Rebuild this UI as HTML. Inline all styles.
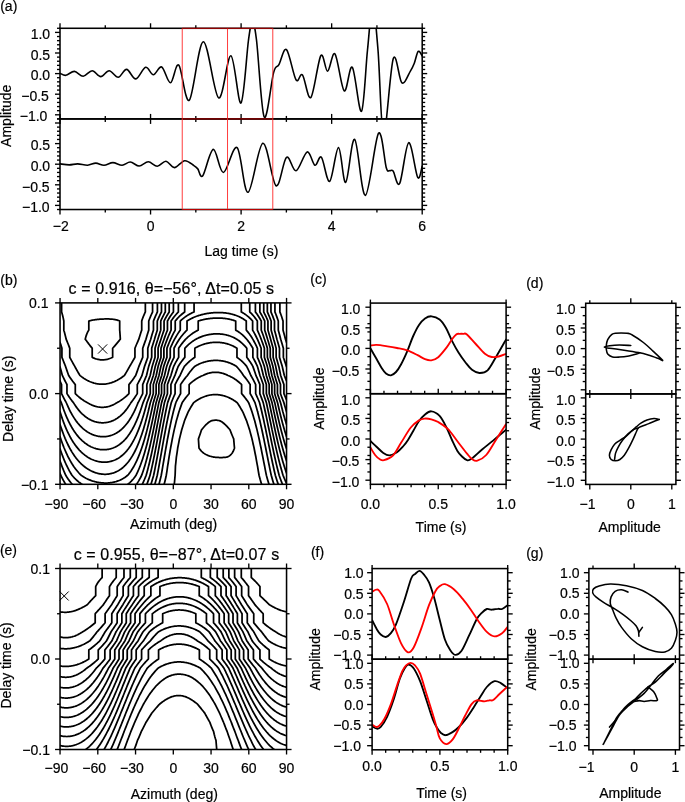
<!DOCTYPE html>
<html><head><meta charset="utf-8"><title>figure</title>
<style>html,body{margin:0;padding:0;background:#fff;}svg{display:block;will-change:transform;}text{font-family:"Liberation Sans",sans-serif;fill:#000;stroke:#000;stroke-width:0.2px;}</style>
</head><body>
<svg width="685" height="802" viewBox="0 0 685 802" font-family="Liberation Sans, sans-serif">
<rect width="685" height="802" fill="#fff"/>
<defs>
<clipPath id="ca1"><rect x="60" y="28.28" width="362.2" height="90.64"/></clipPath>
<clipPath id="ca2"><rect x="60" y="118.92" width="362.2" height="90.6"/></clipPath>
</defs>
<path d="M60.2,73.4C61.15,73.72 63.53,75.63 65.9,75.3C68.27,74.97 71.52,71.25 74.4,71.4C77.28,71.55 80.23,76.32 83.2,76.2C86.17,76.08 89.28,70.63 92.2,70.7C95.12,70.77 97.87,76.6 100.7,76.6C103.53,76.6 106.28,70.58 109.2,70.7C112.12,70.82 115.3,77.52 118.2,77.3C121.1,77.08 123.67,69.13 126.6,69.4C129.53,69.67 132.63,79.25 135.8,78.9C138.97,78.55 142.67,68 145.6,67.3C148.53,66.6 150.72,74.75 153.4,74.7C156.08,74.65 158.85,65.65 161.7,67C164.55,68.35 167.65,83.12 170.5,82.8C173.35,82.48 175.67,62.2 178.8,65.1C181.93,68 185.22,104.08 189.3,100.2C193.38,96.32 198.42,42.18 203.3,41.8C208.18,41.42 214,95.58 218.6,97.9C223.2,100.22 227.17,54.85 230.9,55.7C234.63,56.55 238.07,105.62 241,103C243.93,100.38 246.62,53.5 248.5,40C250.38,26.5 250.97,22 252.3,22C253.63,22 254.52,24.17 256.5,40C258.48,55.83 261.35,111.57 264.2,117C267.05,122.43 271.15,81.32 273.6,72.6C276.05,63.88 276.75,68.53 278.9,64.7C281.05,60.87 283.65,47.08 286.5,49.6C289.35,52.12 293.33,75.58 296,79.8C298.67,84.02 300.02,71.95 302.5,74.9C304.98,77.85 307.85,100.7 310.9,97.5C313.95,94.3 318.02,60.08 320.8,55.7C323.58,51.32 325.23,71.5 327.6,71.2C329.97,70.9 332.23,50.62 335,53.9C337.77,57.18 341.32,88.67 344.2,90.9C347.08,93.13 349.42,63.9 352.3,67.3C355.18,70.7 358.97,114.18 361.5,111.3C364.03,108.42 365.63,67.72 367.5,50C369.37,32.28 370.95,5 372.7,5C374.45,5 376.18,28.33 378,50C379.82,71.67 381.05,133.57 383.6,135C386.15,136.43 390.25,67.28 393.3,58.6C396.35,49.92 399.05,80.82 401.9,82.9C404.75,84.98 408.33,74.38 410.4,71.1C412.47,67.82 413,66.48 414.3,63.2C415.6,59.92 416.88,52.6 418.2,51.4C419.52,50.2 421.53,55.23 422.2,56" fill="none" stroke="#000" stroke-width="1.6" stroke-linejoin="round" stroke-linecap="round" clip-path="url(#ca1)"/>
<path d="M60.2,163.9C61.7,164.07 66.28,164.9 69.2,164.9C72.12,164.9 74.63,163.85 77.7,163.9C80.77,163.95 84.58,165.33 87.6,165.2C90.62,165.07 93.07,163.1 95.8,163.1C98.53,163.1 101.15,165.28 104,165.2C106.85,165.12 109.88,162.6 112.9,162.6C115.92,162.6 119.2,165.3 122.1,165.2C125,165.1 127.45,161.87 130.3,162C133.15,162.13 136.2,166.03 139.2,166C142.2,165.97 145.28,161.77 148.3,161.8C151.32,161.83 154.35,166.3 157.3,166.2C160.25,166.1 163.15,160.97 166,161.2C168.85,161.43 171.28,167.68 174.4,167.6C177.52,167.52 181.45,161.03 184.7,160.7C187.95,160.37 191.72,164.23 193.9,165.6C196.08,166.97 196.32,167.22 197.8,168.9C199.28,170.58 200.22,178.95 202.8,175.7C205.38,172.45 209.87,149.93 213.3,149.4C216.73,148.87 219.43,172.8 223.4,172.5C227.37,172.2 233,144.3 237.1,147.6C241.2,150.9 243.72,193.03 248,192.3C252.28,191.57 258.13,144.3 262.8,143.2C267.47,142.1 272.05,183.35 276,185.7C279.95,188.05 283.17,159.78 286.5,157.3C289.83,154.82 292.55,171.7 296,170.8C299.45,169.9 304.05,152.83 307.2,151.9C310.35,150.97 312.53,164.3 314.9,165.2C317.27,166.1 318.93,154.6 321.4,157.3C323.87,160 326.85,183.02 329.7,181.4C332.55,179.78 335.83,147.45 338.5,147.6C341.17,147.75 343,183.68 345.7,182.3C348.4,180.92 351.42,137.12 354.7,139.3C357.98,141.48 361.43,196.4 365.4,195.4C369.37,194.4 375.03,137.97 378.5,133.3C381.97,128.63 384.37,161.17 386.2,167.4C388.03,173.63 388.35,170.08 389.5,170.7C390.65,171.32 391.4,168.98 393.1,171.1C394.8,173.22 397.1,188.13 399.7,183.4C402.3,178.67 405.7,143.7 408.7,142.7C411.7,141.7 415.45,173.52 417.7,177.4C419.95,181.28 421.45,167.9 422.2,166" fill="none" stroke="#000" stroke-width="1.6" stroke-linejoin="round" stroke-linecap="round" clip-path="url(#ca2)"/>
<rect x="60" y="28.28" width="362.2" height="90.64" fill="none" stroke="#000" stroke-width="1.55"/>
<rect x="60" y="118.92" width="362.2" height="90.6" fill="none" stroke="#000" stroke-width="1.55"/>
<line x1="57" y1="118.92" x2="60" y2="118.92" stroke="#000" stroke-width="1.35"/>
<line x1="422.2" y1="118.92" x2="425.2" y2="118.92" stroke="#000" stroke-width="1.35"/>
<line x1="55" y1="114.8" x2="60" y2="114.8" stroke="#000" stroke-width="1.35"/>
<line x1="422.2" y1="114.8" x2="427.2" y2="114.8" stroke="#000" stroke-width="1.35"/>
<line x1="57" y1="110.68" x2="60" y2="110.68" stroke="#000" stroke-width="1.35"/>
<line x1="422.2" y1="110.68" x2="425.2" y2="110.68" stroke="#000" stroke-width="1.35"/>
<line x1="57" y1="106.56" x2="60" y2="106.56" stroke="#000" stroke-width="1.35"/>
<line x1="422.2" y1="106.56" x2="425.2" y2="106.56" stroke="#000" stroke-width="1.35"/>
<line x1="57" y1="102.44" x2="60" y2="102.44" stroke="#000" stroke-width="1.35"/>
<line x1="422.2" y1="102.44" x2="425.2" y2="102.44" stroke="#000" stroke-width="1.35"/>
<line x1="57" y1="98.32" x2="60" y2="98.32" stroke="#000" stroke-width="1.35"/>
<line x1="422.2" y1="98.32" x2="425.2" y2="98.32" stroke="#000" stroke-width="1.35"/>
<line x1="55" y1="94.2" x2="60" y2="94.2" stroke="#000" stroke-width="1.35"/>
<line x1="422.2" y1="94.2" x2="427.2" y2="94.2" stroke="#000" stroke-width="1.35"/>
<line x1="57" y1="90.08" x2="60" y2="90.08" stroke="#000" stroke-width="1.35"/>
<line x1="422.2" y1="90.08" x2="425.2" y2="90.08" stroke="#000" stroke-width="1.35"/>
<line x1="57" y1="85.96" x2="60" y2="85.96" stroke="#000" stroke-width="1.35"/>
<line x1="422.2" y1="85.96" x2="425.2" y2="85.96" stroke="#000" stroke-width="1.35"/>
<line x1="57" y1="81.84" x2="60" y2="81.84" stroke="#000" stroke-width="1.35"/>
<line x1="422.2" y1="81.84" x2="425.2" y2="81.84" stroke="#000" stroke-width="1.35"/>
<line x1="57" y1="77.72" x2="60" y2="77.72" stroke="#000" stroke-width="1.35"/>
<line x1="422.2" y1="77.72" x2="425.2" y2="77.72" stroke="#000" stroke-width="1.35"/>
<line x1="55" y1="73.6" x2="60" y2="73.6" stroke="#000" stroke-width="1.35"/>
<line x1="422.2" y1="73.6" x2="427.2" y2="73.6" stroke="#000" stroke-width="1.35"/>
<line x1="57" y1="69.48" x2="60" y2="69.48" stroke="#000" stroke-width="1.35"/>
<line x1="422.2" y1="69.48" x2="425.2" y2="69.48" stroke="#000" stroke-width="1.35"/>
<line x1="57" y1="65.36" x2="60" y2="65.36" stroke="#000" stroke-width="1.35"/>
<line x1="422.2" y1="65.36" x2="425.2" y2="65.36" stroke="#000" stroke-width="1.35"/>
<line x1="57" y1="61.24" x2="60" y2="61.24" stroke="#000" stroke-width="1.35"/>
<line x1="422.2" y1="61.24" x2="425.2" y2="61.24" stroke="#000" stroke-width="1.35"/>
<line x1="57" y1="57.12" x2="60" y2="57.12" stroke="#000" stroke-width="1.35"/>
<line x1="422.2" y1="57.12" x2="425.2" y2="57.12" stroke="#000" stroke-width="1.35"/>
<line x1="55" y1="53" x2="60" y2="53" stroke="#000" stroke-width="1.35"/>
<line x1="422.2" y1="53" x2="427.2" y2="53" stroke="#000" stroke-width="1.35"/>
<line x1="57" y1="48.88" x2="60" y2="48.88" stroke="#000" stroke-width="1.35"/>
<line x1="422.2" y1="48.88" x2="425.2" y2="48.88" stroke="#000" stroke-width="1.35"/>
<line x1="57" y1="44.76" x2="60" y2="44.76" stroke="#000" stroke-width="1.35"/>
<line x1="422.2" y1="44.76" x2="425.2" y2="44.76" stroke="#000" stroke-width="1.35"/>
<line x1="57" y1="40.64" x2="60" y2="40.64" stroke="#000" stroke-width="1.35"/>
<line x1="422.2" y1="40.64" x2="425.2" y2="40.64" stroke="#000" stroke-width="1.35"/>
<line x1="57" y1="36.52" x2="60" y2="36.52" stroke="#000" stroke-width="1.35"/>
<line x1="422.2" y1="36.52" x2="425.2" y2="36.52" stroke="#000" stroke-width="1.35"/>
<line x1="55" y1="32.4" x2="60" y2="32.4" stroke="#000" stroke-width="1.35"/>
<line x1="422.2" y1="32.4" x2="427.2" y2="32.4" stroke="#000" stroke-width="1.35"/>
<line x1="57" y1="28.28" x2="60" y2="28.28" stroke="#000" stroke-width="1.35"/>
<line x1="422.2" y1="28.28" x2="425.2" y2="28.28" stroke="#000" stroke-width="1.35"/>
<text x="50.1" y="39.2" font-size="14" text-anchor="end">1.0</text>
<text x="50.1" y="59.8" font-size="14" text-anchor="end">0.5</text>
<text x="50.1" y="80.4" font-size="14" text-anchor="end">0.0</text>
<text x="48.9" y="101" font-size="14" text-anchor="end">−0.5</text>
<text x="47.4" y="121.4" font-size="14" text-anchor="end">−1.0</text>
<line x1="57" y1="209.52" x2="60" y2="209.52" stroke="#000" stroke-width="1.35"/>
<line x1="422.2" y1="209.52" x2="425.2" y2="209.52" stroke="#000" stroke-width="1.35"/>
<line x1="55" y1="205.4" x2="60" y2="205.4" stroke="#000" stroke-width="1.35"/>
<line x1="422.2" y1="205.4" x2="427.2" y2="205.4" stroke="#000" stroke-width="1.35"/>
<line x1="57" y1="201.28" x2="60" y2="201.28" stroke="#000" stroke-width="1.35"/>
<line x1="422.2" y1="201.28" x2="425.2" y2="201.28" stroke="#000" stroke-width="1.35"/>
<line x1="57" y1="197.16" x2="60" y2="197.16" stroke="#000" stroke-width="1.35"/>
<line x1="422.2" y1="197.16" x2="425.2" y2="197.16" stroke="#000" stroke-width="1.35"/>
<line x1="57" y1="193.04" x2="60" y2="193.04" stroke="#000" stroke-width="1.35"/>
<line x1="422.2" y1="193.04" x2="425.2" y2="193.04" stroke="#000" stroke-width="1.35"/>
<line x1="57" y1="188.92" x2="60" y2="188.92" stroke="#000" stroke-width="1.35"/>
<line x1="422.2" y1="188.92" x2="425.2" y2="188.92" stroke="#000" stroke-width="1.35"/>
<line x1="55" y1="184.8" x2="60" y2="184.8" stroke="#000" stroke-width="1.35"/>
<line x1="422.2" y1="184.8" x2="427.2" y2="184.8" stroke="#000" stroke-width="1.35"/>
<line x1="57" y1="180.68" x2="60" y2="180.68" stroke="#000" stroke-width="1.35"/>
<line x1="422.2" y1="180.68" x2="425.2" y2="180.68" stroke="#000" stroke-width="1.35"/>
<line x1="57" y1="176.56" x2="60" y2="176.56" stroke="#000" stroke-width="1.35"/>
<line x1="422.2" y1="176.56" x2="425.2" y2="176.56" stroke="#000" stroke-width="1.35"/>
<line x1="57" y1="172.44" x2="60" y2="172.44" stroke="#000" stroke-width="1.35"/>
<line x1="422.2" y1="172.44" x2="425.2" y2="172.44" stroke="#000" stroke-width="1.35"/>
<line x1="57" y1="168.32" x2="60" y2="168.32" stroke="#000" stroke-width="1.35"/>
<line x1="422.2" y1="168.32" x2="425.2" y2="168.32" stroke="#000" stroke-width="1.35"/>
<line x1="55" y1="164.2" x2="60" y2="164.2" stroke="#000" stroke-width="1.35"/>
<line x1="422.2" y1="164.2" x2="427.2" y2="164.2" stroke="#000" stroke-width="1.35"/>
<line x1="57" y1="160.08" x2="60" y2="160.08" stroke="#000" stroke-width="1.35"/>
<line x1="422.2" y1="160.08" x2="425.2" y2="160.08" stroke="#000" stroke-width="1.35"/>
<line x1="57" y1="155.96" x2="60" y2="155.96" stroke="#000" stroke-width="1.35"/>
<line x1="422.2" y1="155.96" x2="425.2" y2="155.96" stroke="#000" stroke-width="1.35"/>
<line x1="57" y1="151.84" x2="60" y2="151.84" stroke="#000" stroke-width="1.35"/>
<line x1="422.2" y1="151.84" x2="425.2" y2="151.84" stroke="#000" stroke-width="1.35"/>
<line x1="57" y1="147.72" x2="60" y2="147.72" stroke="#000" stroke-width="1.35"/>
<line x1="422.2" y1="147.72" x2="425.2" y2="147.72" stroke="#000" stroke-width="1.35"/>
<line x1="55" y1="143.6" x2="60" y2="143.6" stroke="#000" stroke-width="1.35"/>
<line x1="422.2" y1="143.6" x2="427.2" y2="143.6" stroke="#000" stroke-width="1.35"/>
<line x1="57" y1="139.48" x2="60" y2="139.48" stroke="#000" stroke-width="1.35"/>
<line x1="422.2" y1="139.48" x2="425.2" y2="139.48" stroke="#000" stroke-width="1.35"/>
<line x1="57" y1="135.36" x2="60" y2="135.36" stroke="#000" stroke-width="1.35"/>
<line x1="422.2" y1="135.36" x2="425.2" y2="135.36" stroke="#000" stroke-width="1.35"/>
<line x1="57" y1="131.24" x2="60" y2="131.24" stroke="#000" stroke-width="1.35"/>
<line x1="422.2" y1="131.24" x2="425.2" y2="131.24" stroke="#000" stroke-width="1.35"/>
<line x1="57" y1="127.12" x2="60" y2="127.12" stroke="#000" stroke-width="1.35"/>
<line x1="422.2" y1="127.12" x2="425.2" y2="127.12" stroke="#000" stroke-width="1.35"/>
<line x1="55" y1="123" x2="60" y2="123" stroke="#000" stroke-width="1.35"/>
<line x1="422.2" y1="123" x2="427.2" y2="123" stroke="#000" stroke-width="1.35"/>
<line x1="57" y1="118.88" x2="60" y2="118.88" stroke="#000" stroke-width="1.35"/>
<line x1="422.2" y1="118.88" x2="425.2" y2="118.88" stroke="#000" stroke-width="1.35"/>
<text x="50.1" y="150.3" font-size="14" text-anchor="end">0.5</text>
<text x="50.1" y="170.9" font-size="14" text-anchor="end">0.0</text>
<text x="49.6" y="191.5" font-size="14" text-anchor="end">−0.5</text>
<text x="49.6" y="212.1" font-size="14" text-anchor="end">−1.0</text>
<line x1="60" y1="23.28" x2="60" y2="28.28" stroke="#000" stroke-width="1.35"/>
<line x1="60" y1="118.92" x2="60" y2="123.92" stroke="#000" stroke-width="1.35"/>
<line x1="105.28" y1="25.28" x2="105.28" y2="28.28" stroke="#000" stroke-width="1.35"/>
<line x1="105.28" y1="118.92" x2="105.28" y2="121.92" stroke="#000" stroke-width="1.35"/>
<line x1="150.55" y1="23.28" x2="150.55" y2="28.28" stroke="#000" stroke-width="1.35"/>
<line x1="150.55" y1="118.92" x2="150.55" y2="123.92" stroke="#000" stroke-width="1.35"/>
<line x1="195.82" y1="25.28" x2="195.82" y2="28.28" stroke="#000" stroke-width="1.35"/>
<line x1="195.82" y1="118.92" x2="195.82" y2="121.92" stroke="#000" stroke-width="1.35"/>
<line x1="241.1" y1="23.28" x2="241.1" y2="28.28" stroke="#000" stroke-width="1.35"/>
<line x1="241.1" y1="118.92" x2="241.1" y2="123.92" stroke="#000" stroke-width="1.35"/>
<line x1="286.38" y1="25.28" x2="286.38" y2="28.28" stroke="#000" stroke-width="1.35"/>
<line x1="286.38" y1="118.92" x2="286.38" y2="121.92" stroke="#000" stroke-width="1.35"/>
<line x1="331.65" y1="23.28" x2="331.65" y2="28.28" stroke="#000" stroke-width="1.35"/>
<line x1="331.65" y1="118.92" x2="331.65" y2="123.92" stroke="#000" stroke-width="1.35"/>
<line x1="376.93" y1="25.28" x2="376.93" y2="28.28" stroke="#000" stroke-width="1.35"/>
<line x1="376.93" y1="118.92" x2="376.93" y2="121.92" stroke="#000" stroke-width="1.35"/>
<line x1="422.2" y1="23.28" x2="422.2" y2="28.28" stroke="#000" stroke-width="1.35"/>
<line x1="422.2" y1="118.92" x2="422.2" y2="123.92" stroke="#000" stroke-width="1.35"/>
<line x1="60" y1="113.92" x2="60" y2="118.92" stroke="#000" stroke-width="1.35"/>
<line x1="60" y1="209.52" x2="60" y2="214.52" stroke="#000" stroke-width="1.35"/>
<line x1="105.28" y1="115.92" x2="105.28" y2="118.92" stroke="#000" stroke-width="1.35"/>
<line x1="105.28" y1="209.52" x2="105.28" y2="212.52" stroke="#000" stroke-width="1.35"/>
<line x1="150.55" y1="113.92" x2="150.55" y2="118.92" stroke="#000" stroke-width="1.35"/>
<line x1="150.55" y1="209.52" x2="150.55" y2="214.52" stroke="#000" stroke-width="1.35"/>
<line x1="195.82" y1="115.92" x2="195.82" y2="118.92" stroke="#000" stroke-width="1.35"/>
<line x1="195.82" y1="209.52" x2="195.82" y2="212.52" stroke="#000" stroke-width="1.35"/>
<line x1="241.1" y1="113.92" x2="241.1" y2="118.92" stroke="#000" stroke-width="1.35"/>
<line x1="241.1" y1="209.52" x2="241.1" y2="214.52" stroke="#000" stroke-width="1.35"/>
<line x1="286.38" y1="115.92" x2="286.38" y2="118.92" stroke="#000" stroke-width="1.35"/>
<line x1="286.38" y1="209.52" x2="286.38" y2="212.52" stroke="#000" stroke-width="1.35"/>
<line x1="331.65" y1="113.92" x2="331.65" y2="118.92" stroke="#000" stroke-width="1.35"/>
<line x1="331.65" y1="209.52" x2="331.65" y2="214.52" stroke="#000" stroke-width="1.35"/>
<line x1="376.93" y1="115.92" x2="376.93" y2="118.92" stroke="#000" stroke-width="1.35"/>
<line x1="376.93" y1="209.52" x2="376.93" y2="212.52" stroke="#000" stroke-width="1.35"/>
<line x1="422.2" y1="113.92" x2="422.2" y2="118.92" stroke="#000" stroke-width="1.35"/>
<line x1="422.2" y1="209.52" x2="422.2" y2="214.52" stroke="#000" stroke-width="1.35"/>
<text x="60.8" y="230.72" font-size="14" text-anchor="middle">−2</text>
<text x="150.55" y="230.72" font-size="14" text-anchor="middle">0</text>
<text x="241.1" y="230.72" font-size="14" text-anchor="middle">2</text>
<text x="331.65" y="230.72" font-size="14" text-anchor="middle">4</text>
<text x="422.2" y="230.72" font-size="14" text-anchor="middle">6</text>
<text x="241.5" y="256" font-size="14" text-anchor="middle">Lag time (s)</text>
<text x="10.6" y="115.75" font-size="14" text-anchor="middle" transform="rotate(-90 10.6 115.75)">Amplitude</text>
<text x="0.2" y="10.7" font-size="14" text-anchor="start">(a)</text>
<line x1="182.24" y1="28.28" x2="182.24" y2="209.52" stroke="#f33" stroke-width="0.95"/>
<line x1="227.52" y1="28.28" x2="227.52" y2="209.52" stroke="#f33" stroke-width="0.95"/>
<line x1="272.79" y1="28.28" x2="272.79" y2="209.52" stroke="#f33" stroke-width="0.95"/>
<line x1="182.24" y1="28.28" x2="272.79" y2="28.28" stroke="#b00" stroke-width="1"/>
<line x1="182.24" y1="118.92" x2="272.79" y2="118.92" stroke="#b00" stroke-width="1"/>
<line x1="182.24" y1="209.52" x2="272.79" y2="209.52" stroke="#b00" stroke-width="1"/>
<defs><clipPath id="cb"><rect x="60.05" y="302.9" width="226.5" height="181.4"/></clipPath></defs>
<path d="M219.91,420.81 220.49,421.1 221.12,421.45 221.75,421.84 222.38,422.27 223,422.73 223.63,423.23 224.26,423.76 224.89,424.33 225.52,424.92 226.15,425.54 226.78,426.19 227.41,426.86 228.04,427.56 228.67,428.28 229.3,429.02 229.92,429.78 230,429.88 230.55,431.31 231.18,432.92 231.81,434.49 232.44,436.02 233.07,437.52 233.69,438.95 233.7,439.13 234.33,446.49 234.5,448.02 234.33,448.54 233.7,450.2 233.07,451.54 232.44,452.64 231.81,453.55 231.18,454.3 230.55,454.93 229.92,455.46 229.3,455.9 228.67,456.28 228.04,456.59 227.41,456.85 226.78,457.07 226.73,457.09 226.15,457.19 225.52,457.28 224.89,457.35 224.26,457.41 223.63,457.46 223,457.49 222.38,457.52 221.75,457.54 221.12,457.54 220.49,457.54 219.86,457.53 219.23,457.51 218.6,457.49 217.97,457.46 217.34,457.42 216.71,457.38 216.08,457.33 215.45,457.27 214.82,457.21 214.2,457.14 213.81,457.09 213.57,457.04 212.94,456.91 212.31,456.77 211.68,456.61 211.05,456.45 210.42,456.26 209.79,456.07 209.16,455.86 208.53,455.63 207.9,455.38 207.27,455.11 206.65,454.82 206.02,454.51 205.39,454.17 204.76,453.79 204.13,453.38 203.5,452.94 202.87,452.45 202.24,451.9 201.61,451.31 200.98,450.64 200.35,449.9 199.73,449.08 199.1,448.16 199.01,448.02 198.47,439.78 198.43,438.95 198.47,438.84 199.1,437.08 199.73,435.28 200.35,433.42 200.98,431.52 201.52,429.88 201.61,429.75 202.24,428.96 202.87,428.19 203.5,427.44 204.13,426.72 204.76,426.02 205.39,425.36 206.02,424.72 206.65,424.12 207.27,423.55 207.9,423.02 208.53,422.52 209.16,422.06 209.79,421.64 210.42,421.26 211.05,420.92 211.29,420.81 211.68,420.7 212.31,420.56 212.94,420.43 213.57,420.34 214.2,420.27 214.82,420.22 215.45,420.2 216.08,420.21 216.71,420.24 217.34,420.3 217.97,420.39 218.6,420.5 219.23,420.63 219.86,420.79 219.91,420.81" fill="none" stroke="#000" stroke-width="1.75" stroke-linejoin="round" stroke-linecap="round" clip-path="url(#cb)"/>
<path d="M174.23,484.3 174.56,481.61 175.11,475.23 175.19,473.37 175.44,466.16 175.82,462.77 176.36,457.09 176.45,456.56 177.08,452.52 177.7,448.02 177.7,448.02 178.33,444.91 178.96,441.64 179.46,438.95 179.59,438.4 180.22,435.89 180.85,433.32 181.48,430.68 181.67,429.88 182.11,428.47 182.74,426.46 183.37,424.45 184,422.43 184.5,420.81 184.62,420.49 185.25,418.93 185.88,417.39 186.51,415.87 187.14,414.36 187.77,412.87 188.26,411.74 188.4,411.47 189.03,410.33 189.66,409.21 190.29,408.11 190.92,407.04 191.55,406 192.18,404.98 192.8,403.98 193.43,403.01 193.66,402.67 194.06,402.36 194.69,401.9 195.32,401.45 195.95,401.01 196.58,400.59 197.21,400.19 197.84,399.8 198.47,399.42 199.1,399.06 199.73,398.72 200.35,398.39 200.98,398.07 201.61,397.77 202.24,397.48 202.87,397.21 203.5,396.95 204.13,396.71 204.76,396.48 205.39,396.26 206.02,396.05 206.65,395.86 207.27,395.69 207.9,395.52 208.53,395.37 209.16,395.24 209.79,395.11 210.42,395 211.05,394.91 211.68,394.82 212.31,394.75 212.94,394.7 213.57,394.65 214.2,394.62 214.82,394.6 215.45,394.6 216.08,394.61 216.71,394.63 217.34,394.66 217.97,394.71 218.6,394.77 219.23,394.85 219.86,394.93 220.49,395.03 221.12,395.15 221.75,395.27 222.38,395.41 223,395.56 223.63,395.73 224.26,395.91 224.89,396.1 225.52,396.31 226.15,396.53 226.78,396.76 227.41,397.01 228.04,397.27 228.67,397.55 229.3,397.84 229.92,398.14 230.55,398.45 231.18,398.79 231.81,399.13 232.44,399.49 233.07,399.86 233.7,400.25 234.33,400.66 234.96,401.08 235.59,401.51 236.22,401.96 236.85,402.42 237.17,402.67 237.48,403.12 238.1,404.07 238.73,405.05 239.36,406.05 239.99,407.07 240.62,408.12 241.25,409.19 241.88,410.28 242.51,411.39 242.7,411.74 243.14,412.73 243.77,414.16 244.4,415.61 245.02,417.08 245.65,418.56 246.28,420.05 246.6,420.81 246.91,421.76 247.54,423.67 248.17,425.58 248.8,427.47 249.43,429.36 249.6,429.88 250.06,431.63 250.69,434.01 251.32,436.33 251.95,438.61 252.04,438.95 252.58,441.43 253.2,444.23 253.83,446.92 254.09,448.02 254.46,450 255.09,453.23 255.72,456.27 255.89,457.09 256.35,459.84 256.98,463.35 257.52,466.16 257.61,466.73 258.24,470.71 258.87,474.25 259.05,475.23 259.5,476.96 260.12,479.27 260.75,481.41 261.38,483.42 261.67,484.3" fill="none" stroke="#000" stroke-width="1.75" stroke-linejoin="round" stroke-linecap="round" clip-path="url(#cb)"/>
<path d="M164.16,484.3 164.49,483.01 165.12,480.44 165.75,477.69 166.27,475.23 166.38,474.58 167.01,470.52 167.62,466.16 167.64,466.06 168.27,462.24 168.9,458.14 169.05,457.09 169.52,454.41 170.15,450.7 170.59,448.02 170.78,447.02 171.41,443.72 172.04,440.3 172.29,438.95 172.67,437.14 173.3,434.17 173.93,431.14 174.19,429.88 174.56,428.36 175.19,425.76 175.82,423.16 176.38,420.81 176.45,420.58 177.08,418.37 177.7,416.17 178.33,413.98 178.96,411.81 178.98,411.74 179.59,409.96 180.22,408.16 180.85,406.37 181.48,404.62 182.11,402.89 182.19,402.67 182.74,401.86 183.37,400.95 184,400.07 184.62,399.2 185.25,398.36 185.88,397.53 186.51,396.73 187.14,395.95 187.77,395.19 188.4,394.45 189.03,393.72 189.14,393.6 189.14,384.53 189.66,384.05 190.29,383.47 190.92,382.92 191.55,382.39 192.18,381.87 192.8,381.37 193.43,380.88 194.06,380.42 194.69,379.97 195.32,379.53 195.95,379.11 196.58,378.71 197.21,378.32 197.84,377.95 198.47,377.59 199.1,377.25 199.73,376.92 200.35,376.6 200.98,376.3 201.61,376.02 202.24,375.74 202.87,375.48 202.93,375.46 203.5,375.17 204.13,374.88 204.76,374.59 205.39,374.33 206.02,374.08 206.65,373.85 207.27,373.63 207.9,373.43 208.53,373.25 209.16,373.08 209.79,372.93 210.42,372.8 211.05,372.68 211.68,372.58 212.31,372.49 212.94,372.42 213.57,372.36 214.2,372.32 214.82,372.3 215.45,372.29 216.08,372.29 216.71,372.32 217.34,372.35 217.97,372.41 218.6,372.48 219.23,372.56 219.86,372.66 220.49,372.78 221.12,372.91 221.75,373.06 222.38,373.23 223,373.41 223.63,373.61 224.26,373.82 224.89,374.06 225.52,374.31 226.15,374.57 226.78,374.86 227.41,375.16 227.99,375.46 228.04,375.48 228.67,375.74 229.3,376.02 229.92,376.31 230.55,376.61 231.18,376.93 231.81,377.26 232.44,377.61 233.07,377.97 233.7,378.35 234.33,378.74 234.96,379.15 235.59,379.58 236.22,380.02 236.85,380.48 237.48,380.96 238.1,381.45 238.73,381.96 239.36,382.49 239.99,383.04 240.62,383.61 241.25,384.19 241.6,384.53 241.6,393.6 241.88,393.91 242.51,394.63 243.14,395.37 243.77,396.13 244.4,396.9 245.02,397.7 245.65,398.51 246.28,399.35 246.91,400.2 247.54,401.08 248.17,401.98 248.64,402.67 248.8,403.07 249.43,404.75 250.06,406.44 250.69,408.16 251.32,409.91 251.95,411.67 251.97,411.74 252.58,413.74 253.2,415.82 253.83,417.91 254.46,420.01 254.7,420.81 255.09,422.34 255.72,424.79 256.35,427.22 256.98,429.64 257.04,429.88 257.61,432.4 258.24,435.16 258.87,437.86 259.12,438.95 259.5,440.79 260.12,443.82 260.75,446.75 261.03,448.02 261.38,449.87 262.01,453.07 262.64,456.14 262.84,457.09 263.27,459.42 263.9,462.68 264.53,465.78 264.61,466.16 265.16,469.13 265.79,472.34 266.39,475.23 266.42,475.35 267.05,477.69 267.68,479.94 268.3,482.08 268.93,484.15 268.98,484.3" fill="none" stroke="#000" stroke-width="1.75" stroke-linejoin="round" stroke-linecap="round" clip-path="url(#cb)"/>
<path d="M158.99,484.3 159.46,482.54 160.09,480.09 160.72,477.53 161.26,475.23 161.35,474.73 161.98,471.17 162.6,467.39 162.8,466.16 163.23,463.72 163.86,460.02 164.34,457.09 164.49,456.24 165.12,452.68 165.75,448.97 165.91,448.02 166.38,445.47 167.01,441.99 167.54,438.95 167.64,438.47 168.27,435.25 168.9,431.97 169.29,429.88 169.52,428.78 170.15,425.81 170.78,422.82 171.21,420.81 171.41,419.92 172.04,417.26 172.67,414.6 173.3,411.95 173.35,411.74 173.93,409.58 174.56,407.27 175.19,404.98 175.82,402.71 175.83,402.67 176.45,401.42 177.08,400.16 177.7,398.93 178.33,397.73 178.96,396.55 179.59,395.39 180.22,394.26 180.6,393.6 180.6,384.53 180.85,384.14 181.48,383.2 182.11,382.29 182.74,381.4 183.37,380.54 184,379.69 184.62,378.87 185.25,378.08 185.88,377.3 186.51,376.55 187.14,375.82 187.46,375.46 187.77,374.99 188.4,374.07 189.03,373.19 189.66,372.33 190.29,371.5 190.92,370.7 191.55,369.93 192.18,369.18 192.8,368.45 193.43,367.76 194.06,367.09 194.69,366.44 194.74,366.39 195.32,366.04 195.95,365.68 196.58,365.33 197.21,365 197.84,364.68 198.47,364.37 199.1,364.08 199.73,363.8 200.35,363.53 200.98,363.27 201.61,363.03 202.24,362.8 202.87,362.57 203.5,362.37 204.13,362.17 204.76,361.98 205.39,361.81 206.02,361.64 206.65,361.49 207.27,361.34 207.9,361.21 208.53,361.09 209.16,360.98 209.79,360.88 210.42,360.78 211.05,360.7 211.68,360.63 212.31,360.57 212.94,360.52 213.57,360.48 214.2,360.44 214.82,360.42 215.45,360.41 216.08,360.41 216.71,360.42 217.34,360.44 217.97,360.47 218.6,360.5 219.23,360.55 219.86,360.61 220.49,360.68 221.12,360.76 221.75,360.85 222.38,360.95 223,361.07 223.63,361.19 224.26,361.32 224.89,361.47 225.52,361.62 226.15,361.79 226.78,361.97 227.41,362.16 228.04,362.37 228.67,362.58 229.3,362.81 229.92,363.05 230.55,363.31 231.18,363.58 231.81,363.86 232.44,364.16 233.07,364.47 233.7,364.79 234.33,365.13 234.96,365.49 235.59,365.86 236.22,366.25 236.43,366.39 236.85,366.82 237.48,367.51 238.1,368.22 238.73,368.96 239.36,369.73 239.99,370.53 240.62,371.35 241.25,372.21 241.88,373.1 242.51,374.02 243.14,374.98 243.45,375.46 243.77,375.83 244.4,376.58 245.02,377.35 245.65,378.14 246.28,378.96 246.91,379.8 247.54,380.67 248.17,381.56 248.8,382.47 249.43,383.41 250.06,384.38 250.15,384.53 250.15,393.6 250.69,394.53 251.32,395.65 251.95,396.79 252.58,397.95 253.2,399.14 253.83,400.35 254.46,401.58 255.01,402.67 255.09,402.94 255.72,405.12 256.35,407.31 256.98,409.52 257.61,411.74 257.61,411.75 258.24,414.26 258.87,416.77 259.5,419.27 259.88,420.81 260.12,421.9 260.75,424.69 261.38,427.45 261.94,429.88 262.01,430.23 262.64,433.25 263.27,436.22 263.86,438.95 263.9,439.15 264.53,442.33 265.16,445.42 265.7,448.02 265.79,448.48 266.42,451.72 267.05,454.85 267.51,457.09 267.68,457.96 268.3,461.16 268.93,464.25 269.34,466.16 269.56,467.31 270.19,470.41 270.82,473.37 271.23,475.23 271.45,476.03 272.08,478.25 272.71,480.39 273.34,482.44 273.93,484.3" fill="none" stroke="#000" stroke-width="1.75" stroke-linejoin="round" stroke-linecap="round" clip-path="url(#cb)"/>
<path d="M154.83,484.3 155.05,483.53 155.68,481.3 156.31,478.98 156.94,476.56 157.28,475.23 157.57,473.71 158.2,470.37 158.83,466.88 158.96,466.16 159.46,463.45 160.09,459.93 160.58,457.09 160.72,456.33 161.35,452.84 161.98,449.23 162.18,448.02 162.6,445.71 163.23,442.2 163.8,438.95 163.86,438.63 164.49,435.26 165.12,431.84 165.48,429.88 165.75,428.49 166.38,425.28 167.01,422.04 167.25,420.81 167.64,418.96 168.27,415.97 168.9,412.99 169.16,411.74 169.52,410.16 170.15,407.46 170.78,404.77 171.28,402.67 171.41,402.34 172.04,400.79 172.67,399.26 173.3,397.75 173.93,396.27 174.56,394.82 175.09,393.6 175.09,384.53 175.19,384.34 175.82,383.1 176.45,381.88 177.08,380.69 177.7,379.53 178.33,378.39 178.96,377.28 179.59,376.2 180.03,375.46 180.22,375.03 180.85,373.63 181.48,372.27 182.11,370.95 182.74,369.67 183.37,368.43 184,367.22 184.44,366.39 184.62,366.18 185.25,365.48 185.88,364.81 186.51,364.15 187.14,363.52 187.77,362.91 188.4,362.32 189.03,361.75 189.66,361.19 190.29,360.66 190.92,360.14 191.55,359.65 192.18,359.17 192.8,358.7 193.43,358.26 194.06,357.83 194.69,357.41 194.84,357.32 194.84,348.25 195.32,347.96 195.95,347.61 196.58,347.26 197.21,346.93 197.84,346.62 198.47,346.31 199.1,346.02 199.73,345.75 200.35,345.48 200.98,345.23 201.61,344.98 202.24,344.75 202.87,344.53 203.5,344.33 204.13,344.13 204.76,343.94 205.39,343.77 206.02,343.6 206.65,343.45 207.27,343.3 207.9,343.17 208.53,343.04 209.16,342.93 209.79,342.82 210.42,342.73 211.05,342.64 211.68,342.57 212.31,342.5 212.94,342.44 213.57,342.4 214.2,342.36 214.82,342.33 215.45,342.31 216.08,342.3 216.71,342.3 217.34,342.32 217.97,342.34 218.6,342.37 219.23,342.41 219.86,342.46 220.49,342.52 221.12,342.59 221.75,342.67 222.38,342.76 223,342.86 223.63,342.97 224.26,343.09 224.89,343.23 225.52,343.37 226.15,343.53 226.78,343.69 227.41,343.87 228.04,344.06 228.67,344.27 229.3,344.48 229.92,344.71 230.55,344.95 231.18,345.21 231.81,345.48 232.44,345.76 233.07,346.06 233.7,346.37 234.33,346.7 234.96,347.04 235.59,347.4 236.22,347.78 236.85,348.17 236.97,348.25 236.97,357.32 237.48,357.67 238.1,358.12 238.73,358.59 239.36,359.08 239.99,359.59 240.62,360.12 241.25,360.67 241.88,361.24 242.51,361.84 243.14,362.45 243.77,363.1 244.4,363.76 245.02,364.45 245.65,365.17 246.28,365.91 246.68,366.39 246.91,366.84 247.54,368.1 248.17,369.41 248.8,370.75 249.43,372.14 250.06,373.57 250.69,375.04 250.86,375.46 251.32,376.25 251.95,377.36 252.58,378.51 253.2,379.68 253.83,380.88 254.46,382.11 255.09,383.37 255.66,384.53 255.66,393.6 255.72,393.74 256.35,395.14 256.98,396.57 257.61,398.02 258.24,399.49 258.87,400.99 259.5,402.5 259.56,402.67 260.12,404.93 260.75,407.48 261.38,410.04 261.8,411.74 262.01,412.69 262.64,415.48 263.27,418.27 263.85,420.81 263.9,421.06 264.53,424.06 265.16,427.02 265.77,429.88 265.79,429.96 266.42,433.09 267.05,436.16 267.63,438.95 267.68,439.18 268.3,442.36 268.93,445.46 269.47,448.02 269.56,448.51 270.19,451.67 270.82,454.71 271.32,457.09 271.45,457.71 272.08,460.76 272.71,463.7 273.25,466.16 273.34,466.56 273.97,469.46 274.6,472.25 275.23,474.92 275.3,475.23 275.85,477.07 276.48,479.08 277.11,481.02 277.74,482.88 278.24,484.3" fill="none" stroke="#000" stroke-width="1.75" stroke-linejoin="round" stroke-linecap="round" clip-path="url(#cb)"/>
<path d="M150.93,484.3 151.28,483.21 151.91,481.21 152.54,479.12 153.17,476.95 153.65,475.23 153.8,474.54 154.43,471.54 155.05,468.41 155.49,466.16 155.68,465.2 156.31,461.98 156.94,458.64 157.23,457.09 157.57,455.28 158.2,451.9 158.83,448.41 158.9,448.02 159.46,445.01 160.09,441.54 160.55,438.95 160.72,438.04 161.35,434.64 161.98,431.17 162.21,429.88 162.6,427.78 163.23,424.45 163.86,421.07 163.91,420.81 164.49,417.88 165.12,414.69 165.7,411.74 165.75,411.51 166.38,408.53 167.01,405.56 167.62,402.67 167.64,402.63 168.27,400.85 168.9,399.1 169.52,397.36 170.15,395.65 170.78,393.96 170.92,393.6 170.92,384.53 171.41,383.35 172.04,381.87 172.67,380.42 173.3,379 173.93,377.61 174.56,376.24 174.93,375.46 175.19,374.69 175.82,372.89 176.45,371.12 177.08,369.41 177.7,367.74 178.22,366.39 178.33,366.21 178.96,365.22 179.59,364.26 180.22,363.33 180.85,362.43 181.48,361.56 182.11,360.71 182.74,359.89 183.37,359.09 184,358.32 184.62,357.57 184.84,357.32 184.84,348.25 185.25,347.8 185.88,347.14 186.51,346.51 187.14,345.89 187.77,345.29 188.4,344.72 189.03,344.16 189.66,343.63 190.29,343.11 190.92,342.61 191.55,342.12 192.18,341.66 192.8,341.21 193.43,340.78 194.06,340.36 194.69,339.95 195.32,339.57 195.95,339.19 195.97,339.18 196.58,338.86 197.21,338.53 197.84,338.22 198.47,337.92 199.1,337.64 199.73,337.36 200.35,337.1 200.98,336.85 201.61,336.61 202.24,336.39 202.87,336.17 203.5,335.96 204.13,335.77 204.76,335.58 205.39,335.4 206.02,335.24 206.65,335.08 207.27,334.94 207.9,334.8 208.53,334.67 209.16,334.56 209.79,334.45 210.42,334.35 211.05,334.26 211.68,334.18 212.31,334.11 212.94,334.05 213.57,333.99 214.2,333.95 214.82,333.91 215.45,333.89 216.08,333.87 216.71,333.86 217.34,333.86 217.97,333.88 218.6,333.9 219.23,333.92 219.86,333.96 220.49,334.01 221.12,334.07 221.75,334.14 222.38,334.22 223,334.3 223.63,334.4 224.26,334.51 224.89,334.63 225.52,334.76 226.15,334.9 226.78,335.05 227.41,335.22 228.04,335.39 228.67,335.58 229.3,335.78 229.92,335.99 230.55,336.22 231.18,336.46 231.81,336.71 232.44,336.97 233.07,337.25 233.7,337.55 234.33,337.86 234.96,338.18 235.59,338.53 236.22,338.89 236.71,339.18 236.85,339.26 237.48,339.68 238.1,340.11 238.73,340.55 239.36,341.02 239.99,341.51 240.62,342.02 241.25,342.55 241.88,343.1 242.51,343.67 243.14,344.27 243.77,344.89 244.4,345.54 245.02,346.21 245.65,346.91 246.28,347.64 246.79,348.25 246.79,357.32 246.91,357.47 247.54,358.28 248.17,359.12 248.8,359.99 249.43,360.89 250.06,361.82 250.69,362.79 251.32,363.79 251.95,364.82 252.58,365.89 252.86,366.39 253.2,367.33 253.83,369.1 254.46,370.92 255.09,372.79 255.72,374.72 255.96,375.46 256.35,376.32 256.98,377.73 257.61,379.18 258.24,380.65 258.87,382.15 259.5,383.69 259.83,384.53 259.83,393.6 260.12,394.35 260.75,396 261.38,397.67 262.01,399.36 262.64,401.07 263.22,402.67 263.27,402.88 263.9,405.67 264.53,408.47 265.16,411.27 265.26,411.74 265.79,414.22 266.42,417.18 267.05,420.12 267.19,420.81 267.68,423.17 268.3,426.23 268.93,429.24 269.07,429.88 269.56,432.35 270.19,435.43 270.82,438.44 270.93,438.95 271.45,441.54 272.08,444.57 272.71,447.52 272.82,448.02 273.34,450.52 273.97,453.45 274.6,456.29 274.78,457.09 275.23,459.13 275.85,461.91 276.48,464.59 276.86,466.16 277.11,467.22 277.74,469.83 278.37,472.33 279,474.74 279.13,475.23 279.63,476.71 280.26,478.51 280.89,480.24 281.52,481.91 282.15,483.51 282.46,484.3" fill="none" stroke="#000" stroke-width="1.75" stroke-linejoin="round" stroke-linecap="round" clip-path="url(#cb)"/>
<path d="M60.05,483.43 60.47,484.3" fill="none" stroke="#000" stroke-width="1.75" stroke-linejoin="round" stroke-linecap="round" clip-path="url(#cb)"/>
<path d="M146.87,484.3 146.88,484.29 147.5,482.64 148.13,480.91 148.76,479.11 149.39,477.23 150.02,475.28 150.04,475.23 150.65,472.67 151.28,469.94 151.91,467.1 152.11,466.16 152.54,464.21 153.17,461.25 153.8,458.18 154.01,457.09 154.43,455.07 155.05,451.91 155.68,448.64 155.8,448.02 156.31,445.39 156.94,442.08 157.52,438.95 157.57,438.69 158.2,435.37 158.83,431.98 159.21,429.88 159.46,428.59 160.09,425.24 160.72,421.86 160.91,420.81 161.35,418.55 161.98,415.27 162.6,411.96 162.65,411.74 163.23,408.81 163.86,405.66 164.46,402.67 164.49,402.57 165.12,400.64 165.75,398.72 166.38,396.82 167.01,394.93 167.46,393.6 167.46,384.53 167.64,384.04 168.27,382.34 168.9,380.67 169.52,379.03 170.15,377.41 170.78,375.83 170.93,375.46 171.41,373.78 172.04,371.63 172.67,369.52 173.3,367.47 173.64,366.39 173.93,365.8 174.56,364.56 175.19,363.36 175.82,362.19 176.45,361.05 177.08,359.95 177.7,358.88 178.33,357.84 178.66,357.32 178.66,348.25 178.96,347.78 179.59,346.84 180.22,345.94 180.85,345.06 181.48,344.21 182.11,343.39 182.74,342.59 183.37,341.82 184,341.08 184.62,340.36 185.25,339.66 185.7,339.18 185.88,339 186.51,338.38 187.14,337.78 187.77,337.2 188.4,336.64 189.03,336.1 189.66,335.58 190.29,335.08 190.92,334.6 191.55,334.13 192.18,333.68 192.8,333.24 193.43,332.82 194.06,332.42 194.69,332.03 195.32,331.66 195.95,331.3 196.58,330.95 197.21,330.61 197.84,330.29 198.21,330.11 198.21,321.04 198.47,320.96 199.1,320.76 199.73,320.57 200.35,320.38 200.98,320.21 201.61,320.04 202.24,319.88 202.87,319.73 203.5,319.59 204.13,319.45 204.76,319.32 205.39,319.2 206.02,319.08 206.65,318.97 207.27,318.87 207.9,318.77 208.53,318.68 209.16,318.59 209.79,318.52 210.42,318.44 211.05,318.38 211.68,318.32 212.31,318.27 212.94,318.22 213.57,318.18 214.2,318.14 214.82,318.11 215.45,318.09 216.08,318.07 216.71,318.06 217.34,318.05 217.97,318.05 218.6,318.06 219.23,318.07 219.86,318.09 220.49,318.12 221.12,318.15 221.75,318.19 222.38,318.24 223,318.29 223.63,318.35 224.26,318.41 224.89,318.49 225.52,318.57 226.15,318.65 226.78,318.75 227.41,318.85 228.04,318.96 228.67,319.08 229.3,319.21 229.92,319.35 230.55,319.49 231.18,319.64 231.81,319.81 232.44,319.98 233.07,320.16 233.7,320.35 234.33,320.56 234.96,320.77 235.59,321 235.71,321.04 235.71,330.11 236.22,330.39 236.85,330.76 237.48,331.15 238.1,331.55 238.73,331.97 239.36,332.41 239.99,332.88 240.62,333.36 241.25,333.86 241.88,334.39 242.51,334.94 243.14,335.51 243.77,336.11 244.4,336.73 245.02,337.38 245.65,338.06 246.28,338.76 246.64,339.18 246.91,339.51 247.54,340.29 248.17,341.11 248.8,341.95 249.43,342.83 250.06,343.74 250.69,344.69 251.32,345.67 251.95,346.68 252.58,347.74 252.87,348.25 252.87,357.32 253.2,357.91 253.83,359.07 254.46,360.26 255.09,361.49 255.72,362.75 256.35,364.06 256.98,365.41 257.42,366.39 257.61,367.03 258.24,369.22 258.87,371.46 259.5,373.77 259.95,375.46 260.12,375.92 260.75,377.56 261.38,379.24 262.01,380.95 262.64,382.68 263.27,384.45 263.3,384.53 263.3,393.6 263.9,395.33 264.53,397.17 265.16,399.02 265.79,400.88 266.39,402.67 266.42,402.8 267.05,405.75 267.68,408.7 268.3,411.64 268.33,411.74 268.93,414.69 269.56,417.71 270.19,420.71 270.21,420.81 270.82,423.79 271.45,426.83 272.08,429.82 272.09,429.88 272.71,432.87 273.34,435.85 273.97,438.76 274.01,438.95 274.6,441.71 275.23,444.59 275.85,447.38 276,448.02 276.48,450.17 277.11,452.89 277.74,455.53 278.13,457.09 278.37,458.11 279,460.66 279.63,463.11 280.26,465.49 280.44,466.16 280.89,467.82 281.52,470.1 282.15,472.28 282.77,474.39 283.03,475.23 283.4,476.18 284.03,477.75 284.66,479.25 285.29,480.7 285.92,482.09 286.55,483.43" fill="none" stroke="#000" stroke-width="1.75" stroke-linejoin="round" stroke-linecap="round" clip-path="url(#cb)"/>
<path d="M60.05,473.23 60.68,474.98 60.77,475.23 61.31,476.36 61.94,477.64 62.57,478.87 63.2,480.05 63.82,481.19 64.45,482.29 65.08,483.35 65.67,484.3" fill="none" stroke="#000" stroke-width="1.75" stroke-linejoin="round" stroke-linecap="round" clip-path="url(#cb)"/>
<path d="M142.27,484.3 142.47,483.89 143.1,482.57 143.73,481.18 144.36,479.74 144.99,478.24 145.62,476.66 146.17,475.23 146.25,474.96 146.88,472.72 147.5,470.4 148.13,467.98 148.59,466.16 148.76,465.48 149.39,462.92 150.02,460.27 150.65,457.51 150.74,457.09 151.28,454.72 151.91,451.84 152.54,448.86 152.71,448.02 153.17,445.86 153.8,442.79 154.43,439.63 154.56,438.95 155.05,436.47 155.68,433.26 156.31,429.98 156.33,429.88 156.94,426.74 157.57,423.45 158.07,420.81 158.2,420.13 158.83,416.87 159.46,413.57 159.8,411.74 160.09,410.3 160.72,407.08 161.35,403.85 161.58,402.67 161.98,401.37 162.6,399.34 163.23,397.32 163.86,395.31 164.4,393.6 164.4,384.53 164.49,384.26 165.12,382.4 165.75,380.57 166.38,378.77 167.01,376.98 167.55,375.46 167.64,375.12 168.27,372.63 168.9,370.2 169.52,367.81 169.91,366.39 170.15,365.8 170.78,364.33 171.41,362.89 172.04,361.5 172.67,360.14 173.3,358.82 173.93,357.53 174.04,357.32 174.04,348.25 174.56,347.24 175.19,346.07 175.82,344.93 176.45,343.83 177.08,342.76 177.7,341.72 178.33,340.72 178.96,339.74 179.34,339.18 179.59,338.81 180.22,337.93 180.85,337.08 181.48,336.26 182.11,335.46 182.74,334.7 183.37,333.95 184,333.24 184.62,332.55 185.25,331.88 185.88,331.23 186.51,330.6 187.03,330.11 187.03,321.04 187.14,320.96 187.77,320.56 188.4,320.18 189.03,319.81 189.66,319.45 190.29,319.1 190.92,318.77 191.55,318.45 192.18,318.14 192.8,317.85 193.43,317.56 194.06,317.28 194.69,317.02 195.32,316.76 195.95,316.52 196.58,316.28 197.21,316.05 197.84,315.83 198.47,315.62 199.1,315.42 199.73,315.23 200.35,315.04 200.98,314.87 201.61,314.69 202.24,314.53 202.87,314.38 203.5,314.23 204.13,314.09 204.76,313.95 205.39,313.82 206.02,313.7 206.65,313.59 207.27,313.48 207.9,313.38 208.53,313.28 209.16,313.19 209.79,313.11 210.42,313.03 211.05,312.96 211.68,312.89 212.31,312.83 212.94,312.78 213.57,312.73 214.2,312.69 214.82,312.66 215.45,312.63 216.08,312.6 216.71,312.58 217.34,312.57 217.97,312.57 218.6,312.57 219.23,312.57 219.86,312.59 220.49,312.6 221.12,312.63 221.75,312.66 222.38,312.7 223,312.74 223.63,312.8 224.26,312.85 224.89,312.92 225.52,312.99 226.15,313.07 226.78,313.16 227.41,313.25 228.04,313.36 228.67,313.47 229.3,313.58 229.92,313.71 230.55,313.85 231.18,313.99 231.81,314.14 232.44,314.31 233.07,314.48 233.7,314.66 234.33,314.86 234.96,315.06 235.59,315.27 236.22,315.5 236.85,315.74 237.48,315.99 238.1,316.25 238.73,316.53 239.36,316.81 239.99,317.12 240.62,317.44 241.25,317.77 241.88,318.12 242.51,318.48 243.14,318.86 243.77,319.26 244.4,319.68 245.02,320.12 245.65,320.57 246.27,321.04 246.27,330.11 246.28,330.12 246.91,330.85 247.54,331.6 248.17,332.38 248.8,333.2 249.43,334.05 250.06,334.93 250.69,335.85 251.32,336.81 251.95,337.8 252.58,338.84 252.78,339.18 253.2,339.92 253.83,341.05 254.46,342.21 255.09,343.42 255.72,344.67 256.35,345.97 256.98,347.31 257.41,348.25 257.41,357.32 257.61,357.77 258.24,359.21 258.87,360.69 259.5,362.21 260.12,363.78 260.75,365.39 261.13,366.39 261.38,367.39 262.01,369.95 262.64,372.57 263.27,375.24 263.32,375.46 263.9,377.14 264.53,379 265.16,380.88 265.79,382.78 266.36,384.53 266.36,393.6 266.42,393.78 267.05,395.72 267.68,397.67 268.3,399.63 268.93,401.59 269.28,402.67 269.56,404.04 270.19,407.06 270.82,410.06 271.17,411.74 271.45,413.08 272.08,416.11 272.71,419.1 273.07,420.81 273.34,422.08 273.97,425.06 274.6,427.99 275.01,429.88 275.23,430.88 275.85,433.75 276.48,436.55 277.03,438.95 277.11,439.29 277.74,442.02 278.37,444.67 279,447.23 279.2,448.02 279.63,449.77 280.26,452.24 280.89,454.62 281.52,456.93 281.56,457.09 282.15,459.21 282.77,461.41 283.4,463.54 284.03,465.59 284.21,466.16 284.66,467.6 285.29,469.55 285.92,471.42 286.55,473.23" fill="none" stroke="#000" stroke-width="1.75" stroke-linejoin="round" stroke-linecap="round" clip-path="url(#cb)"/>
<path d="M60.05,460.95 60.68,462.76 61.31,464.51 61.92,466.16 61.94,466.19 62.57,467.84 63.2,469.43 63.82,470.96 64.45,472.43 65.08,473.86 65.71,475.23 65.71,475.24 66.34,476.27 66.97,477.27 67.6,478.22 68.23,479.14 68.86,480.03 69.49,480.89 70.12,481.71 70.75,482.51 71.38,483.27 72,484.01 72.26,484.3" fill="none" stroke="#000" stroke-width="1.75" stroke-linejoin="round" stroke-linecap="round" clip-path="url(#cb)"/>
<path d="M136.48,484.3 136.81,483.83 137.44,482.88 138.07,481.9 138.7,480.86 139.32,479.78 139.95,478.65 140.58,477.47 141.21,476.24 141.71,475.23 141.84,474.86 142.47,473.07 143.1,471.21 143.73,469.28 144.36,467.26 144.69,466.16 144.99,465.18 145.62,463.02 146.25,460.78 146.88,458.45 147.23,457.09 147.5,456.05 148.13,453.58 148.76,451.02 149.39,448.38 149.48,448.02 150.02,445.69 150.65,442.92 151.28,440.07 151.52,438.95 151.91,437.17 152.54,434.22 153.17,431.19 153.43,429.88 153.8,428.12 154.43,425.03 155.05,421.87 155.26,420.81 155.68,418.7 156.31,415.52 156.94,412.28 157.05,411.74 157.57,409.09 158.2,405.88 158.82,402.67 158.83,402.65 159.46,400.58 160.09,398.5 160.72,396.42 161.35,394.35 161.57,393.6 161.57,384.53 161.98,383.28 162.6,381.33 163.23,379.39 163.86,377.48 164.49,375.59 164.53,375.46 165.12,372.91 165.75,370.22 166.38,367.58 166.67,366.39 167.01,365.47 167.64,363.8 168.27,362.18 168.9,360.59 169.52,359.05 170.15,357.54 170.25,357.32 170.25,348.25 170.78,347.02 171.41,345.62 172.04,344.26 172.67,342.94 173.3,341.66 173.93,340.42 174.56,339.21 174.58,339.18 175.19,338.06 175.82,336.95 176.45,335.88 177.08,334.84 177.7,333.84 178.33,332.87 178.96,331.94 179.59,331.04 180.22,330.16 180.26,330.11 180.26,321.04 180.85,320.48 181.48,319.92 182.11,319.37 182.74,318.84 183.37,318.33 184,317.84 184.62,317.36 185.25,316.91 185.88,316.47 186.51,316.04 187.14,315.63 187.77,315.24 188.4,314.85 189.03,314.49 189.66,314.13 190.29,313.79 190.92,313.46 191.55,313.14 192.18,312.83 192.8,312.53 193.43,312.24 194.06,311.97 194.06,302.9" fill="none" stroke="#000" stroke-width="1.75" stroke-linejoin="round" stroke-linecap="round" clip-path="url(#cb)"/>
<path d="M241.3,302.9 241.3,311.97 241.88,312.28 242.51,312.63 243.14,312.99 243.77,313.38 244.4,313.78 245.02,314.2 245.65,314.64 246.28,315.1 246.91,315.58 247.54,316.08 248.17,316.61 248.8,317.16 249.43,317.73 250.06,318.32 250.69,318.95 251.32,319.6 251.95,320.28 252.58,320.99 252.62,321.04 252.62,330.11 253.2,331.09 253.83,332.18 254.46,333.32 255.09,334.5 255.72,335.73 256.35,337 256.98,338.33 257.37,339.18 257.61,339.7 258.24,341.12 258.87,342.58 259.5,344.09 260.12,345.65 260.75,347.26 261.13,348.25 261.13,357.32 261.38,357.98 262.01,359.68 262.64,361.42 263.27,363.2 263.9,365.03 264.36,366.39 264.53,367.16 265.16,370 265.79,372.89 266.34,375.46 266.42,375.71 267.05,377.68 267.68,379.67 268.3,381.68 268.93,383.71 269.18,384.53 269.18,393.6 269.56,394.8 270.19,396.81 270.82,398.81 271.45,400.82 272.03,402.67 272.08,402.91 272.71,405.92 273.34,408.9 273.94,411.74 273.97,411.86 274.6,414.82 275.23,417.74 275.85,420.61 275.9,420.81 276.48,423.46 277.11,426.25 277.74,428.98 277.95,429.88 278.37,431.68 279,434.32 279.63,436.88 280.15,438.95 280.26,439.39 280.89,441.84 281.52,444.23 282.15,446.54 282.56,448.02 282.77,448.79 283.4,450.98 284.03,453.1 284.66,455.15 285.28,457.09 285.29,457.14 285.92,459.08 286.55,460.95" fill="none" stroke="#000" stroke-width="1.75" stroke-linejoin="round" stroke-linecap="round" clip-path="url(#cb)"/>
<path d="M60.05,448.83 60.68,450.68 61.31,452.48 61.94,454.21 62.57,455.89 63.03,457.09 63.2,457.52 63.82,459.09 64.45,460.61 65.08,462.07 65.71,463.49 66.34,464.86 66.96,466.16 66.97,466.19 67.6,467.47 68.23,468.7 68.86,469.9 69.49,471.05 70.12,472.16 70.75,473.24 71.38,474.29 71.96,475.23 72,475.28 72.63,476.02 73.26,476.73 73.89,477.42 74.52,478.08 75.15,478.71 75.78,479.32 76.41,479.92 77.04,480.48 77.67,481.03 78.3,481.56 78.92,482.07 79.55,482.56 80.18,483.03 80.81,483.49 81.44,483.93 82,484.3" fill="none" stroke="#000" stroke-width="1.75" stroke-linejoin="round" stroke-linecap="round" clip-path="url(#cb)"/>
<path d="M127.86,484.3 128,484.19 128.63,483.67 129.26,483.12 129.89,482.55 130.52,481.95 131.15,481.32 131.77,480.65 132.4,479.96 133.03,479.24 133.66,478.48 134.29,477.68 134.92,476.85 135.55,475.98 136.07,475.23 136.18,475.01 136.81,473.72 137.44,472.38 138.07,470.98 138.7,469.52 139.32,468.01 139.95,466.42 140.06,466.16 140.58,464.78 141.21,463.06 141.84,461.28 142.47,459.43 143.1,457.5 143.23,457.09 143.73,455.51 144.36,453.44 144.99,451.3 145.62,449.08 145.91,448.02 146.25,446.79 146.88,444.43 147.5,441.99 148.13,439.47 148.26,438.95 148.76,436.89 149.39,434.25 150.02,431.53 150.39,429.88 150.65,428.74 151.28,425.91 151.91,423.02 152.38,420.81 152.54,420.06 153.17,417.08 153.8,414.04 154.27,411.74 154.43,410.97 155.05,407.88 155.68,404.76 156.1,402.67 156.31,401.98 156.94,399.91 157.57,397.84 158.2,395.76 158.83,393.67 158.85,393.6 158.85,384.53 159.46,382.59 160.09,380.59 160.72,378.6 161.35,376.62 161.72,375.46 161.98,374.25 162.6,371.37 163.23,368.52 163.71,366.39 163.86,365.94 164.49,364.1 165.12,362.3 165.75,360.54 166.38,358.82 166.94,357.32 166.94,348.25 167.01,348.07 167.64,346.43 168.27,344.84 168.9,343.29 169.52,341.78 170.15,340.32 170.66,339.18 170.78,338.9 171.41,337.52 172.04,336.19 172.67,334.91 173.3,333.66 173.93,332.46 174.56,331.3 175.19,330.18 175.23,330.11 175.23,321.04 175.82,320.31 176.45,319.57 177.08,318.85 177.7,318.16 178.33,317.5 178.96,316.85 179.59,316.24 180.22,315.64 180.85,315.06 181.48,314.51 182.11,313.97 182.74,313.46 183.37,312.96 184,312.47 184.62,312.01 184.68,311.97 184.68,302.9" fill="none" stroke="#000" stroke-width="1.75" stroke-linejoin="round" stroke-linecap="round" clip-path="url(#cb)"/>
<path d="M249.74,302.9 249.74,311.97 250.06,312.26 250.69,312.86 251.32,313.49 251.95,314.14 252.58,314.82 253.2,315.53 253.83,316.28 254.46,317.05 255.09,317.86 255.72,318.7 256.35,319.57 256.98,320.48 257.35,321.04 257.35,330.11 257.61,330.66 258.24,332.05 258.87,333.49 259.5,334.98 260.12,336.52 260.75,338.12 261.16,339.18 261.38,339.77 262.01,341.45 262.64,343.17 263.27,344.95 263.9,346.78 264.39,348.25 264.39,357.32 264.53,357.73 265.16,359.62 265.79,361.56 266.42,363.54 267.05,365.56 267.3,366.39 267.68,368.19 268.3,371.26 268.93,374.37 269.15,375.46 269.56,376.8 270.19,378.86 270.82,380.93 271.45,383.01 271.91,384.53 271.91,393.6 272.08,394.15 272.71,396.17 273.34,398.17 273.97,400.17 274.6,402.16 274.76,402.67 275.23,404.85 275.85,407.76 276.48,410.62 276.73,411.74 277.11,413.45 277.74,416.22 278.37,418.95 278.81,420.81 279,421.62 279.63,424.24 280.26,426.79 280.89,429.28 281.04,429.88 281.52,431.72 282.15,434.08 282.77,436.38 283.4,438.62 283.5,438.95 284.03,440.79 284.66,442.89 285.29,444.93 285.92,446.91 286.28,448.02 286.55,448.83" fill="none" stroke="#000" stroke-width="1.75" stroke-linejoin="round" stroke-linecap="round" clip-path="url(#cb)"/>
<path d="M60.05,436.72 60.68,438.63 60.79,438.95 61.31,440.46 61.94,442.23 62.57,443.95 63.2,445.61 63.82,447.23 64.15,448.02 64.45,448.78 65.08,450.28 65.71,451.72 66.34,453.12 66.97,454.48 67.6,455.79 68.23,457.05 68.25,457.09 68.86,458.27 69.49,459.45 70.12,460.58 70.75,461.68 71.38,462.74 72,463.77 72.63,464.76 73.26,465.72 73.56,466.16 73.89,466.65 74.52,467.54 75.15,468.4 75.78,469.23 76.41,470.03 77.04,470.81 77.67,471.56 78.3,472.28 78.92,472.98 79.55,473.66 80.18,474.31 80.81,474.94 81.11,475.23 81.44,475.47 82.07,475.9 82.7,476.31 83.33,476.71 83.96,477.1 84.59,477.47 85.22,477.82 85.85,478.16 86.48,478.48 87.1,478.8 87.73,479.1 88.36,479.38 88.99,479.66 89.62,479.92 90.25,480.17 90.88,480.41 91.51,480.63 92.14,480.85 92.77,481.05 93.4,481.25 94.02,481.43 94.65,481.6 95.28,481.77 95.91,481.92 96.54,482.06 97.17,482.2 97.8,482.32 98.43,482.43 99.06,482.53 99.69,482.63 100.32,482.71 100.95,482.79 101.57,482.85 102.2,482.91 102.83,482.95 103.46,482.99 104.09,483.02 104.72,483.04 105.35,483.04 105.98,483.04 106.61,483.03 107.24,483.01 107.87,482.98 108.5,482.93 109.12,482.88 109.75,482.82 110.38,482.74 111.01,482.66 111.64,482.56 112.27,482.46 112.9,482.34 113.53,482.21 114.16,482.07 114.79,481.91 115.42,481.75 116.05,481.57 116.68,481.37 117.3,481.16 117.93,480.94 118.56,480.71 119.19,480.45 119.82,480.19 120.45,479.91 121.08,479.61 121.71,479.29 122.34,478.95 122.97,478.6 123.6,478.23 124.22,477.84 124.85,477.43 125.48,476.99 126.11,476.54 126.74,476.06 127.37,475.56 127.76,475.23 128,474.95 128.63,474.19 129.26,473.39 129.89,472.56 130.52,471.69 131.15,470.78 131.77,469.83 132.4,468.84 133.03,467.8 133.66,466.73 133.98,466.16 134.29,465.59 134.92,464.41 135.55,463.18 136.18,461.9 136.81,460.56 137.44,459.17 138.07,457.72 138.33,457.09 138.7,456.21 139.32,454.64 139.95,453.01 140.58,451.31 141.21,449.55 141.74,448.02 141.84,447.72 142.47,445.83 143.1,443.86 143.73,441.83 144.36,439.72 144.58,438.95 144.99,437.55 145.62,435.31 146.25,432.99 146.88,430.6 147.06,429.88 147.5,428.15 148.13,425.63 148.76,423.04 149.29,420.81 149.39,420.38 150.02,417.67 150.65,414.9 151.28,412.07 151.35,411.74 151.91,409.2 152.54,406.28 153.17,403.31 153.3,402.67 153.8,401.11 154.43,399.11 155.05,397.09 155.68,395.06 156.13,393.6 156.13,384.53 156.31,383.95 156.94,381.94 157.57,379.93 158.2,377.93 158.83,375.93 158.98,375.46 159.46,373.16 160.09,370.18 160.72,367.24 160.9,366.39 161.35,364.98 161.98,363.04 162.6,361.13 163.23,359.27 163.86,357.43 163.9,357.32 163.9,348.25 164.49,346.54 165.12,344.77 165.75,343.04 166.38,341.36 167.01,339.73 167.22,339.18 167.64,338.11 168.27,336.54 168.9,335.02 169.52,333.56 170.15,332.14 170.78,330.76 171.09,330.11 171.09,321.04 171.41,320.55 172.04,319.62 172.67,318.72 173.3,317.86 173.93,317.03 174.56,316.24 175.19,315.46 175.82,314.72 176.45,314.01 177.08,313.32 177.7,312.65 178.33,312 178.37,311.97 178.37,302.9" fill="none" stroke="#000" stroke-width="1.75" stroke-linejoin="round" stroke-linecap="round" clip-path="url(#cb)"/>
<path d="M255.4,302.9 255.4,311.97 255.72,312.38 256.35,313.22 256.98,314.09 257.61,315 258.24,315.95 258.87,316.93 259.5,317.96 260.12,319.02 260.75,320.13 261.25,321.04 261.25,330.11 261.38,330.45 262.01,332.1 262.64,333.81 263.27,335.58 263.9,337.41 264.49,339.18 264.53,339.3 265.16,341.18 265.79,343.11 266.42,345.09 267.05,347.13 267.39,348.25 267.39,357.32 267.68,358.25 268.3,360.3 268.93,362.4 269.56,364.53 270.1,366.39 270.19,366.84 270.82,370.02 271.45,373.22 271.89,375.46 272.08,376.1 272.71,378.18 273.34,380.26 273.97,382.34 274.6,384.43 274.63,384.53 274.63,393.6 275.23,395.48 275.85,397.44 276.48,399.38 277.11,401.31 277.56,402.67 277.74,403.49 278.37,406.24 279,408.96 279.63,411.63 279.66,411.74 280.26,414.22 280.89,416.76 281.52,419.24 281.92,420.81 282.15,421.66 282.77,424 283.4,426.28 284.03,428.5 284.43,429.88 284.66,430.66 285.29,432.74 285.92,434.76 286.55,436.72" fill="none" stroke="#000" stroke-width="1.75" stroke-linejoin="round" stroke-linecap="round" clip-path="url(#cb)"/>
<path d="M60.05,424.46 60.68,426.41 61.31,428.29 61.85,429.88 61.94,430.13 62.57,431.87 63.2,433.57 63.82,435.21 64.45,436.8 65.08,438.35 65.34,438.95 65.71,439.83 66.34,441.25 66.97,442.63 67.6,443.96 68.23,445.25 68.86,446.5 69.49,447.71 69.65,448.02 70.12,448.87 70.75,449.98 71.38,451.05 72,452.1 72.63,453.1 73.26,454.07 73.89,455.02 74.52,455.93 75.15,456.81 75.36,457.09 75.78,457.65 76.41,458.46 77.04,459.24 77.67,459.99 78.3,460.72 78.92,461.43 79.55,462.11 80.18,462.76 80.81,463.4 81.44,464.01 82.07,464.6 82.7,465.17 83.33,465.72 83.86,466.16 83.96,466.24 84.59,466.74 85.22,467.22 85.85,467.68 86.48,468.13 87.1,468.56 87.73,468.96 88.36,469.36 88.99,469.73 89.62,470.09 90.25,470.43 90.88,470.76 91.51,471.07 92.14,471.37 92.77,471.65 93.4,471.92 94.02,472.17 94.65,472.4 95.28,472.63 95.91,472.83 96.54,473.03 97.17,473.21 97.8,473.37 98.43,473.53 99.06,473.66 99.69,473.79 100.32,473.9 100.95,473.99 101.57,474.08 102.2,474.14 102.83,474.2 103.46,474.24 104.09,474.26 104.72,474.28 105.35,474.27 105.98,474.26 106.61,474.23 107.24,474.18 107.87,474.12 108.5,474.04 109.12,473.95 109.75,473.85 110.38,473.72 111.01,473.59 111.64,473.43 112.27,473.26 112.9,473.07 113.53,472.87 114.16,472.65 114.79,472.41 115.42,472.15 116.05,471.87 116.68,471.58 117.3,471.26 117.93,470.93 118.56,470.57 119.19,470.19 119.82,469.79 120.45,469.37 121.08,468.93 121.71,468.46 122.34,467.96 122.97,467.45 123.6,466.9 124.22,466.33 124.4,466.16 124.85,465.72 125.48,465.09 126.11,464.42 126.74,463.72 127.37,462.99 128,462.23 128.63,461.43 129.26,460.6 129.89,459.73 130.52,458.83 131.15,457.88 131.65,457.09 131.77,456.9 132.4,455.86 133.03,454.78 133.66,453.65 134.29,452.48 134.92,451.26 135.55,449.99 136.18,448.67 136.48,448.02 136.81,447.3 137.44,445.86 138.07,444.37 138.7,442.83 139.32,441.22 139.95,439.56 140.18,438.95 140.58,437.82 141.21,436.03 141.84,434.17 142.47,432.24 143.1,430.25 143.21,429.88 143.73,428.19 144.36,426.06 144.99,423.87 145.62,421.61 145.83,420.81 146.25,419.28 146.88,416.88 147.5,414.42 148.13,411.89 148.17,411.74 148.76,409.3 149.39,406.65 150.02,403.95 150.31,402.67 150.65,401.68 151.28,399.81 151.91,397.91 152.54,395.99 153.17,394.05 153.31,393.6 153.31,384.53 153.8,383.03 154.43,381.07 155.05,379.11 155.68,377.14 156.22,375.46 156.31,375.01 156.94,371.98 157.57,368.98 158.12,366.39 158.2,366.12 158.83,364.08 159.46,362.07 160.09,360.09 160.72,358.15 160.99,357.32 160.99,348.25 161.35,347.14 161.98,345.21 162.6,343.32 163.23,341.49 163.86,339.7 164.05,339.18 164.49,337.9 165.12,336.14 165.75,334.44 166.38,332.79 167.01,331.2 167.45,330.11 167.45,321.04 167.64,320.7 168.27,319.6 168.9,318.54 169.52,317.52 170.15,316.54 170.78,315.59 171.41,314.68 172.04,313.8 172.67,312.95 173.3,312.13 173.43,311.97 173.43,302.9" fill="none" stroke="#000" stroke-width="1.75" stroke-linejoin="round" stroke-linecap="round" clip-path="url(#cb)"/>
<path d="M259.86,302.9 259.86,311.97 260.12,312.39 260.75,313.44 261.38,314.54 262.01,315.67 262.64,316.85 263.27,318.07 263.9,319.34 264.53,320.66 264.7,321.04 264.7,330.11 265.16,331.46 265.79,333.38 266.42,335.36 267.05,337.4 267.58,339.18 267.68,339.49 268.3,341.55 268.93,343.65 269.56,345.8 270.19,348 270.26,348.25 270.26,357.32 270.82,359.21 271.45,361.38 272.08,363.57 272.71,365.8 272.87,366.39 273.34,368.76 273.97,371.98 274.6,375.22 274.64,375.46 275.23,377.36 275.85,379.4 276.48,381.43 277.11,383.46 277.45,384.53 277.45,393.6 277.74,394.49 278.37,396.36 279,398.21 279.63,400.04 280.26,401.84 280.55,402.67 280.89,404.05 281.52,406.56 282.15,409.03 282.77,411.46 282.85,411.74 283.4,413.78 284.03,416.04 284.66,418.25 285.29,420.4 285.41,420.81 285.92,422.47 286.55,424.46" fill="none" stroke="#000" stroke-width="1.75" stroke-linejoin="round" stroke-linecap="round" clip-path="url(#cb)"/>
<path d="M60.05,411.87 60.68,413.84 61.31,415.76 61.94,417.64 62.57,419.46 63.05,420.81 63.2,421.22 63.82,422.89 64.45,424.51 65.08,426.08 65.71,427.6 66.34,429.08 66.69,429.88 66.97,430.5 67.6,431.85 68.23,433.16 68.86,434.43 69.49,435.66 70.12,436.85 70.75,438 71.28,438.95 71.38,439.11 72,440.16 72.63,441.18 73.26,442.16 73.89,443.11 74.52,444.03 75.15,444.92 75.78,445.78 76.41,446.61 77.04,447.41 77.53,448.02 77.67,448.18 78.3,448.91 78.92,449.62 79.55,450.3 80.18,450.95 80.81,451.59 81.44,452.2 82.07,452.78 82.7,453.35 83.33,453.9 83.96,454.42 84.59,454.93 85.22,455.41 85.85,455.88 86.48,456.33 87.1,456.76 87.61,457.09 87.73,457.17 88.36,457.56 88.99,457.92 89.62,458.27 90.25,458.61 90.88,458.93 91.51,459.23 92.14,459.52 92.77,459.79 93.4,460.05 94.02,460.29 94.65,460.51 95.28,460.73 95.91,460.92 96.54,461.1 97.17,461.27 97.8,461.43 98.43,461.57 99.06,461.69 99.69,461.8 100.32,461.9 100.95,461.98 101.57,462.05 102.2,462.1 102.83,462.14 103.46,462.17 104.09,462.18 104.72,462.18 105.35,462.16 105.98,462.13 106.61,462.08 107.24,462.02 107.87,461.94 108.5,461.85 109.12,461.74 109.75,461.61 110.38,461.47 111.01,461.32 111.64,461.14 112.27,460.95 112.9,460.75 113.53,460.52 114.16,460.28 114.79,460.02 115.42,459.74 116.05,459.44 116.68,459.13 117.3,458.79 117.93,458.43 118.56,458.05 119.19,457.65 119.82,457.23 120.02,457.09 120.45,456.78 121.08,456.3 121.71,455.8 122.34,455.27 122.97,454.72 123.6,454.14 124.22,453.53 124.85,452.9 125.48,452.23 126.11,451.54 126.74,450.82 127.37,450.06 128,449.27 128.63,448.45 128.94,448.02 129.26,447.58 129.89,446.67 130.52,445.73 131.15,444.74 131.77,443.72 132.4,442.65 133.03,441.54 133.66,440.39 134.29,439.19 134.42,438.95 134.92,437.94 135.55,436.63 136.18,435.27 136.81,433.86 137.44,432.4 138.07,430.89 138.47,429.88 138.7,429.31 139.32,427.67 139.95,425.97 140.58,424.21 141.21,422.4 141.75,420.81 141.84,420.52 142.47,418.56 143.1,416.54 143.73,414.46 144.36,412.33 144.53,411.74 144.99,410.1 145.62,407.82 146.25,405.48 146.88,403.08 146.98,402.67 147.5,401.28 148.13,399.58 148.76,397.85 149.39,396.1 150.02,394.31 150.27,393.6 150.27,384.53 150.65,383.42 151.28,381.57 151.91,379.71 152.54,377.83 153.17,375.95 153.33,375.46 153.8,373.26 154.43,370.29 155.05,367.34 155.26,366.39 155.68,364.99 156.31,362.93 156.94,360.91 157.57,358.91 158.08,357.32 158.08,348.25 158.2,347.85 158.83,345.81 159.46,343.81 160.09,341.86 160.72,339.95 160.97,339.18 161.35,338.01 161.98,336.09 162.6,334.22 163.23,332.41 163.86,330.66 164.06,330.11 164.06,321.04 164.49,320.17 165.12,318.94 165.75,317.75 166.38,316.6 167.01,315.5 167.64,314.44 168.27,313.41 168.9,312.43 169.2,311.97 169.2,302.9" fill="none" stroke="#000" stroke-width="1.75" stroke-linejoin="round" stroke-linecap="round" clip-path="url(#cb)"/>
<path d="M263.73,302.9 263.73,311.97 263.9,312.3 264.53,313.53 265.16,314.8 265.79,316.13 266.42,317.5 267.05,318.92 267.68,320.4 267.94,321.04 267.94,330.11 268.3,331.3 268.93,333.4 269.56,335.56 270.19,337.78 270.58,339.18 270.82,340.01 271.45,342.18 272.08,344.4 272.71,346.66 273.14,348.25 273.14,357.32 273.34,357.99 273.97,360.17 274.6,362.38 275.23,364.61 275.72,366.39 275.85,367.05 276.48,370.21 277.11,373.37 277.53,375.46 277.74,376.13 278.37,378.08 279,380.01 279.63,381.94 280.26,383.84 280.49,384.53 280.49,393.6 280.89,394.71 281.52,396.43 282.15,398.12 282.77,399.79 283.4,401.43 283.89,402.67 284.03,403.2 284.66,405.44 285.29,407.63 285.92,409.78 286.51,411.74 286.55,411.87" fill="none" stroke="#000" stroke-width="1.75" stroke-linejoin="round" stroke-linecap="round" clip-path="url(#cb)"/>
<path d="M60.05,399.84 60.68,401.26 61.31,402.66 61.31,402.67 61.94,404.55 62.57,406.4 63.2,408.21 63.82,409.97 64.45,411.69 64.47,411.74 65.08,413.29 65.71,414.83 66.34,416.34 66.97,417.8 67.6,419.22 68.23,420.6 68.33,420.81 68.86,421.89 69.49,423.14 70.12,424.34 70.75,425.51 71.38,426.64 72,427.73 72.63,428.79 73.26,429.82 73.3,429.88 73.89,430.78 74.52,431.71 75.15,432.6 75.78,433.46 76.41,434.3 77.04,435.1 77.67,435.88 78.3,436.64 78.92,437.37 79.55,438.07 80.18,438.75 80.38,438.95 80.81,439.38 81.44,439.99 82.07,440.58 82.7,441.14 83.33,441.68 83.96,442.2 84.59,442.7 85.22,443.19 85.85,443.65 86.48,444.09 87.1,444.51 87.73,444.92 88.36,445.31 88.99,445.68 89.62,446.03 90.25,446.37 90.88,446.69 91.51,446.99 92.14,447.27 92.77,447.54 93.4,447.8 93.98,448.02 94.02,448.04 94.65,448.25 95.28,448.45 95.91,448.64 96.54,448.81 97.17,448.96 97.8,449.1 98.43,449.23 99.06,449.34 99.69,449.44 100.32,449.52 100.95,449.59 101.57,449.65 102.2,449.69 102.83,449.71 103.46,449.72 104.09,449.72 104.72,449.7 105.35,449.67 105.98,449.62 106.61,449.56 107.24,449.48 107.87,449.39 108.5,449.28 109.12,449.15 109.75,449.01 110.38,448.85 111.01,448.68 111.64,448.49 112.27,448.28 112.9,448.06 113,448.02 113.53,447.81 114.16,447.54 114.79,447.26 115.42,446.95 116.05,446.63 116.68,446.28 117.3,445.92 117.93,445.53 118.56,445.12 119.19,444.7 119.82,444.24 120.45,443.77 121.08,443.27 121.71,442.75 122.34,442.2 122.97,441.63 123.6,441.03 124.22,440.4 124.85,439.75 125.48,439.06 125.58,438.95 126.11,438.33 126.74,437.57 127.37,436.78 128,435.95 128.63,435.09 129.26,434.2 129.89,433.27 130.52,432.3 131.15,431.29 131.77,430.25 131.99,429.88 132.4,429.15 133.03,428 133.66,426.8 134.29,425.56 134.92,424.28 135.55,422.96 136.18,421.58 136.52,420.81 136.81,420.14 137.44,418.63 138.07,417.08 138.7,415.47 139.32,413.81 139.95,412.1 140.08,411.74 140.58,410.3 141.21,408.43 141.84,406.52 142.47,404.55 143.06,402.67 143.1,402.57 143.73,401.13 144.36,399.66 144.99,398.16 145.62,396.64 146.25,395.08 146.83,393.6 146.83,384.53 146.88,384.42 147.5,382.74 148.13,381.05 148.76,379.34 149.39,377.61 150.02,375.87 150.17,375.46 150.65,373.3 151.28,370.47 151.91,367.65 152.19,366.39 152.54,365.26 153.17,363.23 153.8,361.22 154.43,359.24 155.04,357.32 155.04,348.25 155.05,348.2 155.68,346.1 156.31,344.05 156.94,342.04 157.57,340.07 157.86,339.18 158.2,338.04 158.83,335.98 159.46,333.99 160.09,332.06 160.72,330.18 160.74,330.11 160.74,321.04 161.35,319.69 161.98,318.34 162.6,317.04 163.23,315.78 163.86,314.58 164.49,313.41 165.12,312.29 165.31,311.97 165.31,302.9" fill="none" stroke="#000" stroke-width="1.75" stroke-linejoin="round" stroke-linecap="round" clip-path="url(#cb)"/>
<path d="M267.34,302.9 267.34,311.97 267.68,312.7 268.3,314.09 268.93,315.53 269.56,317.03 270.19,318.58 270.82,320.2 271.14,321.04 271.14,330.11 271.45,331.19 272.08,333.41 272.71,335.7 273.34,338.05 273.63,339.18 273.97,340.35 274.6,342.57 275.23,344.83 275.85,347.13 276.16,348.25 276.16,357.32 276.48,358.43 277.11,360.59 277.74,362.76 278.37,364.95 278.78,366.39 279,367.43 279.63,370.43 280.26,373.43 280.69,375.46 280.89,376.04 281.52,377.84 282.15,379.62 282.77,381.38 283.4,383.11 283.92,384.53 283.92,393.6 284.03,393.87 284.66,395.41 285.29,396.91 285.92,398.39 286.55,399.84" fill="none" stroke="#000" stroke-width="1.75" stroke-linejoin="round" stroke-linecap="round" clip-path="url(#cb)"/>
<path d="M60.05,380.97 60.68,382.48 61.31,383.97 61.55,384.53 61.55,393.6 61.94,394.4 62.57,395.67 63.2,396.92 63.82,398.14 64.45,399.33 65.08,400.49 65.71,401.63 66.3,402.67 66.34,402.78 66.97,404.26 67.6,405.7 68.23,407.1 68.86,408.46 69.49,409.79 70.12,411.07 70.45,411.74 70.75,412.29 71.38,413.43 72,414.54 72.63,415.61 73.26,416.65 73.89,417.66 74.52,418.63 75.15,419.58 75.78,420.49 76,420.81 76.41,421.35 77.04,422.16 77.67,422.94 78.3,423.69 78.92,424.42 79.55,425.13 80.18,425.8 80.81,426.46 81.44,427.09 82.07,427.7 82.7,428.28 83.33,428.85 83.96,429.39 84.55,429.88 84.59,429.91 85.22,430.38 85.85,430.84 86.48,431.27 87.1,431.69 87.73,432.09 88.36,432.47 88.99,432.83 89.62,433.18 90.25,433.5 90.88,433.81 91.51,434.11 92.14,434.39 92.77,434.65 93.4,434.89 94.02,435.12 94.65,435.33 95.28,435.53 95.91,435.71 96.54,435.87 97.17,436.02 97.8,436.16 98.43,436.28 99.06,436.38 99.69,436.47 100.32,436.55 100.95,436.61 101.57,436.65 102.2,436.68 102.83,436.69 103.46,436.69 104.09,436.67 104.72,436.64 105.35,436.59 105.98,436.53 106.61,436.45 107.24,436.35 107.87,436.24 108.5,436.11 109.12,435.97 109.75,435.81 110.38,435.63 111.01,435.44 111.64,435.23 112.27,435 112.9,434.75 113.53,434.49 114.16,434.2 114.79,433.9 115.42,433.58 116.05,433.24 116.68,432.88 117.3,432.5 117.93,432.1 118.56,431.67 119.19,431.23 119.82,430.76 120.45,430.27 120.93,429.88 121.08,429.75 121.71,429.19 122.34,428.61 122.97,428 123.6,427.36 124.22,426.7 124.85,426.01 125.48,425.29 126.11,424.54 126.74,423.76 127.37,422.95 128,422.11 128.63,421.24 128.93,420.81 129.26,420.31 129.89,419.33 130.52,418.31 131.15,417.26 131.77,416.17 132.4,415.05 133.03,413.88 133.66,412.68 134.13,411.74 134.29,411.42 134.92,410.07 135.55,408.68 136.18,407.25 136.81,405.78 137.44,404.26 138.07,402.7 138.08,402.67 138.7,401.55 139.32,400.38 139.95,399.18 140.58,397.95 141.21,396.69 141.84,395.41 142.47,394.09 142.7,393.6 142.7,384.53 143.1,383.62 143.73,382.17 144.36,380.69 144.99,379.19 145.62,377.68 146.25,376.14 146.52,375.46 146.88,374.01 147.5,371.42 148.13,368.83 148.72,366.39 148.76,366.27 149.39,364.33 150.02,362.4 150.65,360.49 151.28,358.59 151.7,357.32 151.7,348.25 151.91,347.56 152.54,345.49 153.17,343.46 153.8,341.46 154.43,339.5 154.53,339.18 155.05,337.36 155.68,335.25 156.31,333.19 156.94,331.2 157.29,330.11 157.29,321.04 157.57,320.37 158.2,318.87 158.83,317.44 159.46,316.06 160.09,314.74 160.72,313.46 161.35,312.23 161.48,311.97 161.48,302.9" fill="none" stroke="#000" stroke-width="1.75" stroke-linejoin="round" stroke-linecap="round" clip-path="url(#cb)"/>
<path d="M270.96,302.9 270.96,311.97 271.45,313.11 272.08,314.63 272.71,316.2 273.34,317.84 273.97,319.55 274.5,321.04 274.5,330.11 274.6,330.47 275.23,332.74 275.85,335.08 276.48,337.49 276.91,339.18 277.11,339.87 277.74,342.06 278.37,344.28 279,346.53 279.47,348.25 279.47,357.32 279.63,357.83 280.26,359.88 280.89,361.93 281.52,364 282.15,366.07 282.24,366.39 282.77,368.72 283.4,371.46 284.03,374.18 284.33,375.46 284.66,376.3 285.29,377.88 285.92,379.44 286.55,380.97" fill="none" stroke="#000" stroke-width="1.75" stroke-linejoin="round" stroke-linecap="round" clip-path="url(#cb)"/>
<path d="M60.05,366.86 60.68,369.24 61.31,371.6 61.94,373.93 62.36,375.46 62.57,375.91 63.2,377.21 63.82,378.49 64.45,379.75 65.08,380.98 65.71,382.19 66.34,383.38 66.96,384.53 66.96,393.6 66.97,393.61 67.6,394.6 68.23,395.57 68.86,396.51 69.49,397.42 70.12,398.32 70.75,399.19 71.38,400.03 72,400.86 72.63,401.66 73.26,402.45 73.45,402.67 73.89,403.38 74.52,404.36 75.15,405.31 75.78,406.24 76.41,407.13 77.04,407.99 77.67,408.83 78.3,409.64 78.92,410.42 79.55,411.17 80.04,411.74 80.18,411.89 80.81,412.55 81.44,413.17 82.07,413.78 82.7,414.36 83.33,414.92 83.96,415.46 84.59,415.98 85.22,416.48 85.85,416.95 86.48,417.41 87.1,417.84 87.73,418.26 88.36,418.66 88.99,419.03 89.62,419.39 90.25,419.73 90.88,420.06 91.51,420.36 92.14,420.65 92.52,420.81 92.77,420.91 93.4,421.15 94.02,421.36 94.65,421.57 95.28,421.75 95.91,421.92 96.54,422.08 97.17,422.22 97.8,422.34 98.43,422.45 99.06,422.55 99.69,422.63 100.32,422.69 100.95,422.74 101.57,422.77 102.2,422.79 102.83,422.79 103.46,422.78 104.09,422.75 104.72,422.7 105.35,422.64 105.98,422.57 106.61,422.48 107.24,422.37 107.87,422.25 108.5,422.11 109.12,421.95 109.75,421.78 110.38,421.59 111.01,421.39 111.64,421.16 112.27,420.92 112.55,420.81 112.9,420.66 113.53,420.36 114.16,420.05 114.79,419.72 115.42,419.37 116.05,418.99 116.68,418.6 117.3,418.19 117.93,417.75 118.56,417.3 119.19,416.82 119.82,416.32 120.45,415.8 121.08,415.25 121.71,414.68 122.34,414.08 122.97,413.46 123.6,412.82 124.22,412.14 124.59,411.74 124.85,411.42 125.48,410.65 126.11,409.85 126.74,409.02 127.37,408.15 128,407.26 128.63,406.34 129.26,405.38 129.89,404.39 130.52,403.37 130.93,402.67 131.15,402.41 131.77,401.61 132.4,400.79 133.03,399.94 133.66,399.08 134.29,398.18 134.92,397.27 135.55,396.33 136.18,395.36 136.81,394.37 137.28,393.6 137.28,384.53 137.44,384.26 138.07,383.11 138.7,381.94 139.32,380.75 139.95,379.54 140.58,378.3 141.21,377.05 141.84,375.77 141.99,375.46 142.47,373.77 143.1,371.54 143.73,369.29 144.36,367.02 144.53,366.39 144.99,365.11 145.62,363.35 146.25,361.59 146.88,359.85 147.5,358.11 147.79,357.32 147.79,348.25 148.13,347.15 148.76,345.17 149.39,343.22 150.02,341.31 150.65,339.42 150.73,339.18 151.28,337.26 151.91,335.11 152.54,333.04 153.17,331.02 153.46,330.11 153.46,321.04 153.8,320.17 154.43,318.6 155.05,317.1 155.68,315.66 156.31,314.27 156.94,312.94 157.41,311.97 157.41,302.9" fill="none" stroke="#000" stroke-width="1.75" stroke-linejoin="round" stroke-linecap="round" clip-path="url(#cb)"/>
<path d="M274.93,302.9 274.93,311.97 275.23,312.68 275.85,314.26 276.48,315.9 277.11,317.62 277.74,319.42 278.28,321.04 278.28,330.11 278.37,330.44 279,332.72 279.63,335.07 280.26,337.51 280.68,339.18 280.89,339.86 281.52,341.94 282.15,344.05 282.77,346.19 283.37,348.25 283.37,357.32 283.4,357.42 284.03,359.28 284.66,361.15 285.29,363.01 285.92,364.89 286.43,366.39 286.55,366.86" fill="none" stroke="#000" stroke-width="1.75" stroke-linejoin="round" stroke-linecap="round" clip-path="url(#cb)"/>
<path d="M60.05,342.47 60.68,344.38 61.31,346.33 61.92,348.25 61.92,357.32 61.94,357.36 62.57,358.94 63.2,360.52 63.82,362.09 64.45,363.67 65.08,365.24 65.55,366.39 65.71,366.9 66.34,368.77 66.97,370.62 67.6,372.44 68.23,374.24 68.66,375.46 68.86,375.77 69.49,376.72 70.12,377.65 70.75,378.56 71.38,379.45 72,380.32 72.63,381.17 73.26,382 73.89,382.81 74.52,383.6 75.15,384.37 75.29,384.53 75.29,393.6 75.78,394.09 76.41,394.7 77.04,395.29 77.67,395.87 78.3,396.42 78.92,396.96 79.55,397.48 80.18,397.98 80.81,398.47 81.44,398.94 82.07,399.39 82.7,399.83 83.33,400.25 83.96,400.66 84.59,401.05 85.22,401.43 85.85,401.79 86.48,402.13 87.1,402.46 87.52,402.67 87.73,402.81 88.36,403.2 88.99,403.57 89.62,403.92 90.25,404.26 90.88,404.57 91.51,404.87 92.14,405.15 92.77,405.41 93.4,405.66 94.02,405.88 94.65,406.09 95.28,406.29 95.91,406.46 96.54,406.62 97.17,406.76 97.8,406.89 98.43,407 99.06,407.09 99.69,407.17 100.32,407.23 100.95,407.27 101.57,407.29 102.2,407.3 102.83,407.3 103.46,407.28 104.09,407.24 104.72,407.18 105.35,407.11 105.98,407.02 106.61,406.91 107.24,406.79 107.87,406.65 108.5,406.49 109.12,406.32 109.75,406.13 110.38,405.92 111.01,405.69 111.64,405.44 112.27,405.18 112.9,404.9 113.53,404.6 114.16,404.28 114.79,403.94 115.42,403.58 116.05,403.2 116.68,402.81 116.88,402.67 117.3,402.45 117.93,402.12 118.56,401.77 119.19,401.41 119.82,401.02 120.45,400.63 121.08,400.22 121.71,399.79 122.34,399.34 122.97,398.88 123.6,398.4 124.22,397.91 124.85,397.39 125.48,396.86 126.11,396.31 126.74,395.75 127.37,395.16 128,394.55 128.63,393.93 128.95,393.6 128.95,384.53 129.26,384.17 129.89,383.4 130.52,382.62 131.15,381.82 131.77,381 132.4,380.16 133.03,379.3 133.66,378.42 134.29,377.52 134.92,376.6 135.55,375.66 135.68,375.46 136.18,374.1 136.81,372.36 137.44,370.6 138.07,368.82 138.7,367.01 138.91,366.39 139.32,365.41 139.95,363.91 140.58,362.42 141.21,360.92 141.84,359.43 142.47,357.94 142.73,357.32 142.73,348.25 143.1,347.18 143.73,345.37 144.36,343.59 144.99,341.84 145.62,340.11 145.96,339.18 146.25,338.18 146.88,336.03 147.5,333.97 148.13,331.97 148.74,330.11 148.74,321.04 148.76,320.97 149.39,319.3 150.02,317.71 150.65,316.19 151.28,314.75 151.91,313.37 152.54,312.04 152.57,311.97 152.57,302.9" fill="none" stroke="#000" stroke-width="1.75" stroke-linejoin="round" stroke-linecap="round" clip-path="url(#cb)"/>
<path d="M279.89,302.9 279.89,311.97 280.26,312.91 280.89,314.55 281.52,316.3 282.15,318.17 282.77,320.19 283.03,321.04 283.03,330.11 283.4,331.44 284.03,333.71 284.66,336.07 285.29,338.54 285.45,339.18 285.92,340.58 286.55,342.47" fill="none" stroke="#000" stroke-width="1.75" stroke-linejoin="round" stroke-linecap="round" clip-path="url(#cb)"/>
<path d="M61.6,302.9 61.6,311.97 61.94,313.02 62.57,315.22 63.2,317.87 63.81,321.04 63.81,330.11 63.82,330.16 64.45,332.36 65.08,334.71 65.71,337.24 66.17,339.18 66.34,339.61 66.97,341.15 67.6,342.71 68.23,344.3 68.86,345.92 69.49,347.57 69.75,348.25 69.75,357.32 70.12,358.01 70.75,359.16 71.38,360.31 72,361.45 72.63,362.58 73.26,363.7 73.89,364.82 74.52,365.93 74.79,366.39 75.15,367.09 75.78,368.27 76.41,369.42 77.04,370.55 77.67,371.65 78.3,372.73 78.92,373.78 79.55,374.81 79.97,375.46 80.18,375.64 80.81,376.14 81.44,376.62 82.07,377.09 82.7,377.54 83.33,377.97 83.96,378.39 84.59,378.79 85.22,379.18 85.85,379.56 86.48,379.91 87.1,380.26 87.73,380.59 88.36,380.9 88.99,381.2 89.62,381.49 90.25,381.76 90.88,382.01 91.51,382.25 92.14,382.48 92.77,382.69 93.4,382.89 94.02,383.08 94.65,383.25 95.28,383.4 95.91,383.55 96.54,383.68 97.17,383.79 97.8,383.89 98.43,383.98 99.06,384.05 99.69,384.11 100.32,384.16 100.95,384.19 101.57,384.21 102.2,384.22 102.83,384.21 103.46,384.18 104.09,384.15 104.72,384.1 105.35,384.03 105.98,383.96 106.61,383.87 107.24,383.76 107.87,383.64 108.5,383.51 109.12,383.36 109.75,383.2 110.38,383.03 111.01,382.84 111.64,382.64 112.27,382.42 112.9,382.19 113.53,381.95 114.16,381.69 114.79,381.42 115.42,381.13 116.05,380.83 116.68,380.52 117.3,380.19 117.93,379.84 118.56,379.48 119.19,379.11 119.82,378.72 120.45,378.32 121.08,377.9 121.71,377.47 122.34,377.02 122.97,376.55 123.6,376.07 124.22,375.58 124.37,375.46 124.85,374.7 125.48,373.69 126.11,372.66 126.74,371.61 127.37,370.53 128,369.43 128.63,368.3 129.26,367.16 129.67,366.39 129.89,366.03 130.52,364.96 131.15,363.89 131.77,362.82 132.4,361.73 133.03,360.64 133.66,359.55 134.29,358.45 134.92,357.35 134.94,357.32 134.94,348.25 135.55,346.76 136.18,345.26 136.81,343.78 137.44,342.32 138.07,340.89 138.7,339.47 138.82,339.18 139.32,337.46 139.95,335.39 140.58,333.43 141.21,331.56 141.72,330.11 141.72,321.04 141.84,320.65 142.47,318.79 143.1,317.09 143.73,315.53 144.36,314.08 144.99,312.73 145.35,311.97 145.35,302.9" fill="none" stroke="#000" stroke-width="1.75" stroke-linejoin="round" stroke-linecap="round" clip-path="url(#cb)"/>
<path d="M119.19,320.8 118.56,320.54 117.93,320.3 117.3,320.1 116.68,319.92 116.05,319.77 115.42,319.64 114.79,319.52 114.16,319.42 113.53,319.33 112.9,319.25 112.27,319.19 111.64,319.13 111.01,319.08 110.38,319.05 109.75,319.01 109.12,318.99 108.5,318.97 107.87,318.96 107.24,318.95 106.61,318.95 105.98,318.96 105.35,318.97 104.72,318.98 104.09,319 103.46,319.02 102.83,319.04 102.2,319.07 101.57,319.11 100.95,319.15 100.32,319.19 99.69,319.24 99.06,319.29 98.43,319.34 97.8,319.4 97.17,319.47 96.54,319.54 95.91,319.62 95.28,319.7 94.65,319.79 94.02,319.89 93.4,319.99 92.77,320.1 92.14,320.22 91.51,320.35 90.88,320.49 90.25,320.64 89.62,320.81 88.99,320.99 88.82,321.04 88.82,330.11 88.36,330.81 87.73,331.94 87.1,333.27 86.48,334.87 85.85,336.83 85.24,339.18 85.85,340 86.48,340.84 87.1,341.69 87.73,342.53 88.36,343.37 88.99,344.2 89.62,345.03 90.25,345.84 90.88,346.64 91.51,347.42 92.14,348.18 92.2,348.25 92.2,357.32 92.77,357.59 93.4,357.88 94.02,358.14 94.65,358.39 95.28,358.62 95.91,358.83 96.54,359.02 97.17,359.2 97.8,359.35 98.43,359.48 99.06,359.6 99.69,359.69 100.32,359.77 100.95,359.83 101.57,359.86 102.2,359.88 102.83,359.87 103.46,359.85 104.09,359.8 104.72,359.74 105.35,359.65 105.98,359.55 106.61,359.43 107.24,359.29 107.87,359.13 108.5,358.95 109.12,358.75 109.75,358.53 110.38,358.3 111.01,358.05 111.64,357.78 112.27,357.5 112.65,357.32 112.65,348.25 112.9,347.98 113.53,347.27 114.16,346.56 114.79,345.83 115.42,345.09 116.05,344.34 116.68,343.59 117.3,342.84 117.93,342.08 118.56,341.32 119.19,340.57 119.82,339.81 120.34,339.18 119.82,331.28 119.68,330.11 119.68,321.04 119.19,320.8" fill="none" stroke="#000" stroke-width="1.75" stroke-linejoin="round" stroke-linecap="round" clip-path="url(#cb)"/>
<path d="M98,344.4 L107.2,353.6 M98,353.6 L107.2,344.4" stroke="#000" stroke-width="1.0" fill="none"/>
<rect x="60.05" y="302.9" width="226.5" height="181.4" fill="none" stroke="#000" stroke-width="1.55"/>
<line x1="60.05" y1="297.9" x2="60.05" y2="302.9" stroke="#000" stroke-width="1.35"/>
<line x1="60.05" y1="484.3" x2="60.05" y2="489.3" stroke="#000" stroke-width="1.35"/>
<text x="56.45" y="508.5" font-size="14" text-anchor="middle">−90</text>
<line x1="97.8" y1="297.9" x2="97.8" y2="302.9" stroke="#000" stroke-width="1.35"/>
<line x1="97.8" y1="484.3" x2="97.8" y2="489.3" stroke="#000" stroke-width="1.35"/>
<text x="94.2" y="508.5" font-size="14" text-anchor="middle">−60</text>
<line x1="135.55" y1="297.9" x2="135.55" y2="302.9" stroke="#000" stroke-width="1.35"/>
<line x1="135.55" y1="484.3" x2="135.55" y2="489.3" stroke="#000" stroke-width="1.35"/>
<text x="131.95" y="508.5" font-size="14" text-anchor="middle">−30</text>
<line x1="173.3" y1="297.9" x2="173.3" y2="302.9" stroke="#000" stroke-width="1.35"/>
<line x1="173.3" y1="484.3" x2="173.3" y2="489.3" stroke="#000" stroke-width="1.35"/>
<text x="173.3" y="508.5" font-size="14" text-anchor="middle">0</text>
<line x1="211.05" y1="297.9" x2="211.05" y2="302.9" stroke="#000" stroke-width="1.35"/>
<line x1="211.05" y1="484.3" x2="211.05" y2="489.3" stroke="#000" stroke-width="1.35"/>
<text x="211.05" y="508.5" font-size="14" text-anchor="middle">30</text>
<line x1="248.8" y1="297.9" x2="248.8" y2="302.9" stroke="#000" stroke-width="1.35"/>
<line x1="248.8" y1="484.3" x2="248.8" y2="489.3" stroke="#000" stroke-width="1.35"/>
<text x="248.8" y="508.5" font-size="14" text-anchor="middle">60</text>
<line x1="286.55" y1="297.9" x2="286.55" y2="302.9" stroke="#000" stroke-width="1.35"/>
<line x1="286.55" y1="484.3" x2="286.55" y2="489.3" stroke="#000" stroke-width="1.35"/>
<text x="286.55" y="508.5" font-size="14" text-anchor="middle">90</text>
<line x1="55.05" y1="302.9" x2="60.05" y2="302.9" stroke="#000" stroke-width="1.35"/>
<line x1="286.55" y1="302.9" x2="291.55" y2="302.9" stroke="#000" stroke-width="1.35"/>
<line x1="57.05" y1="348.25" x2="60.05" y2="348.25" stroke="#000" stroke-width="1.35"/>
<line x1="286.55" y1="348.25" x2="289.55" y2="348.25" stroke="#000" stroke-width="1.35"/>
<line x1="55.05" y1="393.6" x2="60.05" y2="393.6" stroke="#000" stroke-width="1.35"/>
<line x1="286.55" y1="393.6" x2="291.55" y2="393.6" stroke="#000" stroke-width="1.35"/>
<line x1="57.05" y1="438.95" x2="60.05" y2="438.95" stroke="#000" stroke-width="1.35"/>
<line x1="286.55" y1="438.95" x2="289.55" y2="438.95" stroke="#000" stroke-width="1.35"/>
<line x1="55.05" y1="484.3" x2="60.05" y2="484.3" stroke="#000" stroke-width="1.35"/>
<line x1="286.55" y1="484.3" x2="291.55" y2="484.3" stroke="#000" stroke-width="1.35"/>
<text x="48.55" y="308.1" font-size="14" text-anchor="end">0.1</text>
<text x="48.55" y="398.8" font-size="14" text-anchor="end">0.0</text>
<text x="48.55" y="489.5" font-size="14" text-anchor="end">−0.1</text>
<text x="173.6" y="529" font-size="14" text-anchor="middle">Azimuth (deg)</text>
<text x="13.1" y="398.8" font-size="14" text-anchor="middle" transform="rotate(-90 13.1 398.8)">Delay time (s)</text>
<text x="68.6" y="293.7" font-size="16" text-anchor="start" letter-spacing="0.09">c = 0.916, θ=−56°, Δt=0.05 s</text>
<text x="0.3" y="284.5" font-size="14" text-anchor="start">(b)</text>
<defs><clipPath id="ce"><rect x="60.05" y="568.5" width="226.5" height="181"/></clipPath></defs>
<path d="M134.2,749.5 134.29,749.27 134.92,747.71 135.55,746.08 136.18,744.37 136.81,742.54 137.44,740.6 137.49,740.45 138.07,739.2 138.7,737.81 139.32,736.38 139.95,734.9 140.58,733.36 141.21,731.76 141.35,731.4 141.84,730.5 142.47,729.32 143.1,728.12 143.73,726.9 144.36,725.65 144.99,724.38 145.62,723.08 145.96,722.35 146.25,721.91 146.88,720.93 147.5,719.95 148.13,718.96 148.76,717.96 149.39,716.96 150.02,715.96 150.65,714.94 151.28,713.92 151.66,713.3 151.91,712.99 152.54,712.23 153.17,711.47 153.8,710.72 154.43,709.97 155.05,709.23 155.68,708.5 156.31,707.77 156.94,707.05 157.57,706.34 158.2,705.64 158.83,704.94 159.45,704.25 159.46,704.25 160.09,703.73 160.72,703.23 161.35,702.74 161.98,702.27 162.6,701.8 163.23,701.36 163.86,700.92 164.49,700.5 165.12,700.09 165.75,699.7 166.38,699.32 167.01,698.96 167.64,698.62 168.27,698.29 168.9,697.98 169.52,697.68 170.15,697.41 170.78,697.15 171.41,696.91 172.04,696.68 172.67,696.48 173.3,696.29 173.93,696.13 174.56,695.98 175.19,695.86 175.82,695.75 176.45,695.67 177.08,695.61 177.7,695.56 178.33,695.54 178.96,695.54 179.59,695.56 180.22,695.6 180.85,695.67 181.48,695.75 182.11,695.86 182.74,695.98 183.37,696.13 184,696.29 184.62,696.48 185.25,696.69 185.88,696.92 186.51,697.16 187.14,697.43 187.77,697.71 188.4,698.02 189.03,698.34 189.66,698.67 190.29,699.03 190.92,699.4 191.55,699.79 192.18,700.19 192.8,700.61 193.43,701.04 194.06,701.49 194.69,701.96 195.32,702.43 195.95,702.92 196.58,703.43 197.21,703.94 197.57,704.25 197.84,704.56 198.47,705.32 199.1,706.08 199.73,706.85 200.35,707.63 200.98,708.41 201.61,709.19 202.24,709.98 202.87,710.77 203.5,711.57 204.13,712.36 204.76,713.16 204.87,713.3 205.39,714.3 206.02,715.48 206.65,716.65 207.27,717.79 207.9,718.92 208.53,720.02 209.16,721.11 209.79,722.18 209.89,722.35 210.42,723.84 211.05,725.52 211.68,727.11 212.31,728.62 212.94,730.06 213.55,731.4 213.57,731.49 214.2,734.24 214.82,736.63 215.45,738.75 216.01,740.45 216.08,741.76 216.71,749.42 216.72,749.5" fill="none" stroke="#000" stroke-width="1.75" stroke-linejoin="round" stroke-linecap="round" clip-path="url(#ce)"/>
<path d="M124.15,749.5 124.22,749.31 124.85,747.69 125.48,746.03 126.11,744.31 126.74,742.54 127.37,740.7 127.46,740.45 128,739.11 128.63,737.53 129.26,735.91 129.89,734.26 130.52,732.56 130.94,731.4 131.15,730.91 131.77,729.44 132.4,727.94 133.03,726.42 133.66,724.88 134.29,723.3 134.67,722.35 134.92,721.81 135.55,720.45 136.18,719.08 136.81,717.69 137.44,716.3 138.07,714.89 138.7,713.47 138.77,713.3 139.32,712.22 139.95,711 140.58,709.77 141.21,708.54 141.84,707.31 142.47,706.08 143.1,704.85 143.41,704.25 143.73,703.7 144.36,702.64 144.99,701.59 145.62,700.54 146.25,699.5 146.88,698.47 147.5,697.44 148.13,696.42 148.76,695.4 148.89,695.2 149.39,694.5 150.02,693.64 150.65,692.79 151.28,691.96 151.91,691.13 152.54,690.32 153.17,689.51 153.8,688.72 154.43,687.94 155.05,687.18 155.68,686.42 155.92,686.15 156.31,685.75 156.94,685.12 157.57,684.51 158.2,683.91 158.83,683.33 159.46,682.76 160.09,682.21 160.72,681.68 161.35,681.16 161.98,680.65 162.6,680.16 163.23,679.69 163.86,679.23 164.49,678.79 165.12,678.37 165.75,677.96 166.38,677.57 167.01,677.2 167.19,677.1 167.64,676.88 168.27,676.59 168.9,676.32 169.52,676.06 170.15,675.82 170.78,675.59 171.41,675.38 172.04,675.19 172.67,675.01 173.3,674.85 173.93,674.71 174.56,674.58 175.19,674.47 175.82,674.37 176.45,674.3 177.08,674.23 177.7,674.19 178.33,674.16 178.96,674.15 179.59,674.15 180.22,674.17 180.85,674.2 181.48,674.26 182.11,674.33 182.74,674.41 183.37,674.51 184,674.63 184.62,674.77 185.25,674.92 185.88,675.08 186.51,675.26 187.14,675.46 187.77,675.67 188.4,675.9 189.03,676.15 189.66,676.4 190.29,676.68 190.92,676.97 191.19,677.1 191.55,677.3 192.18,677.68 192.8,678.07 193.43,678.48 194.06,678.9 194.69,679.34 195.32,679.8 195.95,680.27 196.58,680.76 197.21,681.26 197.84,681.77 198.47,682.3 199.1,682.85 199.73,683.4 200.35,683.97 200.98,684.56 201.61,685.15 202.24,685.77 202.63,686.15 202.87,686.44 203.5,687.19 204.13,687.96 204.76,688.74 205.39,689.53 206.02,690.33 206.65,691.14 207.27,691.96 207.9,692.79 208.53,693.63 209.16,694.47 209.7,695.2 209.79,695.35 210.42,696.39 211.05,697.43 211.68,698.47 212.31,699.51 212.94,700.56 213.57,701.61 214.2,702.66 214.82,703.71 215.14,704.25 215.45,704.88 216.08,706.17 216.71,707.44 217.34,708.71 217.97,709.96 218.6,711.2 219.23,712.44 219.67,713.3 219.86,713.75 220.49,715.26 221.12,716.74 221.75,718.2 222.38,719.63 223,721.03 223.6,722.35 223.63,722.44 224.26,724.17 224.89,725.85 225.52,727.48 226.15,729.07 226.78,730.62 227.1,731.4 227.41,732.35 228.04,734.24 228.67,736.06 229.3,737.8 229.92,739.48 230.3,740.45 230.55,741.32 231.18,743.39 231.81,745.35 232.44,747.21 233.07,748.98 233.26,749.5" fill="none" stroke="#000" stroke-width="1.75" stroke-linejoin="round" stroke-linecap="round" clip-path="url(#ce)"/>
<path d="M117.15,749.5 117.3,749.12 117.93,747.61 118.56,746.04 119.19,744.44 119.82,742.78 120.45,741.08 120.68,740.45 121.08,739.47 121.71,737.91 122.34,736.31 122.97,734.67 123.6,733 124.18,731.4 124.22,731.3 124.85,729.76 125.48,728.2 126.11,726.61 126.74,724.99 127.37,723.35 127.75,722.35 128,721.75 128.63,720.24 129.26,718.72 129.89,717.18 130.52,715.62 131.15,714.04 131.44,713.3 131.77,712.54 132.4,711.11 133.03,709.67 133.66,708.22 134.29,706.77 134.92,705.31 135.37,704.25 135.55,703.88 136.18,702.55 136.81,701.23 137.44,699.9 138.07,698.58 138.7,697.25 139.32,695.93 139.67,695.2 139.95,694.66 140.58,693.47 141.21,692.29 141.84,691.12 142.47,689.95 143.1,688.79 143.73,687.64 144.36,686.49 144.55,686.15 144.99,685.43 145.62,684.42 146.25,683.42 146.88,682.42 147.5,681.44 148.13,680.48 148.76,679.52 149.39,678.58 150.02,677.65 150.4,677.1 150.65,676.77 151.28,675.96 151.91,675.16 152.54,674.37 153.17,673.6 153.8,672.85 154.43,672.11 155.05,671.39 155.68,670.69 156.31,670 156.94,669.33 157.57,668.67 158.18,668.05 158.2,668.04 158.83,667.68 159.46,667.32 160.09,666.98 160.72,666.65 161.35,666.33 161.98,666.03 162.6,665.73 163.23,665.44 163.86,665.17 164.49,664.91 165.12,664.65 165.75,664.41 166.38,664.18 167.01,663.96 167.64,663.75 168.27,663.56 168.9,663.37 169.52,663.2 170.15,663.04 170.78,662.88 171.41,662.74 172.04,662.61 172.67,662.5 173.3,662.39 173.93,662.29 174.56,662.21 175.19,662.14 175.82,662.08 176.45,662.03 177.08,661.99 177.7,661.96 178.33,661.94 178.96,661.94 179.59,661.94 180.22,661.96 180.85,661.99 181.48,662.03 182.11,662.08 182.74,662.14 183.37,662.21 184,662.29 184.62,662.38 185.25,662.49 185.88,662.6 186.51,662.73 187.14,662.87 187.77,663.01 188.4,663.17 189.03,663.34 189.66,663.52 190.29,663.71 190.92,663.91 191.55,664.12 192.18,664.34 192.8,664.57 193.43,664.81 194.06,665.06 194.69,665.32 195.32,665.6 195.95,665.88 196.58,666.17 197.21,666.47 197.84,666.78 198.47,667.1 199.1,667.43 199.73,667.77 200.23,668.05 200.35,668.17 200.98,668.79 201.61,669.43 202.24,670.09 202.87,670.75 203.5,671.43 204.13,672.13 204.76,672.84 205.39,673.56 206.02,674.29 206.65,675.04 207.27,675.8 207.9,676.57 208.33,677.1 208.53,677.39 209.16,678.3 209.79,679.21 210.42,680.13 211.05,681.07 211.68,682.01 212.31,682.96 212.94,683.92 213.57,684.89 214.2,685.86 214.38,686.15 214.82,686.95 215.45,688.07 216.08,689.21 216.71,690.34 217.34,691.48 217.97,692.63 218.6,693.77 219.23,694.92 219.38,695.2 219.86,696.21 220.49,697.52 221.12,698.84 221.75,700.15 222.38,701.45 223,702.74 223.63,704.03 223.74,704.25 224.26,705.49 224.89,706.96 225.52,708.42 226.15,709.86 226.78,711.29 227.41,712.7 227.68,713.3 228.04,714.23 228.67,715.84 229.3,717.41 229.92,718.96 230.55,720.48 231.18,721.98 231.34,722.35 231.81,723.65 232.44,725.34 233.07,726.99 233.7,728.6 234.33,730.17 234.83,731.4 234.96,731.76 235.59,733.54 236.22,735.27 236.85,736.94 237.48,738.56 238.1,740.13 238.24,740.45 238.73,741.9 239.36,743.66 239.99,745.35 240.62,746.98 241.25,748.56 241.64,749.5" fill="none" stroke="#000" stroke-width="1.75" stroke-linejoin="round" stroke-linecap="round" clip-path="url(#ce)"/>
<path d="M110.74,749.5 111.01,748.93 111.64,747.6 112.27,746.22 112.9,744.81 113.53,743.35 114.16,741.85 114.73,740.45 114.79,740.32 115.42,738.89 116.05,737.43 116.68,735.93 117.3,734.39 117.93,732.82 118.49,731.4 118.56,731.22 119.19,729.73 119.82,728.2 120.45,726.65 121.08,725.06 121.71,723.45 122.13,722.35 122.34,721.85 122.97,720.32 123.6,718.77 124.22,717.2 124.85,715.61 125.48,713.99 125.75,713.3 126.11,712.43 126.74,710.91 127.37,709.38 128,707.83 128.63,706.27 129.26,704.69 129.44,704.25 129.89,703.19 130.52,701.73 131.15,700.25 131.77,698.77 132.4,697.28 133.03,695.79 133.29,695.2 133.66,694.37 134.29,692.98 134.92,691.6 135.55,690.22 136.18,688.85 136.81,687.47 137.41,686.15 137.44,686.1 138.07,684.84 138.7,683.58 139.32,682.33 139.95,681.08 140.58,679.85 141.21,678.63 141.84,677.41 142.01,677.1 142.47,676.27 143.1,675.17 143.73,674.08 144.36,673 144.99,671.93 145.62,670.88 146.25,669.84 146.88,668.82 147.35,668.05 147.5,667.9 148.13,667.3 148.76,666.72 149.39,666.14 150.02,665.57 150.65,665.02 151.28,664.47 151.91,663.94 152.54,663.42 153.17,662.91 153.8,662.41 154.43,661.92 155.05,661.45 155.68,660.98 156.31,660.53 156.94,660.09 157.57,659.66 158.2,659.24 158.58,659 158.58,649.95 158.83,649.8 159.46,649.45 160.09,649.12 160.72,648.79 161.35,648.47 161.98,648.17 162.6,647.87 163.23,647.59 163.86,647.31 164.49,647.05 165.12,646.8 165.75,646.56 166.38,646.34 167.01,646.12 167.64,645.91 168.27,645.72 168.9,645.53 169.52,645.36 170.15,645.2 170.78,645.05 171.41,644.91 172.04,644.78 172.67,644.67 173.3,644.56 173.93,644.47 174.56,644.39 175.19,644.32 175.82,644.26 176.45,644.21 177.08,644.17 177.7,644.14 178.33,644.13 178.96,644.12 179.59,644.13 180.22,644.15 180.85,644.18 181.48,644.22 182.11,644.27 182.74,644.33 183.37,644.4 184,644.49 184.62,644.58 185.25,644.69 185.88,644.81 186.51,644.93 187.14,645.07 187.77,645.22 188.4,645.38 189.03,645.56 189.66,645.74 190.29,645.93 190.92,646.14 191.55,646.35 192.18,646.58 192.8,646.82 193.43,647.06 194.06,647.32 194.69,647.59 195.32,647.87 195.95,648.16 196.58,648.47 197.21,648.78 197.84,649.1 198.47,649.44 199.1,649.78 199.39,649.95 199.39,659 199.73,659.2 200.35,659.6 200.98,660.01 201.61,660.43 202.24,660.86 202.87,661.3 203.5,661.75 204.13,662.21 204.76,662.68 205.39,663.15 206.02,663.64 206.65,664.14 207.27,664.64 207.9,665.16 208.53,665.69 209.16,666.22 209.79,666.77 210.42,667.32 211.05,667.88 211.23,668.05 211.68,668.73 212.31,669.71 212.94,670.69 213.57,671.69 214.2,672.69 214.82,673.7 215.45,674.73 216.08,675.76 216.71,676.8 216.89,677.1 217.34,677.93 217.97,679.1 218.6,680.28 219.23,681.46 219.86,682.64 220.49,683.83 221.12,685.03 221.71,686.15 221.75,686.23 222.38,687.56 223,688.9 223.63,690.22 224.26,691.55 224.89,692.87 225.52,694.19 226,695.2 226.15,695.55 226.78,697.01 227.41,698.46 228.04,699.9 228.67,701.33 229.3,702.76 229.92,704.17 229.96,704.25 230.55,705.73 231.18,707.27 231.81,708.8 232.44,710.31 233.07,711.79 233.7,713.26 233.72,713.3 234.33,714.88 234.96,716.48 235.59,718.05 236.22,719.59 236.85,721.1 237.37,722.35 237.48,722.62 238.1,724.27 238.73,725.88 239.36,727.45 239.99,728.98 240.62,730.47 241.02,731.4 241.25,732.01 241.88,733.63 242.51,735.21 243.14,736.73 243.77,738.22 244.4,739.66 244.75,740.45 245.02,741.15 245.65,742.7 246.28,744.2 246.91,745.65 247.54,747.05 248.17,748.41 248.69,749.5" fill="none" stroke="#000" stroke-width="1.75" stroke-linejoin="round" stroke-linecap="round" clip-path="url(#ce)"/>
<path d="M104.09,749.5 104.72,748.42 105.35,747.3 105.98,746.15 106.61,744.96 107.24,743.74 107.87,742.49 108.5,741.19 108.85,740.45 109.12,739.9 109.75,738.64 110.38,737.35 111.01,736.02 111.64,734.65 112.27,733.25 112.9,731.82 113.08,731.4 113.53,730.42 114.16,729.03 114.79,727.6 115.42,726.14 116.05,724.65 116.68,723.13 116.99,722.35 117.3,721.63 117.93,720.15 118.56,718.65 119.19,717.13 119.82,715.58 120.45,714 120.73,713.3 121.08,712.45 121.71,710.93 122.34,709.39 122.97,707.83 123.6,706.26 124.22,704.66 124.39,704.25 124.85,703.12 125.48,701.59 126.11,700.05 126.74,698.5 127.37,696.94 128,695.36 128.07,695.2 128.63,693.87 129.26,692.37 129.89,690.88 130.52,689.38 131.15,687.87 131.77,686.37 131.87,686.15 132.4,684.93 133.03,683.51 133.66,682.1 134.29,680.69 134.92,679.28 135.55,677.87 135.9,677.1 136.18,676.51 136.81,675.2 137.44,673.9 138.07,672.6 138.7,671.32 139.32,670.05 139.95,668.79 140.33,668.05 140.58,667.74 141.21,666.97 141.84,666.22 142.47,665.48 143.1,664.75 143.73,664.03 144.36,663.32 144.99,662.62 145.62,661.92 146.25,661.24 146.88,660.57 147.5,659.91 148.13,659.27 148.4,659 148.4,649.95 148.76,649.62 149.39,649.05 150.02,648.5 150.65,647.96 151.28,647.43 151.91,646.91 152.54,646.41 153.17,645.91 153.8,645.42 154.43,644.95 155.05,644.49 155.68,644.04 156.31,643.6 156.94,643.17 157.57,642.75 158.2,642.34 158.83,641.95 159.46,641.57 160.09,641.2 160.61,640.9 160.72,640.82 161.35,640.34 161.98,639.88 162.6,639.44 163.23,639.01 163.86,638.6 164.49,638.21 165.12,637.84 165.75,637.48 166.38,637.14 167.01,636.81 167.64,636.5 168.27,636.21 168.9,635.94 169.52,635.68 170.15,635.44 170.78,635.21 171.41,635.01 172.04,634.81 172.67,634.64 173.3,634.48 173.93,634.34 174.56,634.21 175.19,634.11 175.82,634.01 176.45,633.94 177.08,633.88 177.7,633.84 178.33,633.81 178.96,633.81 179.59,633.81 180.22,633.84 180.85,633.88 181.48,633.94 182.11,634.01 182.74,634.1 183.37,634.21 184,634.33 184.62,634.47 185.25,634.63 185.88,634.8 186.51,634.99 187.14,635.2 187.77,635.42 188.4,635.66 189.03,635.92 189.66,636.19 190.29,636.48 190.92,636.79 191.55,637.11 192.18,637.45 192.8,637.81 193.43,638.18 194.06,638.57 194.69,638.98 195.32,639.4 195.95,639.84 196.58,640.29 197.21,640.77 197.38,640.9 197.84,641.16 198.47,641.52 199.1,641.89 199.73,642.28 200.35,642.68 200.98,643.09 201.61,643.51 202.24,643.94 202.87,644.38 203.5,644.83 204.13,645.3 204.76,645.77 205.39,646.26 206.02,646.76 206.65,647.27 207.27,647.79 207.9,648.32 208.53,648.87 209.16,649.42 209.75,649.95 209.75,659 209.79,659.04 210.42,659.65 211.05,660.26 211.68,660.89 212.31,661.52 212.94,662.17 213.57,662.82 214.2,663.48 214.82,664.15 215.45,664.82 216.08,665.51 216.71,666.2 217.34,666.9 217.97,667.62 218.35,668.05 218.6,668.51 219.23,669.7 219.86,670.89 220.49,672.09 221.12,673.29 221.75,674.5 222.38,675.72 223,676.94 223.08,677.1 223.63,678.26 224.26,679.59 224.89,680.92 225.52,682.26 226.15,683.59 226.78,684.92 227.36,686.15 227.41,686.26 228.04,687.71 228.67,689.15 229.3,690.58 229.92,692.01 230.55,693.43 231.18,694.84 231.34,695.2 231.81,696.34 232.44,697.85 233.07,699.35 233.7,700.84 234.33,702.31 234.96,703.77 235.17,704.25 235.59,705.3 236.22,706.85 236.85,708.38 237.48,709.89 238.1,711.37 238.73,712.83 238.94,713.3 239.36,714.37 239.99,715.92 240.62,717.44 241.25,718.93 241.88,720.39 242.51,721.82 242.74,722.35 243.14,723.32 243.77,724.83 244.4,726.3 245.02,727.74 245.65,729.14 246.28,730.51 246.7,731.4 246.91,731.9 247.54,733.34 248.17,734.74 248.8,736.09 249.43,737.41 250.06,738.7 250.69,739.94 250.95,740.45 251.32,741.24 251.95,742.54 252.58,743.81 253.2,745.03 253.83,746.22 254.46,747.36 255.09,748.48 255.69,749.5" fill="none" stroke="#000" stroke-width="1.75" stroke-linejoin="round" stroke-linecap="round" clip-path="url(#ce)"/>
<path d="M96.37,749.5 96.54,749.29 97.17,748.47 97.8,747.63 98.43,746.76 99.06,745.86 99.69,744.93 100.32,743.98 100.95,742.99 101.57,741.97 102.2,740.93 102.48,740.45 102.83,739.88 103.46,738.84 104.09,737.77 104.72,736.67 105.35,735.53 105.98,734.37 106.61,733.17 107.24,731.95 107.51,731.4 107.87,730.72 108.5,729.5 109.12,728.26 109.75,726.98 110.38,725.67 111.01,724.32 111.64,722.95 111.91,722.35 112.27,721.59 112.9,720.23 113.53,718.84 114.16,717.43 114.79,715.99 115.42,714.52 115.93,713.3 116.05,713.03 116.68,711.58 117.3,710.11 117.93,708.62 118.56,707.1 119.19,705.56 119.72,704.25 119.82,704.01 120.45,702.5 121.08,700.98 121.71,699.44 122.34,697.88 122.97,696.31 123.41,695.2 123.6,694.74 124.22,693.21 124.85,691.67 125.48,690.12 126.11,688.56 126.74,687 127.08,686.15 127.37,685.46 128,683.95 128.63,682.44 129.26,680.93 129.89,679.41 130.52,677.9 130.85,677.1 131.15,676.42 131.77,674.97 132.4,673.53 133.03,672.09 133.66,670.66 134.29,669.24 134.82,668.05 134.92,667.91 135.55,667.03 136.18,666.16 136.81,665.29 137.44,664.43 138.07,663.59 138.7,662.74 139.32,661.91 139.95,661.09 140.58,660.27 141.21,659.47 141.58,659 141.58,649.95 141.84,649.65 142.47,648.93 143.1,648.23 143.73,647.53 144.36,646.85 144.99,646.18 145.62,645.51 146.25,644.86 146.88,644.21 147.5,643.58 148.13,642.96 148.76,642.35 149.39,641.75 150.02,641.16 150.3,640.9 150.65,640.45 151.28,639.66 151.91,638.89 152.54,638.14 153.17,637.4 153.8,636.68 154.43,635.98 155.05,635.29 155.68,634.63 156.31,633.98 156.94,633.34 157.57,632.73 158.2,632.13 158.5,631.85 158.83,631.66 159.46,631.31 160.09,630.97 160.72,630.64 161.35,630.32 161.98,630.01 162.6,629.71 163.23,629.43 163.86,629.16 164.49,628.9 165.12,628.65 165.75,628.41 166.38,628.18 167.01,627.96 167.64,627.76 168.27,627.56 168.9,627.38 169.52,627.21 170.15,627.05 170.78,626.9 171.41,626.76 172.04,626.63 172.67,626.51 173.3,626.41 173.93,626.31 174.56,626.23 175.19,626.16 175.82,626.09 176.45,626.04 177.08,626 177.7,625.97 178.33,625.95 178.96,625.94 179.59,625.95 180.22,625.96 180.85,625.99 181.48,626.02 182.11,626.07 182.74,626.13 183.37,626.19 184,626.27 184.62,626.36 185.25,626.46 185.88,626.57 186.51,626.7 187.14,626.83 187.77,626.97 188.4,627.13 189.03,627.3 189.66,627.47 190.29,627.66 190.92,627.86 191.55,628.07 192.18,628.29 192.8,628.53 193.43,628.77 194.06,629.03 194.69,629.29 195.32,629.57 195.95,629.86 196.58,630.16 197.21,630.47 197.84,630.8 198.47,631.13 199.1,631.48 199.73,631.84 199.75,631.85 200.35,632.42 200.98,633.02 201.61,633.65 202.24,634.29 202.87,634.95 203.5,635.62 204.13,636.32 204.76,637.03 205.39,637.77 206.02,638.52 206.65,639.29 207.27,640.07 207.9,640.88 207.92,640.9 208.53,641.46 209.16,642.05 209.79,642.65 210.42,643.26 211.05,643.88 211.68,644.52 212.31,645.16 212.94,645.82 213.57,646.48 214.2,647.16 214.82,647.85 215.45,648.55 216.08,649.27 216.68,649.95 216.68,659 216.71,659.04 217.34,659.79 217.97,660.55 218.6,661.31 219.23,662.09 219.86,662.86 220.49,663.65 221.12,664.45 221.75,665.25 222.38,666.05 223,666.87 223.63,667.69 223.9,668.05 224.26,668.8 224.89,670.13 225.52,671.46 226.15,672.79 226.78,674.13 227.41,675.46 228.04,676.8 228.18,677.1 228.67,678.21 229.3,679.64 229.92,681.06 230.55,682.48 231.18,683.89 231.81,685.3 232.19,686.15 232.44,686.75 233.07,688.24 233.7,689.72 234.33,691.19 234.96,692.65 235.59,694.1 236.07,695.2 236.22,695.56 236.85,697.09 237.48,698.59 238.1,700.08 238.73,701.54 239.36,702.99 239.91,704.25 239.99,704.44 240.62,705.95 241.25,707.44 241.88,708.9 242.51,710.34 243.14,711.76 243.77,713.15 243.84,713.3 244.4,714.61 245.02,716.05 245.65,717.46 246.28,718.84 246.91,720.19 247.54,721.51 247.95,722.35 248.17,722.84 248.8,724.2 249.43,725.53 250.06,726.83 250.69,728.09 251.32,729.32 251.95,730.53 252.41,731.4 252.58,731.72 253.2,732.96 253.83,734.15 254.46,735.32 255.09,736.45 255.72,737.55 256.35,738.62 256.98,739.66 257.47,740.45 257.61,740.68 258.24,741.75 258.87,742.77 259.5,743.77 260.12,744.73 260.75,745.66 261.38,746.57 262.01,747.44 262.64,748.29 263.27,749.11 263.58,749.5" fill="none" stroke="#000" stroke-width="1.75" stroke-linejoin="round" stroke-linecap="round" clip-path="url(#ce)"/>
<path d="M85.75,749.5 85.85,749.43 86.48,748.94 87.1,748.44 87.73,747.91 88.36,747.37 88.99,746.81 89.62,746.22 90.25,745.62 90.88,744.99 91.51,744.34 92.14,743.67 92.77,742.97 93.4,742.25 94.02,741.51 94.65,740.74 94.88,740.45 95.28,739.97 95.91,739.19 96.54,738.38 97.17,737.55 97.8,736.7 98.43,735.82 99.06,734.91 99.69,733.98 100.32,733.02 100.95,732.03 101.33,731.4 101.57,731.03 102.2,730.03 102.83,729 103.46,727.94 104.09,726.86 104.72,725.75 105.35,724.61 105.98,723.44 106.55,722.35 106.61,722.24 107.24,721.06 107.87,719.86 108.5,718.62 109.12,717.36 109.75,716.07 110.38,714.76 111.01,713.41 111.06,713.3 111.64,712.08 112.27,710.73 112.9,709.36 113.53,707.96 114.16,706.54 114.79,705.09 115.15,704.25 115.42,703.64 116.05,702.19 116.68,700.73 117.3,699.24 117.93,697.74 118.56,696.21 118.97,695.2 119.19,694.68 119.82,693.17 120.45,691.65 121.08,690.11 121.71,688.55 122.34,686.99 122.67,686.15 122.97,685.43 123.6,683.89 124.22,682.35 124.85,680.8 125.48,679.24 126.11,677.68 126.34,677.1 126.74,676.14 127.37,674.62 128,673.1 128.63,671.57 129.26,670.06 129.89,668.54 130.09,668.05 130.52,667.4 131.15,666.44 131.77,665.49 132.4,664.54 133.03,663.6 133.66,662.67 134.29,661.74 134.92,660.82 135.55,659.9 136.17,659 136.17,649.95 136.18,649.94 136.81,649.11 137.44,648.29 138.07,647.48 138.7,646.68 139.32,645.88 139.95,645.09 140.58,644.32 141.21,643.55 141.84,642.79 142.47,642.04 143.1,641.3 143.44,640.9 143.73,640.43 144.36,639.41 144.99,638.41 145.62,637.43 146.25,636.46 146.88,635.52 147.5,634.58 148.13,633.67 148.76,632.77 149.39,631.89 149.42,631.85 150.02,631.32 150.65,630.78 151.28,630.25 151.91,629.74 152.54,629.24 153.17,628.74 153.8,628.27 154.43,627.8 155.05,627.35 155.68,626.9 156.31,626.48 156.94,626.06 157.57,625.65 158.2,625.26 158.83,624.88 159.46,624.51 160.09,624.15 160.72,623.8 161.35,623.47 161.98,623.15 162.6,622.84 162.68,622.8 162.68,613.75 163.23,613.5 163.86,613.22 164.49,612.96 165.12,612.71 165.75,612.47 166.38,612.24 167.01,612.02 167.64,611.82 168.27,611.62 168.9,611.44 169.52,611.27 170.15,611.1 170.78,610.95 171.41,610.81 172.04,610.69 172.67,610.57 173.3,610.46 173.93,610.36 174.56,610.28 175.19,610.21 175.82,610.14 176.45,610.09 177.08,610.05 177.7,610.02 178.33,609.99 178.96,609.98 179.59,609.99 180.22,610 180.85,610.02 181.48,610.05 182.11,610.1 182.74,610.15 183.37,610.22 184,610.29 184.62,610.38 185.25,610.47 185.88,610.58 186.51,610.7 187.14,610.83 187.77,610.97 188.4,611.12 189.03,611.29 189.66,611.46 190.29,611.64 190.92,611.84 191.55,612.04 192.18,612.26 192.8,612.49 193.43,612.73 194.06,612.98 194.69,613.25 195.32,613.52 195.83,613.75 195.83,622.8 195.95,622.86 196.58,623.17 197.21,623.49 197.84,623.83 198.47,624.17 199.1,624.53 199.73,624.9 200.35,625.28 200.98,625.68 201.61,626.08 202.24,626.5 202.87,626.93 203.5,627.37 204.13,627.83 204.76,628.3 205.39,628.78 206.02,629.27 206.65,629.78 207.27,630.3 207.9,630.83 208.53,631.38 209.06,631.85 209.16,631.99 209.79,632.88 210.42,633.79 211.05,634.72 211.68,635.67 212.31,636.64 212.94,637.62 213.57,638.63 214.2,639.65 214.82,640.7 214.95,640.9 215.45,641.49 216.08,642.23 216.71,642.98 217.34,643.75 217.97,644.52 218.6,645.31 219.23,646.1 219.86,646.91 220.49,647.72 221.12,648.55 221.75,649.39 222.16,649.95 222.16,659 222.38,659.28 223,660.14 223.63,661 224.26,661.86 224.89,662.73 225.52,663.61 226.15,664.49 226.78,665.38 227.41,666.27 228.04,667.17 228.65,668.05 228.67,668.08 229.3,669.49 229.92,670.9 230.55,672.31 231.18,673.72 231.81,675.13 232.44,676.54 232.69,677.1 233.07,677.99 233.7,679.45 234.33,680.92 234.96,682.37 235.59,683.81 236.22,685.25 236.61,686.15 236.85,686.71 237.48,688.2 238.1,689.68 238.73,691.14 239.36,692.59 239.99,694.02 240.52,695.2 240.62,695.45 241.25,696.92 241.88,698.38 242.51,699.81 243.14,701.22 243.77,702.62 244.4,703.99 244.52,704.25 245.02,705.4 245.65,706.81 246.28,708.18 246.91,709.53 247.54,710.85 248.17,712.15 248.74,713.3 248.8,713.43 249.43,714.76 250.06,716.05 250.69,717.31 251.32,718.54 251.95,719.75 252.58,720.93 253.2,722.08 253.35,722.35 253.83,723.26 254.46,724.42 255.09,725.55 255.72,726.65 256.35,727.73 256.98,728.77 257.61,729.79 258.24,730.78 258.64,731.4 258.87,731.77 259.5,732.77 260.12,733.73 260.75,734.67 261.38,735.58 262.01,736.46 262.64,737.32 263.27,738.15 263.9,738.96 264.53,739.74 265.12,740.45 265.16,740.5 265.79,741.28 266.42,742.04 267.05,742.77 267.68,743.47 268.3,744.15 268.93,744.81 269.56,745.45 270.19,746.06 270.82,746.65 271.45,747.22 272.08,747.77 272.71,748.3 273.34,748.81 273.97,749.3 274.24,749.5" fill="none" stroke="#000" stroke-width="1.75" stroke-linejoin="round" stroke-linecap="round" clip-path="url(#ce)"/>
<path d="M60.05,745.5 60.68,745.65 61.31,745.79 61.94,745.91 62.57,746.02 63.2,746.11 63.82,746.18 64.45,746.25 65.08,746.29 65.71,746.32 66.34,746.34 66.97,746.34 67.6,746.32 68.23,746.3 68.86,746.25 69.49,746.19 70.12,746.12 70.75,746.03 71.38,745.93 72,745.81 72.63,745.68 73.26,745.53 73.89,745.36 74.52,745.18 75.15,744.99 75.78,744.77 76.41,744.55 77.04,744.3 77.67,744.04 78.3,743.77 78.92,743.48 79.55,743.17 80.18,742.84 80.81,742.5 81.44,742.13 82.07,741.76 82.7,741.36 83.33,740.94 83.96,740.51 84.04,740.45 84.59,740.07 85.22,739.61 85.85,739.14 86.48,738.65 87.1,738.14 87.73,737.61 88.36,737.06 88.99,736.49 89.62,735.89 90.25,735.28 90.88,734.65 91.51,734 92.14,733.32 92.77,732.62 93.4,731.9 93.82,731.4 94.02,731.16 94.65,730.41 95.28,729.65 95.91,728.86 96.54,728.04 97.17,727.21 97.8,726.34 98.43,725.46 99.06,724.54 99.69,723.61 100.32,722.64 100.5,722.35 100.95,721.67 101.57,720.68 102.2,719.67 102.83,718.63 103.46,717.56 104.09,716.47 104.72,715.36 105.35,714.21 105.84,713.3 105.98,713.04 106.61,711.88 107.24,710.68 107.87,709.46 108.5,708.22 109.12,706.95 109.75,705.65 110.38,704.33 110.42,704.25 111.01,703.01 111.64,701.67 112.27,700.31 112.9,698.93 113.53,697.52 114.16,696.09 114.54,695.2 114.79,694.65 115.42,693.21 116.05,691.75 116.68,690.27 117.3,688.78 117.93,687.27 118.39,686.15 118.56,685.75 119.19,684.23 119.82,682.71 120.45,681.18 121.08,679.63 121.71,678.07 122.1,677.1 122.34,676.51 122.97,674.97 123.6,673.42 124.22,671.87 124.85,670.32 125.48,668.75 125.77,668.05 126.11,667.5 126.74,666.5 127.37,665.5 128,664.5 128.63,663.5 129.26,662.51 129.89,661.52 130.52,660.53 131.15,659.55 131.5,659 131.5,649.95 131.77,649.55 132.4,648.65 133.03,647.75 133.66,646.86 134.29,645.98 134.92,645.1 135.55,644.23 136.18,643.36 136.81,642.51 137.44,641.66 138,640.9 138.07,640.78 138.7,639.58 139.32,638.4 139.95,637.24 140.58,636.09 141.21,634.96 141.84,633.84 142.47,632.74 142.99,631.85 143.1,631.73 143.73,631.03 144.36,630.35 144.99,629.68 145.62,629.02 146.25,628.38 146.88,627.75 147.5,627.13 148.13,626.52 148.76,625.93 149.39,625.35 150.02,624.78 150.65,624.22 151.28,623.67 151.91,623.14 152.32,622.8 152.32,613.75 152.54,613.58 153.17,613.08 153.8,612.6 154.43,612.14 155.05,611.68 155.68,611.24 156.31,610.81 156.94,610.39 157.57,609.99 158.2,609.6 158.83,609.22 159.46,608.85 160.09,608.5 160.72,608.15 161.35,607.82 161.98,607.5 162.6,607.2 163.23,606.9 163.86,606.62 164.49,606.35 165.12,606.09 165.75,605.84 166.38,605.6 167.01,605.38 167.64,605.16 168.27,604.96 168.9,604.77 169.14,604.7 169.52,604.59 170.15,604.43 170.78,604.28 171.41,604.14 172.04,604.01 172.67,603.89 173.3,603.78 173.93,603.68 174.56,603.6 175.19,603.52 175.82,603.46 176.45,603.4 177.08,603.36 177.7,603.33 178.33,603.3 178.96,603.29 179.59,603.29 180.22,603.3 180.85,603.32 181.48,603.35 182.11,603.39 182.74,603.44 183.37,603.51 184,603.58 184.62,603.66 185.25,603.76 185.88,603.86 186.51,603.98 187.14,604.1 187.77,604.24 188.4,604.39 189.03,604.55 189.59,604.7 189.66,604.72 190.29,604.91 190.92,605.1 191.55,605.31 192.18,605.53 192.8,605.77 193.43,606.01 194.06,606.27 194.69,606.53 195.32,606.81 195.95,607.1 196.58,607.4 197.21,607.72 197.84,608.04 198.47,608.38 199.1,608.73 199.73,609.09 200.35,609.47 200.98,609.86 201.61,610.25 202.24,610.67 202.87,611.09 203.5,611.53 204.13,611.98 204.76,612.44 205.39,612.92 206.02,613.41 206.44,613.75 206.44,622.8 206.65,622.97 207.27,623.5 207.9,624.04 208.53,624.6 209.16,625.17 209.79,625.75 210.42,626.35 211.05,626.96 211.68,627.58 212.31,628.22 212.94,628.87 213.57,629.53 214.2,630.21 214.82,630.9 215.45,631.61 215.66,631.85 216.08,632.59 216.71,633.71 217.34,634.85 217.97,636.02 218.6,637.2 219.23,638.4 219.86,639.62 220.49,640.85 220.51,640.9 221.12,641.72 221.75,642.58 222.38,643.45 223,644.32 223.63,645.21 224.26,646.11 224.89,647.01 225.52,647.93 226.15,648.85 226.78,649.79 226.89,649.95 226.89,659 227.41,659.76 228.04,660.69 228.67,661.61 229.3,662.54 229.92,663.48 230.55,664.42 231.18,665.36 231.81,666.3 232.44,667.25 232.97,668.05 233.07,668.28 233.7,669.73 234.33,671.18 234.96,672.62 235.59,674.06 236.22,675.5 236.85,676.93 236.92,677.1 237.48,678.39 238.1,679.86 238.73,681.31 239.36,682.75 239.99,684.17 240.62,685.59 240.87,686.15 241.25,687.03 241.88,688.47 242.51,689.89 243.14,691.3 243.77,692.69 244.4,694.06 244.93,695.2 245.02,695.42 245.65,696.81 246.28,698.17 246.91,699.51 247.54,700.83 248.17,702.13 248.8,703.41 249.22,704.25 249.43,704.68 250.06,705.96 250.69,707.21 251.32,708.44 251.95,709.65 252.58,710.82 253.2,711.98 253.83,713.11 253.94,713.3 254.46,714.26 255.09,715.38 255.72,716.48 256.35,717.55 256.98,718.59 257.61,719.61 258.24,720.61 258.87,721.58 259.38,722.35 259.5,722.53 260.12,723.5 260.75,724.43 261.38,725.34 262.01,726.22 262.64,727.08 263.27,727.92 263.9,728.73 264.53,729.51 265.16,730.28 265.79,731.02 266.12,731.4 266.42,731.76 267.05,732.48 267.68,733.19 268.3,733.87 268.93,734.53 269.56,735.16 270.19,735.78 270.82,736.37 271.45,736.95 272.08,737.5 272.71,738.04 273.34,738.55 273.97,739.05 274.6,739.52 275.23,739.98 275.85,740.42 275.9,740.45 276.48,740.86 277.11,741.28 277.74,741.68 278.37,742.07 279,742.43 279.63,742.78 280.26,743.11 280.89,743.42 281.52,743.72 282.15,744 282.77,744.26 283.4,744.51 284.03,744.74 284.66,744.95 285.29,745.15 285.92,745.34 286.55,745.5" fill="none" stroke="#000" stroke-width="1.75" stroke-linejoin="round" stroke-linecap="round" clip-path="url(#ce)"/>
<path d="M60.05,735.67 60.68,735.83 61.31,735.96 61.94,736.08 62.57,736.19 63.2,736.28 63.82,736.35 64.45,736.41 65.08,736.46 65.71,736.49 66.34,736.5 66.97,736.5 67.6,736.49 68.23,736.46 68.86,736.41 69.49,736.35 70.12,736.27 70.75,736.18 71.38,736.08 72,735.96 72.63,735.82 73.26,735.67 73.89,735.5 74.52,735.32 75.15,735.12 75.78,734.9 76.41,734.67 77.04,734.43 77.67,734.16 78.3,733.89 78.92,733.59 79.55,733.28 80.18,732.95 80.81,732.6 81.44,732.24 82.07,731.86 82.7,731.46 82.79,731.4 83.33,731.05 83.96,730.62 84.59,730.18 85.22,729.71 85.85,729.23 86.48,728.73 87.1,728.22 87.73,727.68 88.36,727.12 88.99,726.54 89.62,725.95 90.25,725.33 90.88,724.69 91.51,724.03 92.14,723.35 92.77,722.65 93.03,722.35 93.4,721.93 94.02,721.2 94.65,720.44 95.28,719.67 95.91,718.87 96.54,718.04 97.17,717.2 97.8,716.33 98.43,715.43 99.06,714.52 99.69,713.57 99.87,713.3 100.32,712.62 100.95,711.64 101.57,710.64 102.2,709.61 102.83,708.57 103.46,707.49 104.09,706.39 104.72,705.27 105.28,704.25 105.35,704.12 105.98,702.96 106.61,701.78 107.24,700.57 107.87,699.34 108.5,698.09 109.12,696.81 109.75,695.51 109.9,695.2 110.38,694.2 111.01,692.87 111.64,691.52 112.27,690.14 112.9,688.75 113.53,687.34 114.05,686.15 114.16,685.91 114.79,684.47 115.42,683.02 116.05,681.55 116.68,680.07 117.3,678.57 117.91,677.1 117.93,677.05 118.56,675.54 119.19,674.02 119.82,672.49 120.45,670.95 121.08,669.4 121.62,668.05 121.71,667.91 122.34,666.9 122.97,665.89 123.6,664.87 124.22,663.85 124.85,662.83 125.48,661.81 126.11,660.79 126.74,659.77 127.22,659 127.22,649.95 127.37,649.72 128,648.77 128.63,647.82 129.26,646.87 129.89,645.93 130.52,645 131.15,644.07 131.77,643.14 132.4,642.22 133.03,641.3 133.31,640.9 133.66,640.15 134.29,638.83 134.92,637.53 135.55,636.24 136.18,634.96 136.81,633.7 137.44,632.45 137.75,631.85 138.07,631.43 138.7,630.63 139.32,629.83 139.95,629.05 140.58,628.28 141.21,627.53 141.84,626.78 142.47,626.05 143.1,625.34 143.73,624.63 144.36,623.93 144.99,623.25 145.41,622.8 145.41,613.75 145.62,613.53 146.25,612.88 146.88,612.25 147.5,611.63 148.13,611.02 148.76,610.42 149.39,609.84 150.02,609.27 150.65,608.72 151.28,608.18 151.91,607.65 152.54,607.14 153.17,606.64 153.8,606.15 154.43,605.67 155.05,605.21 155.68,604.76 155.76,604.7 156.31,604.32 156.94,603.9 157.57,603.5 158.2,603.1 158.83,602.72 159.46,602.35 160.09,602 160.72,601.66 161.35,601.33 161.98,601.01 162.6,600.7 163.23,600.41 163.86,600.13 164.49,599.86 165.12,599.6 165.75,599.36 166.38,599.13 167.01,598.9 167.64,598.69 168.27,598.49 168.9,598.3 169.52,598.13 170.15,597.96 170.78,597.81 171.41,597.66 172.04,597.53 172.67,597.41 173.3,597.3 173.93,597.2 174.56,597.11 175.19,597.03 175.82,596.97 176.45,596.91 177.08,596.86 177.7,596.83 178.33,596.8 178.96,596.79 179.59,596.79 180.22,596.8 180.85,596.81 181.48,596.84 182.11,596.88 182.74,596.93 183.37,596.99 184,597.07 184.62,597.15 185.25,597.24 185.88,597.35 186.51,597.46 187.14,597.59 187.77,597.72 188.4,597.87 189.03,598.03 189.66,598.2 190.29,598.38 190.92,598.57 191.55,598.77 192.18,598.99 192.8,599.21 193.43,599.45 194.06,599.7 194.69,599.96 195.32,600.23 195.95,600.51 196.58,600.81 197.21,601.11 197.84,601.43 198.47,601.76 199.1,602.11 199.73,602.46 200.35,602.83 200.98,603.22 201.61,603.61 202.24,604.02 202.87,604.44 203.25,604.7 203.5,604.88 204.13,605.33 204.76,605.8 205.39,606.28 206.02,606.77 206.65,607.28 207.27,607.8 207.9,608.33 208.53,608.88 209.16,609.44 209.79,610.02 210.42,610.61 211.05,611.21 211.68,611.83 212.31,612.46 212.94,613.11 213.55,613.75 213.55,622.8 213.57,622.82 214.2,623.51 214.82,624.2 215.45,624.92 216.08,625.64 216.71,626.38 217.34,627.14 217.97,627.9 218.6,628.69 219.23,629.48 219.86,630.29 220.49,631.12 221.04,631.85 221.12,632.01 221.75,633.3 222.38,634.6 223,635.92 223.63,637.26 224.26,638.62 224.89,639.99 225.3,640.9 225.52,641.22 226.15,642.16 226.78,643.11 227.41,644.06 228.04,645.02 228.67,645.99 229.3,646.96 229.92,647.95 230.55,648.94 231.18,649.93 231.2,649.95 231.2,659 231.81,659.94 232.44,660.91 233.07,661.87 233.7,662.83 234.33,663.8 234.96,664.77 235.59,665.74 236.22,666.71 236.85,667.68 237.09,668.05 237.48,668.94 238.1,670.39 238.73,671.83 239.36,673.26 239.99,674.68 240.62,676.1 241.07,677.1 241.25,677.51 241.88,678.93 242.51,680.34 243.14,681.74 243.77,683.12 244.4,684.49 245.02,685.85 245.17,686.15 245.65,687.21 246.28,688.56 246.91,689.89 247.54,691.21 248.17,692.5 248.8,693.78 249.43,695.04 249.51,695.2 250.06,696.3 250.69,697.54 251.32,698.76 251.95,699.96 252.58,701.14 253.2,702.29 253.83,703.43 254.3,704.25 254.46,704.54 255.09,705.66 255.72,706.75 256.35,707.81 256.98,708.86 257.61,709.87 258.24,710.87 258.87,711.84 259.5,712.79 259.84,713.3 260.12,713.73 260.75,714.66 261.38,715.56 262.01,716.44 262.64,717.3 263.27,718.13 263.9,718.94 264.53,719.73 265.16,720.5 265.79,721.25 266.42,721.97 266.75,722.35 267.05,722.68 267.68,723.38 268.3,724.06 268.93,724.72 269.56,725.35 270.19,725.97 270.82,726.56 271.45,727.14 272.08,727.69 272.71,728.23 273.34,728.75 273.97,729.24 274.6,729.72 275.23,730.18 275.85,730.63 276.48,731.05 277.02,731.4 277.11,731.46 277.74,731.86 278.37,732.24 279,732.61 279.63,732.96 280.26,733.29 280.89,733.6 281.52,733.89 282.15,734.17 282.77,734.44 283.4,734.68 284.03,734.91 284.66,735.13 285.29,735.33 285.92,735.51 286.55,735.67" fill="none" stroke="#000" stroke-width="1.75" stroke-linejoin="round" stroke-linecap="round" clip-path="url(#ce)"/>
<path d="M60.05,726.1 60.68,726.25 61.31,726.38 61.94,726.5 62.57,726.61 63.2,726.7 63.82,726.77 64.45,726.83 65.08,726.87 65.71,726.9 66.34,726.91 66.97,726.91 67.6,726.89 68.23,726.86 68.86,726.81 69.49,726.74 70.12,726.67 70.75,726.57 71.38,726.46 72,726.34 72.63,726.2 73.26,726.04 73.89,725.87 74.52,725.69 75.15,725.48 75.78,725.27 76.41,725.03 77.04,724.78 77.67,724.52 78.3,724.23 78.92,723.93 79.55,723.62 80.18,723.29 80.81,722.94 81.44,722.57 81.8,722.35 82.07,722.19 82.7,721.79 83.33,721.37 83.96,720.94 84.59,720.48 85.22,720.01 85.85,719.52 86.48,719.02 87.1,718.49 87.73,717.95 88.36,717.38 88.99,716.8 89.62,716.2 90.25,715.57 90.88,714.93 91.51,714.27 92.14,713.58 92.39,713.3 92.77,712.88 93.4,712.15 94.02,711.41 94.65,710.64 95.28,709.85 95.91,709.04 96.54,708.21 97.17,707.36 97.8,706.48 98.43,705.58 99.06,704.66 99.33,704.25 99.69,703.71 100.32,702.74 100.95,701.75 101.57,700.74 102.2,699.7 102.83,698.65 103.46,697.56 104.09,696.46 104.72,695.33 104.79,695.2 105.35,694.18 105.98,693 106.61,691.81 107.24,690.59 107.87,689.35 108.5,688.09 109.12,686.81 109.44,686.15 109.75,685.51 110.38,684.18 111.01,682.84 111.64,681.48 112.27,680.1 112.9,678.7 113.53,677.28 113.61,677.1 114.16,675.85 114.79,674.4 115.42,672.94 116.05,671.47 116.68,669.98 117.3,668.48 117.48,668.05 117.93,667.34 118.56,666.34 119.19,665.34 119.82,664.34 120.45,663.33 121.08,662.31 121.71,661.3 122.34,660.27 122.97,659.25 123.12,659 123.12,649.95 123.6,649.21 124.22,648.24 124.85,647.27 125.48,646.3 126.11,645.33 126.74,644.37 127.37,643.4 128,642.44 128.63,641.48 129.01,640.9 129.26,640.35 129.89,638.94 130.52,637.54 131.15,636.16 131.77,634.78 132.4,633.42 133.03,632.06 133.13,631.85 133.66,631.09 134.29,630.2 134.92,629.32 135.55,628.45 136.18,627.59 136.81,626.75 137.44,625.92 138.07,625.1 138.7,624.29 139.32,623.49 139.88,622.8 139.88,613.75 139.95,613.65 140.58,612.87 141.21,612.11 141.84,611.36 142.47,610.62 143.1,609.9 143.73,609.19 144.36,608.5 144.99,607.82 145.62,607.15 146.25,606.5 146.88,605.86 147.5,605.23 148.05,604.7 148.13,604.62 148.76,604.01 149.39,603.42 150.02,602.85 150.65,602.29 151.28,601.74 151.91,601.21 152.54,600.7 153.17,600.2 153.8,599.71 154.43,599.24 155.05,598.78 155.68,598.33 156.31,597.9 156.94,597.48 157.57,597.07 158.2,596.68 158.83,596.3 159.46,595.93 159.95,595.65 159.95,586.6 160.09,586.54 160.72,586.28 161.35,586.02 161.98,585.78 162.6,585.55 163.23,585.32 163.86,585.11 164.49,584.91 165.12,584.71 165.75,584.52 166.38,584.35 167.01,584.18 167.64,584.02 168.27,583.87 168.9,583.73 169.52,583.59 170.15,583.47 170.78,583.35 171.41,583.24 172.04,583.14 172.67,583.05 173.3,582.97 173.93,582.89 174.56,582.83 175.19,582.77 175.82,582.72 176.45,582.67 177.08,582.64 177.7,582.61 178.33,582.59 178.96,582.58 179.59,582.58 180.22,582.58 180.85,582.6 181.48,582.62 182.11,582.64 182.74,582.68 183.37,582.73 184,582.78 184.62,582.84 185.25,582.91 185.88,582.98 186.51,583.07 187.14,583.16 187.77,583.26 188.4,583.37 189.03,583.49 189.66,583.61 190.29,583.75 190.92,583.89 191.55,584.04 192.18,584.2 192.8,584.37 193.43,584.54 194.06,584.73 194.69,584.92 195.32,585.13 195.95,585.34 196.58,585.56 197.21,585.79 197.84,586.03 198.47,586.28 199.1,586.54 199.24,586.6 199.24,595.65 199.73,595.92 200.35,596.29 200.98,596.67 201.61,597.06 202.24,597.47 202.87,597.89 203.5,598.32 204.13,598.76 204.76,599.22 205.39,599.69 206.02,600.18 206.65,600.68 207.27,601.19 207.9,601.72 208.53,602.26 209.16,602.82 209.79,603.39 210.42,603.98 211.05,604.59 211.16,604.7 211.68,605.21 212.31,605.84 212.94,606.48 213.57,607.14 214.2,607.82 214.82,608.51 215.45,609.21 216.08,609.93 216.71,610.67 217.34,611.42 217.97,612.18 218.6,612.96 219.22,613.75 219.22,622.8 219.23,622.81 219.86,623.62 220.49,624.44 221.12,625.28 221.75,626.13 222.38,626.99 223,627.87 223.63,628.76 224.26,629.67 224.89,630.58 225.52,631.51 225.75,631.85 226.15,632.76 226.78,634.18 227.41,635.62 228.04,637.07 228.67,638.54 229.3,640.02 229.67,640.9 229.92,641.3 230.55,642.3 231.18,643.3 231.81,644.3 232.44,645.31 233.07,646.32 233.7,647.34 234.33,648.36 234.96,649.38 235.31,649.95 235.31,659 235.59,659.44 236.22,660.41 236.85,661.38 237.48,662.35 238.1,663.32 238.73,664.29 239.36,665.26 239.99,666.22 240.62,667.19 241.19,668.05 241.25,668.19 241.88,669.6 242.51,671 243.14,672.38 243.77,673.76 244.4,675.13 245.02,676.48 245.31,677.1 245.65,677.83 246.28,679.17 246.91,680.49 247.54,681.8 248.17,683.09 248.8,684.36 249.43,685.62 249.7,686.15 250.06,686.87 250.69,688.1 251.32,689.31 251.95,690.5 252.58,691.68 253.2,692.83 253.83,693.96 254.46,695.08 254.53,695.2 255.09,696.18 255.72,697.26 256.35,698.32 256.98,699.36 257.61,700.38 258.24,701.37 258.87,702.35 259.5,703.3 260.12,704.23 260.14,704.25 260.75,705.15 261.38,706.05 262.01,706.92 262.64,707.78 263.27,708.61 263.9,709.42 264.53,710.21 265.16,710.97 265.79,711.72 266.42,712.45 267.05,713.16 267.18,713.3 267.68,713.85 268.3,714.52 268.93,715.18 269.56,715.81 270.19,716.42 270.82,717.02 271.45,717.59 272.08,718.14 272.71,718.68 273.34,719.2 273.97,719.7 274.6,720.18 275.23,720.64 275.85,721.08 276.48,721.51 277.11,721.92 277.74,722.31 277.8,722.35 278.37,722.69 279,723.06 279.63,723.4 280.26,723.73 280.89,724.04 281.52,724.33 282.15,724.61 282.77,724.87 283.4,725.12 284.03,725.34 284.66,725.56 285.29,725.75 285.92,725.93 286.55,726.1" fill="none" stroke="#000" stroke-width="1.75" stroke-linejoin="round" stroke-linecap="round" clip-path="url(#ce)"/>
<path d="M60.05,716.62 60.68,716.76 61.31,716.9 61.94,717.01 62.57,717.11 63.2,717.2 63.82,717.27 64.45,717.33 65.08,717.37 65.71,717.39 66.34,717.4 66.97,717.4 67.6,717.37 68.23,717.34 68.86,717.29 69.49,717.22 70.12,717.14 70.75,717.04 71.38,716.93 72,716.8 72.63,716.66 73.26,716.5 73.89,716.32 74.52,716.13 75.15,715.93 75.78,715.7 76.41,715.46 77.04,715.21 77.67,714.94 78.3,714.65 78.92,714.35 79.55,714.03 80.18,713.69 80.81,713.34 80.88,713.3 81.44,712.97 82.07,712.58 82.7,712.17 83.33,711.74 83.96,711.3 84.59,710.84 85.22,710.36 85.85,709.86 86.48,709.35 87.1,708.81 87.73,708.26 88.36,707.69 88.99,707.1 89.62,706.49 90.25,705.86 90.88,705.21 91.51,704.54 91.77,704.25 92.14,703.85 92.77,703.13 93.4,702.4 94.02,701.64 94.65,700.86 95.28,700.06 95.91,699.24 96.54,698.4 97.17,697.54 97.8,696.66 98.43,695.75 98.8,695.2 99.06,694.82 99.69,693.86 100.32,692.88 100.95,691.88 101.57,690.85 102.2,689.81 102.83,688.74 103.46,687.65 104.09,686.54 104.31,686.15 104.72,685.4 105.35,684.23 105.98,683.05 106.61,681.84 107.24,680.62 107.87,679.37 108.5,678.11 108.99,677.1 109.12,676.82 109.75,675.5 110.38,674.17 111.01,672.82 111.64,671.45 112.27,670.06 112.9,668.66 113.17,668.05 113.53,667.52 114.16,666.57 114.79,665.61 115.42,664.65 116.05,663.68 116.68,662.71 117.3,661.72 117.93,660.74 118.56,659.74 119.03,659 119.03,649.95 119.19,649.7 119.82,648.73 120.45,647.77 121.08,646.8 121.71,645.83 122.34,644.86 122.97,643.89 123.6,642.92 124.22,641.95 124.85,640.98 124.9,640.9 125.48,639.55 126.11,638.1 126.74,636.65 127.37,635.21 128,633.78 128.63,632.36 128.86,631.85 129.26,631.23 129.89,630.27 130.52,629.32 131.15,628.38 131.77,627.46 132.4,626.54 133.03,625.63 133.66,624.74 134.29,623.85 134.92,622.98 135.05,622.8 135.05,613.75 135.55,613.05 136.18,612.17 136.81,611.32 137.44,610.47 138.07,609.64 138.7,608.83 139.32,608.03 139.95,607.24 140.58,606.47 141.21,605.71 141.84,604.97 142.07,604.7 142.47,604.22 143.1,603.48 143.73,602.75 144.36,602.04 144.99,601.35 145.62,600.68 146.25,600.02 146.88,599.38 147.5,598.75 148.13,598.14 148.76,597.54 149.39,596.96 150.02,596.39 150.65,595.84 150.87,595.65 150.87,586.6 151.28,586.32 151.91,585.91 152.54,585.51 153.17,585.13 153.8,584.75 154.43,584.39 155.05,584.04 155.68,583.7 156.31,583.37 156.94,583.05 157.57,582.74 158.2,582.45 158.83,582.16 159.46,581.88 160.09,581.62 160.72,581.36 161.35,581.11 161.98,580.87 162.6,580.64 163.23,580.42 163.86,580.21 164.49,580.01 165.12,579.82 165.75,579.64 166.38,579.46 167.01,579.3 167.64,579.14 168.27,578.99 168.9,578.85 169.52,578.72 170.15,578.59 170.78,578.48 171.41,578.37 172.04,578.27 172.67,578.18 173.3,578.1 173.93,578.02 174.56,577.95 175.19,577.9 175.82,577.84 176.45,577.8 177.08,577.77 177.7,577.74 178.33,577.72 178.96,577.71 179.59,577.7 180.22,577.71 180.85,577.72 181.48,577.74 182.11,577.77 182.74,577.8 183.37,577.84 184,577.89 184.62,577.95 185.25,578.02 185.88,578.09 186.51,578.18 187.14,578.27 187.77,578.37 188.4,578.47 189.03,578.59 189.66,578.71 190.29,578.84 190.92,578.98 191.55,579.13 192.18,579.28 192.8,579.45 193.43,579.62 194.06,579.8 194.69,579.99 195.32,580.19 195.95,580.4 196.58,580.61 197.21,580.84 197.84,581.07 198.47,581.32 199.1,581.57 199.73,581.83 200.35,582.11 200.98,582.39 201.61,582.68 202.24,582.98 202.87,583.3 203.5,583.62 204.13,583.95 204.76,584.3 205.39,584.65 206.02,585.02 206.65,585.4 207.27,585.79 207.9,586.19 208.52,586.6 208.52,595.65 208.53,595.66 209.16,596.21 209.79,596.77 210.42,597.35 211.05,597.95 211.68,598.56 212.31,599.18 212.94,599.82 213.57,600.48 214.2,601.15 214.82,601.84 215.45,602.55 216.08,603.27 216.71,604.01 217.29,604.7 217.34,604.77 217.97,605.52 218.6,606.3 219.23,607.08 219.86,607.88 220.49,608.7 221.12,609.53 221.75,610.38 222.38,611.24 223,612.12 223.63,613.01 224.14,613.75 224.14,622.8 224.26,622.97 224.89,623.88 225.52,624.8 226.15,625.73 226.78,626.68 227.41,627.63 228.04,628.6 228.67,629.58 229.3,630.58 229.92,631.58 230.09,631.85 230.55,632.95 231.18,634.46 231.81,635.97 232.44,637.5 233.07,639.04 233.7,640.59 233.83,640.9 234.33,641.71 234.96,642.73 235.59,643.75 236.22,644.77 236.85,645.79 237.48,646.82 238.1,647.85 238.73,648.87 239.36,649.9 239.39,649.95 239.39,659 239.99,659.91 240.62,660.87 241.25,661.82 241.88,662.77 242.51,663.71 243.14,664.65 243.77,665.59 244.4,666.52 245.02,667.45 245.44,668.05 245.65,668.51 246.28,669.84 246.91,671.15 247.54,672.45 248.17,673.73 248.8,675.01 249.43,676.26 249.85,677.1 250.06,677.51 250.69,678.73 251.32,679.93 251.95,681.12 252.58,682.29 253.2,683.44 253.83,684.57 254.46,685.69 254.73,686.15 255.09,686.79 255.72,687.86 256.35,688.91 256.98,689.94 257.61,690.96 258.24,691.95 258.87,692.93 259.5,693.88 260.12,694.82 260.39,695.2 260.75,695.73 261.38,696.62 262.01,697.49 262.64,698.34 263.27,699.17 263.9,699.98 264.53,700.76 265.16,701.53 265.79,702.28 266.42,703.01 267.05,703.72 267.52,704.25 267.68,704.42 268.3,705.08 268.93,705.73 269.56,706.36 270.19,706.97 270.82,707.56 271.45,708.14 272.08,708.69 272.71,709.22 273.34,709.74 273.97,710.24 274.6,710.72 275.23,711.18 275.85,711.63 276.48,712.06 277.11,712.47 277.74,712.86 278.37,713.24 278.47,713.3 279,713.6 279.63,713.94 280.26,714.27 280.89,714.57 281.52,714.87 282.15,715.14 282.77,715.4 283.4,715.64 284.03,715.87 284.66,716.08 285.29,716.27 285.92,716.45 286.55,716.62" fill="none" stroke="#000" stroke-width="1.75" stroke-linejoin="round" stroke-linecap="round" clip-path="url(#ce)"/>
<path d="M60.05,707.08 60.68,707.22 61.31,707.35 61.94,707.47 62.57,707.56 63.2,707.65 63.82,707.71 64.45,707.77 65.08,707.8 65.71,707.82 66.34,707.83 66.97,707.82 67.6,707.8 68.23,707.76 68.86,707.7 69.49,707.63 70.12,707.55 70.75,707.44 71.38,707.33 72,707.19 72.63,707.05 73.26,706.88 73.89,706.7 74.52,706.51 75.15,706.3 75.78,706.07 76.41,705.83 77.04,705.57 77.67,705.29 78.3,705 78.92,704.69 79.55,704.37 79.77,704.25 80.18,704.02 80.81,703.66 81.44,703.28 82.07,702.88 82.7,702.46 83.33,702.03 83.96,701.57 84.59,701.11 85.22,700.62 85.85,700.11 86.48,699.59 87.1,699.05 87.73,698.49 88.36,697.91 88.99,697.31 89.62,696.7 90.25,696.06 90.88,695.4 91.07,695.2 91.51,694.72 92.14,694.01 92.77,693.28 93.4,692.54 94.02,691.77 94.65,690.98 95.28,690.17 95.91,689.35 96.54,688.5 97.17,687.63 97.8,686.74 98.2,686.15 98.43,685.82 99.06,684.87 99.69,683.89 100.32,682.9 100.95,681.89 101.57,680.86 102.2,679.81 102.83,678.73 103.46,677.64 103.77,677.1 104.09,676.51 104.72,675.35 105.35,674.18 105.98,672.99 106.61,671.77 107.24,670.54 107.87,669.29 108.48,668.05 108.5,668.03 109.12,667.17 109.75,666.29 110.38,665.41 111.01,664.52 111.64,663.62 112.27,662.71 112.9,661.79 113.53,660.86 114.16,659.92 114.77,659 114.77,649.95 114.79,649.93 115.42,649 116.05,648.06 116.68,647.13 117.3,646.18 117.93,645.24 118.56,644.29 119.19,643.34 119.82,642.39 120.45,641.44 120.8,640.9 121.08,640.25 121.71,638.78 122.34,637.32 122.97,635.86 123.6,634.4 124.22,632.95 124.71,631.85 124.85,631.61 125.48,630.61 126.11,629.61 126.74,628.63 127.37,627.65 128,626.68 128.63,625.73 129.26,624.78 129.89,623.84 130.52,622.91 130.59,622.8 130.59,613.75 131.15,612.9 131.77,611.95 132.4,611.01 133.03,610.09 133.66,609.18 134.29,608.29 134.92,607.41 135.55,606.54 136.18,605.69 136.81,604.85 136.92,604.7 137.44,603.98 138.07,603.12 138.7,602.27 139.32,601.45 139.95,600.65 140.58,599.86 141.21,599.09 141.84,598.33 142.47,597.6 143.1,596.87 143.73,596.17 144.2,595.65 144.2,586.6 144.36,586.46 144.99,585.92 145.62,585.39 146.25,584.88 146.88,584.38 147.5,583.9 148.13,583.43 148.76,582.97 149.39,582.52 150.02,582.09 150.65,581.67 151.28,581.26 151.91,580.87 152.54,580.48 153.17,580.11 153.8,579.75 154.43,579.39 155.05,579.05 155.68,578.72 156.31,578.4 156.94,578.09 157.57,577.79 158.1,577.55 158.1,568.5" fill="none" stroke="#000" stroke-width="1.75" stroke-linejoin="round" stroke-linecap="round" clip-path="url(#ce)"/>
<path d="M201.31,568.5 201.31,577.55 201.61,577.69 202.24,577.98 202.87,578.28 203.5,578.6 204.13,578.92 204.76,579.26 205.39,579.6 206.02,579.96 206.65,580.33 207.27,580.7 207.9,581.09 208.53,581.49 209.16,581.9 209.79,582.33 210.42,582.76 211.05,583.21 211.68,583.67 212.31,584.15 212.94,584.64 213.57,585.14 214.2,585.65 214.82,586.18 215.31,586.6 215.31,595.65 215.45,595.81 216.08,596.51 216.71,597.23 217.34,597.97 217.97,598.73 218.6,599.5 219.23,600.29 219.86,601.09 220.49,601.91 221.12,602.76 221.75,603.61 222.38,604.49 222.52,604.7 223,605.36 223.63,606.24 224.26,607.13 224.89,608.03 225.52,608.95 226.15,609.88 226.78,610.83 227.41,611.79 228.04,612.76 228.67,613.75 228.67,622.8 228.67,622.8 229.3,623.78 229.92,624.76 230.55,625.76 231.18,626.76 231.81,627.77 232.44,628.8 233.07,629.83 233.7,630.87 234.29,631.85 234.33,631.95 234.96,633.49 235.59,635.03 236.22,636.58 236.85,638.14 237.48,639.7 237.96,640.9 238.1,641.14 238.73,642.15 239.36,643.16 239.99,644.17 240.62,645.17 241.25,646.18 241.88,647.18 242.51,648.18 243.14,649.18 243.63,649.95 243.63,659 243.77,659.21 244.4,660.12 245.02,661.03 245.65,661.93 246.28,662.83 246.91,663.72 247.54,664.6 248.17,665.48 248.8,666.35 249.43,667.22 250.04,668.05 250.06,668.08 250.69,669.29 251.32,670.49 251.95,671.66 252.58,672.83 253.2,673.98 253.83,675.11 254.46,676.23 254.96,677.1 255.09,677.33 255.72,678.39 256.35,679.44 256.98,680.47 257.61,681.48 258.24,682.47 258.87,683.44 259.5,684.4 260.12,685.34 260.68,686.15 260.75,686.25 261.38,687.14 262.01,688 262.64,688.85 263.27,689.67 263.9,690.48 264.53,691.27 265.16,692.03 265.79,692.78 266.42,693.52 267.05,694.23 267.68,694.92 267.93,695.2 268.3,695.59 268.93,696.24 269.56,696.86 270.19,697.47 270.82,698.06 271.45,698.63 272.08,699.18 272.71,699.71 273.34,700.23 273.97,700.73 274.6,701.21 275.23,701.67 275.85,702.12 276.48,702.55 277.11,702.96 277.74,703.35 278.37,703.73 279,704.09 279.29,704.25 279.63,704.43 280.26,704.76 280.89,705.06 281.52,705.35 282.15,705.62 282.77,705.88 283.4,706.12 284.03,706.34 284.66,706.55 285.29,706.74 285.92,706.92 286.55,707.08" fill="none" stroke="#000" stroke-width="1.75" stroke-linejoin="round" stroke-linecap="round" clip-path="url(#ce)"/>
<path d="M60.05,697.34 60.68,697.48 61.31,697.61 61.94,697.72 62.57,697.81 63.2,697.89 63.82,697.96 64.45,698 65.08,698.04 65.71,698.06 66.34,698.06 66.97,698.04 67.6,698.02 68.23,697.97 68.86,697.91 69.49,697.84 70.12,697.75 70.75,697.64 71.38,697.52 72,697.38 72.63,697.23 73.26,697.06 73.89,696.88 74.52,696.68 75.15,696.46 75.78,696.23 76.41,695.98 77.04,695.72 77.67,695.44 78.18,695.2 78.3,695.14 78.92,694.82 79.55,694.48 80.18,694.12 80.81,693.75 81.44,693.36 82.07,692.95 82.7,692.53 83.33,692.08 83.96,691.62 84.59,691.15 85.22,690.65 85.85,690.14 86.48,689.61 87.1,689.06 87.73,688.49 88.36,687.91 88.99,687.31 89.62,686.68 90.14,686.15 90.25,686.04 90.88,685.36 91.51,684.66 92.14,683.94 92.77,683.2 93.4,682.44 94.02,681.67 94.65,680.87 95.28,680.06 95.91,679.22 96.54,678.37 97.17,677.49 97.45,677.1 97.8,676.58 98.43,675.64 99.06,674.68 99.69,673.7 100.32,672.7 100.95,671.68 101.57,670.64 102.2,669.59 102.83,668.51 103.1,668.05 103.46,667.61 104.09,666.85 104.72,666.08 105.35,665.3 105.98,664.51 106.61,663.71 107.24,662.9 107.87,662.07 108.5,661.24 109.12,660.4 109.75,659.54 110.15,659 110.15,649.95 110.38,649.63 111.01,648.76 111.64,647.88 112.27,647 112.9,646.12 113.53,645.23 114.16,644.33 114.79,643.43 115.42,642.52 116.05,641.61 116.54,640.9 116.68,640.58 117.3,639.14 117.93,637.71 118.56,636.27 119.19,634.83 119.82,633.4 120.45,631.97 120.5,631.85 121.08,630.92 121.71,629.91 122.34,628.9 122.97,627.9 123.6,626.91 124.22,625.93 124.85,624.96 125.48,623.99 126.11,623.03 126.26,622.8 126.26,613.75 126.74,612.97 127.37,611.96 128,610.97 128.63,609.99 129.26,609.03 129.89,608.07 130.52,607.13 131.15,606.2 131.77,605.29 132.18,604.7 132.4,604.35 133.03,603.38 133.66,602.43 134.29,601.5 134.92,600.59 135.55,599.69 136.18,598.82 136.81,597.96 137.44,597.12 138.07,596.29 138.57,595.65 138.57,586.6 138.7,586.47 139.32,585.81 139.95,585.17 140.58,584.55 141.21,583.95 141.84,583.36 142.47,582.79 143.1,582.24 143.73,581.69 144.36,581.17 144.99,580.65 145.62,580.15 146.25,579.66 146.88,579.19 147.5,578.73 148.13,578.28 148.76,577.84 149.19,577.55 149.19,568.5" fill="none" stroke="#000" stroke-width="1.75" stroke-linejoin="round" stroke-linecap="round" clip-path="url(#ce)"/>
<path d="M210.34,568.5 210.34,577.55 210.42,577.6 211.05,578.04 211.68,578.48 212.31,578.94 212.94,579.4 213.57,579.88 214.2,580.38 214.82,580.88 215.45,581.4 216.08,581.94 216.71,582.48 217.34,583.04 217.97,583.62 218.6,584.21 219.23,584.82 219.86,585.44 220.49,586.07 220.99,586.6 220.99,595.65 221.12,595.81 221.75,596.64 222.38,597.48 223,598.35 223.63,599.23 224.26,600.13 224.89,601.04 225.52,601.97 226.15,602.92 226.78,603.89 227.29,604.7 227.41,604.87 228.04,605.82 228.67,606.78 229.3,607.75 229.92,608.73 230.55,609.73 231.18,610.74 231.81,611.76 232.44,612.79 233.02,613.75 233.02,622.8 233.07,622.89 233.7,623.9 234.33,624.92 234.96,625.94 235.59,626.97 236.22,628.01 236.85,629.06 237.48,630.11 238.1,631.17 238.51,631.85 238.73,632.4 239.36,633.93 239.99,635.45 240.62,636.98 241.25,638.51 241.88,640.04 242.23,640.9 242.51,641.33 243.14,642.3 243.77,643.27 244.4,644.23 245.02,645.19 245.65,646.14 246.28,647.09 246.91,648.03 247.54,648.97 248.17,649.9 248.21,649.95 248.21,659 248.8,659.8 249.43,660.63 250.06,661.46 250.69,662.28 251.32,663.09 251.95,663.9 252.58,664.69 253.2,665.48 253.83,666.26 254.46,667.02 255.09,667.78 255.32,668.05 255.72,668.73 256.35,669.77 256.98,670.79 257.61,671.79 258.24,672.78 258.87,673.75 259.5,674.7 260.12,675.64 260.75,676.56 261.13,677.1 261.38,677.46 262.01,678.31 262.64,679.15 263.27,679.97 263.9,680.78 264.53,681.56 265.16,682.33 265.79,683.08 266.42,683.81 267.05,684.52 267.68,685.22 268.3,685.9 268.54,686.15 268.93,686.55 269.56,687.17 270.19,687.77 270.82,688.35 271.45,688.92 272.08,689.47 272.71,690 273.34,690.52 273.97,691.01 274.6,691.49 275.23,691.96 275.85,692.4 276.48,692.83 277.11,693.24 277.74,693.64 278.37,694.01 279,694.37 279.63,694.72 280.26,695.05 280.57,695.2 280.89,695.35 281.52,695.64 282.15,695.91 282.77,696.16 283.4,696.39 284.03,696.61 284.66,696.82 285.29,697.01 285.92,697.18 286.55,697.34" fill="none" stroke="#000" stroke-width="1.75" stroke-linejoin="round" stroke-linecap="round" clip-path="url(#ce)"/>
<path d="M60.05,687.25 60.68,687.39 61.31,687.51 61.94,687.62 62.57,687.71 63.2,687.78 63.82,687.84 64.45,687.89 65.08,687.92 65.71,687.93 66.34,687.93 66.97,687.91 67.6,687.88 68.23,687.83 68.86,687.77 69.49,687.69 70.12,687.59 70.75,687.48 71.38,687.36 72,687.22 72.63,687.06 73.26,686.89 73.89,686.7 74.52,686.5 75.15,686.28 75.48,686.15 75.78,686.03 76.41,685.77 77.04,685.49 77.67,685.19 78.3,684.88 78.92,684.55 79.55,684.2 80.18,683.84 80.81,683.46 81.44,683.06 82.07,682.65 82.7,682.21 83.33,681.77 83.96,681.3 84.59,680.82 85.22,680.32 85.85,679.8 86.48,679.26 87.1,678.71 87.73,678.14 88.36,677.55 88.83,677.1 88.99,676.93 89.62,676.28 90.25,675.61 90.88,674.92 91.51,674.21 92.14,673.49 92.77,672.74 93.4,671.98 94.02,671.2 94.65,670.4 95.28,669.58 95.91,668.74 96.42,668.05 96.54,667.93 97.17,667.33 97.8,666.7 98.43,666.07 99.06,665.43 99.69,664.78 100.32,664.11 100.95,663.44 101.57,662.75 102.2,662.05 102.83,661.34 103.46,660.62 104.09,659.89 104.72,659.14 104.84,659 104.84,649.95 105.35,649.33 105.98,648.55 106.61,647.76 107.24,646.97 107.87,646.17 108.5,645.36 109.12,644.55 109.75,643.73 110.38,642.9 111.01,642.07 111.64,641.23 111.89,640.9 112.27,640.07 112.9,638.71 113.53,637.35 114.16,635.98 114.79,634.61 115.42,633.24 116.05,631.87 116.05,631.85 116.68,630.86 117.3,629.87 117.93,628.87 118.56,627.89 119.19,626.91 119.82,625.93 120.45,624.96 121.08,624 121.71,623.04 121.86,622.8 121.86,613.75 122.34,612.96 122.97,611.93 123.6,610.91 124.22,609.9 124.85,608.9 125.48,607.91 126.11,606.93 126.74,605.97 127.37,605.01 127.58,604.7 128,603.99 128.63,602.95 129.26,601.93 129.89,600.93 130.52,599.94 131.15,598.98 131.77,598.03 132.4,597.1 133.03,596.19 133.41,595.65 133.41,586.6 133.66,586.3 134.29,585.55 134.92,584.82 135.55,584.11 136.18,583.42 136.81,582.75 137.44,582.09 138.07,581.45 138.7,580.83 139.32,580.22 139.95,579.63 140.58,579.05 141.21,578.49 141.84,577.94 142.29,577.55 142.29,568.5" fill="none" stroke="#000" stroke-width="1.75" stroke-linejoin="round" stroke-linecap="round" clip-path="url(#ce)"/>
<path d="M217.23,568.5 217.23,577.55 217.34,577.64 217.97,578.19 218.6,578.75 219.23,579.32 219.86,579.91 220.49,580.51 221.12,581.13 221.75,581.76 222.38,582.41 223,583.07 223.63,583.75 224.26,584.44 224.89,585.15 225.52,585.88 226.13,586.6 226.13,595.65 226.15,595.68 226.78,596.61 227.41,597.55 228.04,598.5 228.67,599.47 229.3,600.46 229.92,601.47 230.55,602.49 231.18,603.53 231.81,604.59 231.88,604.7 232.44,605.59 233.07,606.59 233.7,607.6 234.33,608.62 234.96,609.65 235.59,610.69 236.22,611.74 236.85,612.8 237.4,613.75 237.4,622.8 237.48,622.92 238.1,623.93 238.73,624.95 239.36,625.97 239.99,627 240.62,628.02 241.25,629.05 241.88,630.09 242.51,631.13 242.95,631.85 243.14,632.29 243.77,633.76 244.4,635.22 245.02,636.67 245.65,638.12 246.28,639.57 246.87,640.9 246.91,640.97 247.54,641.87 248.17,642.76 248.8,643.65 249.43,644.53 250.06,645.4 250.69,646.26 251.32,647.12 251.95,647.96 252.58,648.8 253.2,649.63 253.45,649.95 253.45,659 253.83,659.45 254.46,660.19 255.09,660.91 255.72,661.62 256.35,662.33 256.98,663.02 257.61,663.71 258.24,664.38 258.87,665.05 259.5,665.7 260.12,666.35 260.75,666.98 261.38,667.6 261.84,668.05 262.01,668.28 262.64,669.11 263.27,669.92 263.9,670.72 264.53,671.5 265.16,672.26 265.79,673.01 266.42,673.74 267.05,674.45 267.68,675.14 268.3,675.82 268.93,676.48 269.54,677.1 269.56,677.12 270.19,677.72 270.82,678.3 271.45,678.86 272.08,679.41 272.71,679.93 273.34,680.44 273.97,680.94 274.6,681.41 275.23,681.87 275.85,682.32 276.48,682.74 277.11,683.15 277.74,683.55 278.37,683.92 279,684.28 279.63,684.62 280.26,684.95 280.89,685.26 281.52,685.55 282.15,685.83 282.77,686.09 282.93,686.15 283.4,686.32 284.03,686.54 284.66,686.74 285.29,686.93 285.92,687.09 286.55,687.25" fill="none" stroke="#000" stroke-width="1.75" stroke-linejoin="round" stroke-linecap="round" clip-path="url(#ce)"/>
<path d="M60.05,676.6 60.68,676.74 61.31,676.86 61.94,676.97 62.57,677.06 62.87,677.1 63.2,677.14 63.82,677.19 64.45,677.23 65.08,677.26 65.71,677.27 66.34,677.26 66.97,677.24 67.6,677.21 68.23,677.15 68.73,677.1 68.86,677.09 69.49,677 70.12,676.89 70.75,676.77 71.38,676.64 72,676.48 72.63,676.31 73.26,676.13 73.89,675.92 74.52,675.7 75.15,675.47 75.78,675.21 76.41,674.95 77.04,674.66 77.67,674.36 78.3,674.04 78.92,673.7 79.55,673.35 80.18,672.99 80.81,672.6 81.44,672.2 82.07,671.78 82.7,671.35 83.33,670.89 83.96,670.43 84.59,669.94 85.22,669.44 85.85,668.92 86.48,668.38 86.85,668.05 87.1,667.89 87.73,667.48 88.36,667.06 88.99,666.63 89.62,666.19 90.25,665.74 90.88,665.27 91.51,664.8 92.14,664.31 92.77,663.81 93.4,663.31 94.02,662.79 94.65,662.25 95.28,661.71 95.91,661.16 96.54,660.59 97.17,660.02 97.8,659.43 98.25,659 98.25,649.95 98.43,649.77 99.06,649.13 99.69,648.48 100.32,647.82 100.95,647.16 101.57,646.48 102.2,645.8 102.83,645.11 103.46,644.41 104.09,643.7 104.72,642.98 105.35,642.26 105.98,641.53 106.51,640.9 106.61,640.71 107.24,639.48 107.87,638.25 108.5,637.01 109.12,635.76 109.75,634.51 110.38,633.26 111.01,631.99 111.08,631.85 111.64,631.01 112.27,630.07 112.9,629.12 113.53,628.18 114.16,627.24 114.79,626.31 115.42,625.37 116.05,624.44 116.68,623.51 117.16,622.8 117.16,613.75 117.3,613.51 117.93,612.48 118.56,611.45 119.19,610.44 119.82,609.43 120.45,608.44 121.08,607.45 121.71,606.47 122.34,605.51 122.86,604.7 122.97,604.52 123.6,603.42 124.22,602.33 124.85,601.27 125.48,600.22 126.11,599.2 126.74,598.19 127.37,597.2 128,596.23 128.38,595.65 128.38,586.6 128.63,586.26 129.26,585.43 129.89,584.62 130.52,583.83 131.15,583.07 131.77,582.32 132.4,581.59 133.03,580.88 133.66,580.18 134.29,579.51 134.92,578.85 135.55,578.2 136.18,577.57 136.2,577.55 136.2,568.5" fill="none" stroke="#000" stroke-width="1.75" stroke-linejoin="round" stroke-linecap="round" clip-path="url(#ce)"/>
<path d="M223.21,568.5 223.21,577.55 223.63,577.98 224.26,578.62 224.89,579.28 225.52,579.96 226.15,580.65 226.78,581.36 227.41,582.08 228.04,582.82 228.67,583.57 229.3,584.34 229.92,585.13 230.55,585.94 231.06,586.6 231.06,595.65 231.18,595.84 231.81,596.83 232.44,597.84 233.07,598.86 233.7,599.89 234.33,600.94 234.96,602.01 235.59,603.09 236.22,604.18 236.51,604.7 236.85,605.23 237.48,606.24 238.1,607.25 238.73,608.27 239.36,609.3 239.99,610.33 240.62,611.37 241.25,612.42 241.88,613.47 242.05,613.75 242.05,622.8 242.51,623.52 243.14,624.5 243.77,625.48 244.4,626.45 245.02,627.43 245.65,628.41 246.28,629.38 246.91,630.36 247.54,631.34 247.88,631.85 248.17,632.48 248.8,633.82 249.43,635.16 250.06,636.48 250.69,637.79 251.32,639.1 251.95,640.39 252.2,640.9 252.58,641.38 253.2,642.17 253.83,642.94 254.46,643.71 255.09,644.46 255.72,645.21 256.35,645.95 256.98,646.67 257.61,647.39 258.24,648.09 258.87,648.79 259.5,649.47 259.94,649.95 259.94,659 260.12,659.17 260.75,659.77 261.38,660.35 262.01,660.93 262.64,661.49 263.27,662.04 263.9,662.58 264.53,663.11 265.16,663.63 265.79,664.14 266.42,664.64 267.05,665.12 267.68,665.6 268.3,666.06 268.93,666.51 269.56,666.95 270.19,667.38 270.82,667.8 271.21,668.05 271.45,668.26 272.08,668.8 272.71,669.32 273.34,669.83 273.97,670.31 274.6,670.78 275.23,671.24 275.85,671.68 276.48,672.1 277.11,672.5 277.74,672.89 278.37,673.26 279,673.62 279.63,673.96 280.26,674.28 280.89,674.58 281.52,674.87 282.15,675.15 282.77,675.4 283.4,675.64 284.03,675.87 284.66,676.07 285.29,676.26 285.92,676.44 286.55,676.6" fill="none" stroke="#000" stroke-width="1.75" stroke-linejoin="round" stroke-linecap="round" clip-path="url(#ce)"/>
<path d="M60.05,665.98 60.68,666.07 61.31,666.15 61.94,666.23 62.57,666.29 63.2,666.34 63.82,666.37 64.45,666.4 65.08,666.42 65.71,666.42 66.34,666.42 66.97,666.4 67.6,666.37 68.23,666.33 68.86,666.28 69.49,666.22 70.12,666.14 70.75,666.06 71.38,665.97 72,665.86 72.63,665.74 73.26,665.61 73.89,665.48 74.52,665.33 75.15,665.16 75.78,664.99 76.41,664.81 77.04,664.62 77.67,664.41 78.3,664.2 78.92,663.97 79.55,663.74 80.18,663.49 80.81,663.23 81.44,662.96 82.07,662.68 82.7,662.39 83.33,662.09 83.96,661.78 84.59,661.46 85.22,661.12 85.85,660.78 86.48,660.42 87.1,660.06 87.73,659.68 88.36,659.29 88.82,659 88.82,649.95 88.99,649.83 89.62,649.39 90.25,648.93 90.88,648.46 91.51,647.99 92.14,647.5 92.77,647.01 93.4,646.5 94.02,645.99 94.65,645.47 95.28,644.94 95.91,644.39 96.54,643.84 97.17,643.29 97.8,642.72 98.43,642.14 99.06,641.55 99.69,640.96 99.75,640.9 100.32,639.98 100.95,638.94 101.57,637.9 102.2,636.84 102.83,635.78 103.46,634.71 104.09,633.63 104.72,632.54 105.11,631.85 105.35,631.53 105.98,630.69 106.61,629.84 107.24,628.99 107.87,628.14 108.5,627.28 109.12,626.43 109.75,625.58 110.38,624.73 111.01,623.87 111.64,623.02 111.8,622.8 111.8,613.75 112.27,613.01 112.9,612.03 113.53,611.05 114.16,610.08 114.79,609.12 115.42,608.16 116.05,607.21 116.68,606.27 117.3,605.33 117.73,604.7 117.93,604.34 118.56,603.22 119.19,602.12 119.82,601.04 120.45,599.98 121.08,598.93 121.71,597.91 122.34,596.9 122.97,595.9 123.13,595.65 123.13,586.6 123.6,585.92 124.22,585.03 124.85,584.17 125.48,583.33 126.11,582.51 126.74,581.71 127.37,580.93 128,580.17 128.63,579.43 129.26,578.7 129.89,577.99 130.29,577.55 130.29,568.5" fill="none" stroke="#000" stroke-width="1.75" stroke-linejoin="round" stroke-linecap="round" clip-path="url(#ce)"/>
<path d="M228.85,568.5 228.85,577.55 229.3,578.05 229.92,578.77 230.55,579.5 231.18,580.24 231.81,581 232.44,581.77 233.07,582.56 233.7,583.37 234.33,584.19 234.96,585.04 235.59,585.89 236.09,586.6 236.09,595.65 236.22,595.85 236.85,596.86 237.48,597.88 238.1,598.92 238.73,599.97 239.36,601.03 239.99,602.1 240.62,603.19 241.25,604.29 241.48,604.7 241.88,605.31 242.51,606.28 243.14,607.26 243.77,608.24 244.4,609.22 245.02,610.2 245.65,611.19 246.28,612.18 246.91,613.17 247.28,613.75 247.28,622.8 247.54,623.18 248.17,624.07 248.8,624.96 249.43,625.85 250.06,626.74 250.69,627.62 251.32,628.5 251.95,629.37 252.58,630.24 253.2,631.11 253.75,631.85 253.83,632.01 254.46,633.17 255.09,634.31 255.72,635.44 256.35,636.56 256.98,637.66 257.61,638.76 258.24,639.84 258.87,640.9 258.87,640.9 259.5,641.54 260.12,642.16 260.75,642.77 261.38,643.37 262.01,643.97 262.64,644.55 263.27,645.12 263.9,645.67 264.53,646.22 265.16,646.76 265.79,647.28 266.42,647.8 267.05,648.3 267.68,648.79 268.3,649.27 268.93,649.74 269.23,649.95 269.23,659 269.56,659.22 270.19,659.61 270.82,659.99 271.45,660.37 272.08,660.73 272.71,661.08 273.34,661.42 273.97,661.75 274.6,662.06 275.23,662.37 275.85,662.67 276.48,662.95 277.11,663.22 277.74,663.48 278.37,663.73 279,663.97 279.63,664.2 280.26,664.42 280.89,664.63 281.52,664.82 282.15,665 282.77,665.18 283.4,665.34 284.03,665.49 284.66,665.63 285.29,665.76 285.92,665.87 286.55,665.98" fill="none" stroke="#000" stroke-width="1.75" stroke-linejoin="round" stroke-linecap="round" clip-path="url(#ce)"/>
<path d="M60.05,648.33 60.68,648.43 61.31,648.51 61.94,648.59 62.57,648.65 63.2,648.7 63.82,648.74 64.45,648.77 65.08,648.78 65.71,648.79 66.34,648.78 66.97,648.77 67.6,648.74 68.23,648.7 68.86,648.65 69.49,648.58 70.12,648.51 70.75,648.42 71.38,648.33 72,648.22 72.63,648.1 73.26,647.97 73.89,647.83 74.52,647.68 75.15,647.52 75.78,647.35 76.41,647.17 77.04,646.97 77.67,646.77 78.3,646.56 78.92,646.33 79.55,646.1 80.18,645.85 80.81,645.59 81.44,645.33 82.07,645.05 82.7,644.77 83.33,644.47 83.96,644.17 84.59,643.85 85.22,643.53 85.85,643.19 86.48,642.84 87.1,642.49 87.73,642.13 88.36,641.75 88.99,641.37 89.62,640.98 89.74,640.9 90.25,640.33 90.88,639.61 91.51,638.87 92.14,638.13 92.77,637.37 93.4,636.59 94.02,635.81 94.65,635.01 95.28,634.2 95.91,633.38 96.54,632.55 97.06,631.85 97.17,631.74 97.8,631.05 98.43,630.37 99.06,629.67 99.69,628.97 100.32,628.27 100.95,627.57 101.57,626.85 102.2,626.14 102.83,625.42 103.46,624.7 104.09,623.97 104.72,623.25 105.1,622.8 105.1,613.75 105.35,613.4 105.98,612.52 106.61,611.64 107.24,610.77 107.87,609.89 108.5,609.02 109.12,608.15 109.75,607.29 110.38,606.43 111.01,605.57 111.64,604.71 111.65,604.7 112.27,603.62 112.9,602.55 113.53,601.49 114.16,600.44 114.79,599.42 115.42,598.41 116.05,597.41 116.68,596.43 117.18,595.65 117.18,586.6 117.3,586.41 117.93,585.46 118.56,584.53 119.19,583.64 119.82,582.77 120.45,581.92 121.08,581.1 121.71,580.29 122.34,579.51 122.97,578.75 123.6,578 123.98,577.55 123.98,568.5" fill="none" stroke="#000" stroke-width="1.75" stroke-linejoin="round" stroke-linecap="round" clip-path="url(#ce)"/>
<path d="M234.63,568.5 234.63,577.55 234.96,577.93 235.59,578.68 236.22,579.43 236.85,580.21 237.48,580.99 238.1,581.79 238.73,582.61 239.36,583.44 239.99,584.29 240.62,585.15 241.25,586.03 241.65,586.6 241.65,595.65 241.88,596.01 242.51,596.99 243.14,597.98 243.77,598.98 244.4,599.99 245.02,601.01 245.65,602.04 246.28,603.08 246.91,604.13 247.25,604.7 247.54,605.1 248.17,605.99 248.8,606.87 249.43,607.74 250.06,608.62 250.69,609.5 251.32,610.38 251.95,611.26 252.58,612.13 253.2,613.01 253.74,613.75 253.74,622.8 253.83,622.92 254.46,623.68 255.09,624.43 255.72,625.17 256.35,625.91 256.98,626.65 257.61,627.37 258.24,628.1 258.87,628.81 259.5,629.52 260.12,630.22 260.75,630.91 261.38,631.6 261.62,631.85 262.01,632.41 262.64,633.28 263.27,634.14 263.9,634.98 264.53,635.8 265.16,636.61 265.79,637.41 266.42,638.19 267.05,638.96 267.68,639.71 268.3,640.45 268.7,640.9 268.93,641.05 269.56,641.46 270.19,641.86 270.82,642.25 271.45,642.63 272.08,642.99 272.71,643.35 273.34,643.69 273.97,644.02 274.6,644.34 275.23,644.65 275.85,644.95 276.48,645.24 277.11,645.52 277.74,645.79 278.37,646.04 279,646.29 279.63,646.52 280.26,646.74 280.89,646.95 281.52,647.15 282.15,647.34 282.77,647.51 283.4,647.68 284.03,647.83 284.66,647.97 285.29,648.1 285.92,648.22 286.55,648.33" fill="none" stroke="#000" stroke-width="1.75" stroke-linejoin="round" stroke-linecap="round" clip-path="url(#ce)"/>
<path d="M60.05,636.96 60.68,637.1 61.31,637.23 61.94,637.35 62.57,637.44 63.2,637.52 63.82,637.59 64.45,637.63 65.08,637.66 65.71,637.67 66.34,637.67 66.97,637.64 67.6,637.6 68.23,637.55 68.86,637.47 69.49,637.38 70.12,637.28 70.75,637.15 71.38,637.01 72,636.86 72.63,636.68 73.26,636.49 73.89,636.29 74.52,636.07 75.15,635.83 75.78,635.57 76.41,635.3 77.04,635.02 77.67,634.72 78.3,634.4 78.92,634.07 79.55,633.72 80.18,633.36 80.81,632.98 81.44,632.59 82.07,632.19 82.58,631.85 82.7,631.78 83.33,631.41 83.96,631.04 84.59,630.65 85.22,630.25 85.85,629.84 86.48,629.42 87.1,629 87.73,628.56 88.36,628.12 88.99,627.66 89.62,627.2 90.25,626.73 90.88,626.26 91.51,625.77 92.14,625.28 92.77,624.78 93.4,624.28 94.02,623.77 94.65,623.25 95.19,622.8 95.19,613.75 95.28,613.65 95.91,612.96 96.54,612.28 97.17,611.59 97.8,610.9 98.43,610.2 99.06,609.51 99.69,608.81 100.32,608.12 100.95,607.42 101.57,606.72 102.2,606.02 102.83,605.32 103.39,604.7 103.46,604.59 104.09,603.59 104.72,602.61 105.35,601.65 105.98,600.7 106.61,599.76 107.24,598.84 107.87,597.93 108.5,597.03 109.12,596.14 109.47,595.65 109.47,586.6 109.75,586.16 110.38,585.18 111.01,584.24 111.64,583.34 112.27,582.46 112.9,581.62 113.53,580.8 114.16,580 114.79,579.23 115.42,578.48 116.05,577.74 116.21,577.55 116.21,568.5" fill="none" stroke="#000" stroke-width="1.75" stroke-linejoin="round" stroke-linecap="round" clip-path="url(#ce)"/>
<path d="M241.3,568.5 241.3,577.55 241.88,578.21 242.51,578.93 243.14,579.67 243.77,580.42 244.4,581.18 245.02,581.95 245.65,582.74 246.28,583.54 246.91,584.37 247.54,585.21 248.17,586.07 248.55,586.6 248.55,595.65 248.8,595.99 249.43,596.87 250.06,597.74 250.69,598.62 251.32,599.51 251.95,600.4 252.58,601.3 253.2,602.21 253.83,603.12 254.46,604.04 254.91,604.7 255.09,604.9 255.72,605.62 256.35,606.32 256.98,607.03 257.61,607.73 258.24,608.42 258.87,609.11 259.5,609.8 260.12,610.49 260.75,611.17 261.38,611.84 262.01,612.51 262.64,613.18 263.18,613.75 263.18,622.8 263.27,622.88 263.9,623.41 264.53,623.94 265.16,624.46 265.79,624.97 266.42,625.47 267.05,625.97 267.68,626.45 268.3,626.93 268.93,627.4 269.56,627.85 270.19,628.3 270.82,628.74 271.45,629.18 272.08,629.6 272.71,630.01 273.34,630.41 273.97,630.8 274.6,631.18 275.23,631.55 275.74,631.85 275.85,631.93 276.48,632.35 277.11,632.76 277.74,633.15 278.37,633.53 279,633.89 279.63,634.24 280.26,634.57 280.89,634.88 281.52,635.17 282.15,635.46 282.77,635.72 283.4,635.97 284.03,636.2 284.66,636.41 285.29,636.61 285.92,636.79 286.55,636.96" fill="none" stroke="#000" stroke-width="1.75" stroke-linejoin="round" stroke-linecap="round" clip-path="url(#ce)"/>
<path d="M60.05,611.82 60.68,611.93 61.31,612.02 61.94,612.1 62.57,612.16 63.2,612.22 63.82,612.25 64.45,612.28 65.08,612.29 65.71,612.29 66.34,612.27 66.97,612.24 67.6,612.19 68.23,612.13 68.86,612.06 69.49,611.97 70.12,611.87 70.75,611.76 71.38,611.63 72,611.49 72.63,611.34 73.26,611.17 73.89,611 74.52,610.8 75.15,610.6 75.78,610.39 76.41,610.16 77.04,609.92 77.67,609.68 78.3,609.42 78.92,609.15 79.55,608.86 80.18,608.57 80.81,608.27 81.44,607.97 82.07,607.65 82.7,607.32 83.33,606.99 83.96,606.65 84.59,606.3 85.22,605.94 85.85,605.58 86.48,605.2 87.1,604.83 87.31,604.7 87.73,604.22 88.36,603.5 88.99,602.79 89.62,602.08 90.25,601.39 90.88,600.7 91.51,600.02 92.14,599.34 92.77,598.67 93.4,598.01 94.02,597.36 94.65,596.71 95.28,596.07 95.69,595.65 95.69,586.6 95.91,586.14 96.54,584.91 97.17,583.8 97.8,582.79 98.43,581.86 99.06,581.01 99.69,580.22 100.32,579.47 100.95,578.77 101.57,578.11 102.13,577.55 102.13,568.5" fill="none" stroke="#000" stroke-width="1.75" stroke-linejoin="round" stroke-linecap="round" clip-path="url(#ce)"/>
<path d="M251.3,568.5 251.3,577.55 251.32,577.57 251.95,578.13 252.58,578.71 253.2,579.3 253.83,579.89 254.46,580.5 255.09,581.12 255.72,581.75 256.35,582.4 256.98,583.07 257.61,583.76 258.24,584.48 258.87,585.23 259.5,586 259.96,586.6 259.96,595.65 260.12,595.81 260.75,596.41 261.38,597.01 262.01,597.61 262.64,598.21 263.27,598.82 263.9,599.42 264.53,600.03 265.16,600.64 265.79,601.24 266.42,601.86 267.05,602.47 267.68,603.08 268.3,603.7 268.93,604.32 269.32,604.7 269.56,604.85 270.19,605.22 270.82,605.59 271.45,605.95 272.08,606.3 272.71,606.65 273.34,606.98 273.97,607.31 274.6,607.63 275.23,607.94 275.85,608.24 276.48,608.54 277.11,608.82 277.74,609.09 278.37,609.36 279,609.61 279.63,609.86 280.26,610.09 280.89,610.32 281.52,610.53 282.15,610.74 282.77,610.93 283.4,611.11 284.03,611.27 284.66,611.43 285.29,611.57 285.92,611.7 286.55,611.82" fill="none" stroke="#000" stroke-width="1.75" stroke-linejoin="round" stroke-linecap="round" clip-path="url(#ce)"/>
<path d="M59.7,591.5 L68.7,600.5 M59.7,600.5 L68.7,591.5" stroke="#000" stroke-width="1.0" fill="none"/>
<rect x="60.05" y="568.5" width="226.5" height="181" fill="none" stroke="#000" stroke-width="1.55"/>
<line x1="60.05" y1="563.5" x2="60.05" y2="568.5" stroke="#000" stroke-width="1.35"/>
<line x1="60.05" y1="749.5" x2="60.05" y2="754.5" stroke="#000" stroke-width="1.35"/>
<text x="56.45" y="773.1" font-size="14" text-anchor="middle">−90</text>
<line x1="97.8" y1="563.5" x2="97.8" y2="568.5" stroke="#000" stroke-width="1.35"/>
<line x1="97.8" y1="749.5" x2="97.8" y2="754.5" stroke="#000" stroke-width="1.35"/>
<text x="94.2" y="773.1" font-size="14" text-anchor="middle">−60</text>
<line x1="135.55" y1="563.5" x2="135.55" y2="568.5" stroke="#000" stroke-width="1.35"/>
<line x1="135.55" y1="749.5" x2="135.55" y2="754.5" stroke="#000" stroke-width="1.35"/>
<text x="131.95" y="773.1" font-size="14" text-anchor="middle">−30</text>
<line x1="173.3" y1="563.5" x2="173.3" y2="568.5" stroke="#000" stroke-width="1.35"/>
<line x1="173.3" y1="749.5" x2="173.3" y2="754.5" stroke="#000" stroke-width="1.35"/>
<text x="173.3" y="773.1" font-size="14" text-anchor="middle">0</text>
<line x1="211.05" y1="563.5" x2="211.05" y2="568.5" stroke="#000" stroke-width="1.35"/>
<line x1="211.05" y1="749.5" x2="211.05" y2="754.5" stroke="#000" stroke-width="1.35"/>
<text x="211.05" y="773.1" font-size="14" text-anchor="middle">30</text>
<line x1="248.8" y1="563.5" x2="248.8" y2="568.5" stroke="#000" stroke-width="1.35"/>
<line x1="248.8" y1="749.5" x2="248.8" y2="754.5" stroke="#000" stroke-width="1.35"/>
<text x="248.8" y="773.1" font-size="14" text-anchor="middle">60</text>
<line x1="286.55" y1="563.5" x2="286.55" y2="568.5" stroke="#000" stroke-width="1.35"/>
<line x1="286.55" y1="749.5" x2="286.55" y2="754.5" stroke="#000" stroke-width="1.35"/>
<text x="286.55" y="773.1" font-size="14" text-anchor="middle">90</text>
<line x1="55.05" y1="568.5" x2="60.05" y2="568.5" stroke="#000" stroke-width="1.35"/>
<line x1="286.55" y1="568.5" x2="291.55" y2="568.5" stroke="#000" stroke-width="1.35"/>
<line x1="57.05" y1="613.75" x2="60.05" y2="613.75" stroke="#000" stroke-width="1.35"/>
<line x1="286.55" y1="613.75" x2="289.55" y2="613.75" stroke="#000" stroke-width="1.35"/>
<line x1="55.05" y1="659" x2="60.05" y2="659" stroke="#000" stroke-width="1.35"/>
<line x1="286.55" y1="659" x2="291.55" y2="659" stroke="#000" stroke-width="1.35"/>
<line x1="57.05" y1="704.25" x2="60.05" y2="704.25" stroke="#000" stroke-width="1.35"/>
<line x1="286.55" y1="704.25" x2="289.55" y2="704.25" stroke="#000" stroke-width="1.35"/>
<line x1="55.05" y1="749.5" x2="60.05" y2="749.5" stroke="#000" stroke-width="1.35"/>
<line x1="286.55" y1="749.5" x2="291.55" y2="749.5" stroke="#000" stroke-width="1.35"/>
<text x="49.95" y="573.9" font-size="14" text-anchor="end">0.1</text>
<text x="49.95" y="664.4" font-size="14" text-anchor="end">0.0</text>
<text x="49.95" y="754.9" font-size="14" text-anchor="end">−0.1</text>
<text x="174.3" y="798.6" font-size="14" text-anchor="middle">Azimuth (deg)</text>
<text x="10.6" y="665.4" font-size="14" text-anchor="middle" transform="rotate(-90 10.6 665.4)">Delay time (s)</text>
<text x="73.7" y="560.1" font-size="16" text-anchor="start" letter-spacing="0.09">c = 0.955, θ=−87°, Δt=0.07 s</text>
<text x="-0.1" y="554.6" font-size="14" text-anchor="start">(e)</text>
<defs><clipPath id="cc1"><rect x="370.4" y="303.08" width="135.7" height="90.64"/></clipPath>
<clipPath id="cc2"><rect x="370.4" y="393.72" width="135.7" height="90.6"/></clipPath></defs>
<path d="M370.4,348.3C371.33,349.92 374.07,354.63 376,358C377.93,361.37 380.33,365.92 382,368.5C383.67,371.08 384.52,372.37 386,373.5C387.48,374.63 389.23,375.55 390.9,375.3C392.57,375.05 394.32,373.8 396,372C397.68,370.2 399.12,367.98 401,364.5C402.88,361.02 405.3,355.77 407.3,351.1C409.3,346.43 411.05,340.85 413,336.5C414.95,332.15 417,328 419,325C421,322 422.92,319.95 425,318.5C427.08,317.05 429.07,316.13 431.5,316.3C433.93,316.47 437.18,317.55 439.6,319.5C442.02,321.45 443.93,324.45 446,328C448.07,331.55 449.92,336.72 452,340.8C454.08,344.88 456.22,348.85 458.5,352.5C460.78,356.15 463.45,359.82 465.7,362.7C467.95,365.58 469.72,368.08 472,369.8C474.28,371.52 476.8,372.92 479.4,373C482,373.08 484.85,372.93 487.6,370.3C490.35,367.67 492.82,362.35 495.9,357.2C498.98,352.05 504.4,342.37 506.1,339.4" fill="none" stroke="#000" stroke-width="1.85" stroke-linejoin="round" stroke-linecap="round" clip-path="url(#cc1)"/>
<path d="M370.4,345.6C371.42,345.48 373.67,344.78 376.5,344.9C379.33,345.02 383.98,345.78 387.4,346.3C390.82,346.82 393.68,347.32 397,348C400.32,348.68 403.87,349.2 407.3,350.4C410.73,351.6 414.65,353.73 417.6,355.2C420.55,356.67 422.72,358.35 425,359.2C427.28,360.05 429.1,360.63 431.3,360.3C433.5,359.97 435.67,359.32 438.2,357.2C440.73,355.08 444.2,350.58 446.5,347.6C448.8,344.62 450.33,341.52 452,339.3C453.67,337.08 455.25,335.22 456.5,334.3C457.75,333.38 458.33,333.88 459.5,333.8C460.67,333.72 462.32,333.72 463.5,333.8C464.68,333.88 464.63,332.68 466.6,334.3C468.57,335.92 472.25,340.25 475.3,343.5C478.35,346.75 482.17,351.55 484.9,353.8C487.63,356.05 489.42,356.55 491.7,357C493.98,357.45 496.2,357.03 498.6,356.5C501,355.97 504.85,354.25 506.1,353.8" fill="none" stroke="#f00" stroke-width="1.85" stroke-linejoin="round" stroke-linecap="round" clip-path="url(#cc1)"/>
<path d="M370.4,441C371.42,441.95 374.35,444.72 376.5,446.7C378.65,448.68 381.13,451.47 383.3,452.9C385.47,454.33 387.22,455.42 389.5,455.3C391.78,455.18 394.75,453.67 397,452.2C399.25,450.73 401.17,448.55 403,446.5C404.83,444.45 406.25,442.57 408,439.9C409.75,437.23 411.67,433.65 413.5,430.5C415.33,427.35 417.17,423.6 419,421C420.83,418.4 422.45,416.52 424.5,414.9C426.55,413.28 428.78,411.13 431.3,411.3C433.82,411.47 437.07,413.2 439.6,415.9C442.13,418.6 444.43,423.48 446.5,427.5C448.57,431.52 450.18,436.1 452,440C453.82,443.9 455.73,448.15 457.4,450.9C459.07,453.65 460.4,454.95 462,456.5C463.6,458.05 465.47,459.77 467,460.2C468.53,460.63 468.68,460.88 471.2,459.1C473.72,457.32 478.45,452.58 482.1,449.5C485.75,446.42 489.1,443.92 493.1,440.6C497.1,437.28 503.93,431.43 506.1,429.6" fill="none" stroke="#000" stroke-width="1.85" stroke-linejoin="round" stroke-linecap="round" clip-path="url(#cc2)"/>
<path d="M370.4,447.4C371.18,448.67 373.58,453.07 375.1,455C376.62,456.93 378.02,458.13 379.5,459C380.98,459.87 381.77,460.75 384,460.2C386.23,459.65 390.03,458.63 392.9,455.7C395.77,452.77 398.22,447.3 401.2,442.6C404.18,437.9 407.83,431.2 410.8,427.5C413.77,423.8 416.72,421.88 419,420.4C421.28,418.92 422.45,418.78 424.5,418.6C426.55,418.42 429.02,418.73 431.3,419.3C433.58,419.87 435.45,420.4 438.2,422C440.95,423.6 444.6,425.7 447.8,428.9C451,432.1 454.2,437.08 457.4,441.2C460.6,445.32 464.57,450.63 467,453.6C469.43,456.57 470.28,457.82 472,459C473.72,460.18 474.93,461.37 477.3,460.7C479.67,460.03 483.1,458.47 486.2,455C489.3,451.53 492.58,445.05 495.9,439.9C499.22,434.75 504.4,426.73 506.1,424.1" fill="none" stroke="#f00" stroke-width="1.85" stroke-linejoin="round" stroke-linecap="round" clip-path="url(#cc2)"/>
<rect x="370.4" y="303.08" width="135.7" height="90.64" fill="none" stroke="#000" stroke-width="1.55"/>
<rect x="370.4" y="393.72" width="135.7" height="90.6" fill="none" stroke="#000" stroke-width="1.55"/>
<line x1="365.4" y1="389.6" x2="370.4" y2="389.6" stroke="#000" stroke-width="1.35"/>
<line x1="506.1" y1="389.6" x2="511.1" y2="389.6" stroke="#000" stroke-width="1.35"/>
<line x1="367.4" y1="381.36" x2="370.4" y2="381.36" stroke="#000" stroke-width="1.35"/>
<line x1="506.1" y1="381.36" x2="509.1" y2="381.36" stroke="#000" stroke-width="1.35"/>
<line x1="367.4" y1="373.12" x2="370.4" y2="373.12" stroke="#000" stroke-width="1.35"/>
<line x1="506.1" y1="373.12" x2="509.1" y2="373.12" stroke="#000" stroke-width="1.35"/>
<line x1="365.4" y1="369" x2="370.4" y2="369" stroke="#000" stroke-width="1.35"/>
<line x1="506.1" y1="369" x2="511.1" y2="369" stroke="#000" stroke-width="1.35"/>
<line x1="367.4" y1="364.88" x2="370.4" y2="364.88" stroke="#000" stroke-width="1.35"/>
<line x1="506.1" y1="364.88" x2="509.1" y2="364.88" stroke="#000" stroke-width="1.35"/>
<line x1="367.4" y1="356.64" x2="370.4" y2="356.64" stroke="#000" stroke-width="1.35"/>
<line x1="506.1" y1="356.64" x2="509.1" y2="356.64" stroke="#000" stroke-width="1.35"/>
<line x1="365.4" y1="348.4" x2="370.4" y2="348.4" stroke="#000" stroke-width="1.35"/>
<line x1="506.1" y1="348.4" x2="511.1" y2="348.4" stroke="#000" stroke-width="1.35"/>
<line x1="367.4" y1="340.16" x2="370.4" y2="340.16" stroke="#000" stroke-width="1.35"/>
<line x1="506.1" y1="340.16" x2="509.1" y2="340.16" stroke="#000" stroke-width="1.35"/>
<line x1="367.4" y1="331.92" x2="370.4" y2="331.92" stroke="#000" stroke-width="1.35"/>
<line x1="506.1" y1="331.92" x2="509.1" y2="331.92" stroke="#000" stroke-width="1.35"/>
<line x1="365.4" y1="327.8" x2="370.4" y2="327.8" stroke="#000" stroke-width="1.35"/>
<line x1="506.1" y1="327.8" x2="511.1" y2="327.8" stroke="#000" stroke-width="1.35"/>
<line x1="367.4" y1="323.68" x2="370.4" y2="323.68" stroke="#000" stroke-width="1.35"/>
<line x1="506.1" y1="323.68" x2="509.1" y2="323.68" stroke="#000" stroke-width="1.35"/>
<line x1="367.4" y1="315.44" x2="370.4" y2="315.44" stroke="#000" stroke-width="1.35"/>
<line x1="506.1" y1="315.44" x2="509.1" y2="315.44" stroke="#000" stroke-width="1.35"/>
<line x1="365.4" y1="307.2" x2="370.4" y2="307.2" stroke="#000" stroke-width="1.35"/>
<line x1="506.1" y1="307.2" x2="511.1" y2="307.2" stroke="#000" stroke-width="1.35"/>
<text x="360.4" y="314" font-size="14" text-anchor="end">1.0</text>
<text x="360.4" y="334.6" font-size="14" text-anchor="end">0.5</text>
<text x="360.4" y="355.2" font-size="14" text-anchor="end">0.0</text>
<text x="359.4" y="375.8" font-size="14" text-anchor="end">−0.5</text>
<line x1="365.4" y1="480.2" x2="370.4" y2="480.2" stroke="#000" stroke-width="1.35"/>
<line x1="506.1" y1="480.2" x2="511.1" y2="480.2" stroke="#000" stroke-width="1.35"/>
<line x1="367.4" y1="471.96" x2="370.4" y2="471.96" stroke="#000" stroke-width="1.35"/>
<line x1="506.1" y1="471.96" x2="509.1" y2="471.96" stroke="#000" stroke-width="1.35"/>
<line x1="367.4" y1="463.72" x2="370.4" y2="463.72" stroke="#000" stroke-width="1.35"/>
<line x1="506.1" y1="463.72" x2="509.1" y2="463.72" stroke="#000" stroke-width="1.35"/>
<line x1="365.4" y1="459.6" x2="370.4" y2="459.6" stroke="#000" stroke-width="1.35"/>
<line x1="506.1" y1="459.6" x2="511.1" y2="459.6" stroke="#000" stroke-width="1.35"/>
<line x1="367.4" y1="455.48" x2="370.4" y2="455.48" stroke="#000" stroke-width="1.35"/>
<line x1="506.1" y1="455.48" x2="509.1" y2="455.48" stroke="#000" stroke-width="1.35"/>
<line x1="367.4" y1="447.24" x2="370.4" y2="447.24" stroke="#000" stroke-width="1.35"/>
<line x1="506.1" y1="447.24" x2="509.1" y2="447.24" stroke="#000" stroke-width="1.35"/>
<line x1="365.4" y1="439" x2="370.4" y2="439" stroke="#000" stroke-width="1.35"/>
<line x1="506.1" y1="439" x2="511.1" y2="439" stroke="#000" stroke-width="1.35"/>
<line x1="367.4" y1="430.76" x2="370.4" y2="430.76" stroke="#000" stroke-width="1.35"/>
<line x1="506.1" y1="430.76" x2="509.1" y2="430.76" stroke="#000" stroke-width="1.35"/>
<line x1="367.4" y1="422.52" x2="370.4" y2="422.52" stroke="#000" stroke-width="1.35"/>
<line x1="506.1" y1="422.52" x2="509.1" y2="422.52" stroke="#000" stroke-width="1.35"/>
<line x1="365.4" y1="418.4" x2="370.4" y2="418.4" stroke="#000" stroke-width="1.35"/>
<line x1="506.1" y1="418.4" x2="511.1" y2="418.4" stroke="#000" stroke-width="1.35"/>
<line x1="367.4" y1="414.28" x2="370.4" y2="414.28" stroke="#000" stroke-width="1.35"/>
<line x1="506.1" y1="414.28" x2="509.1" y2="414.28" stroke="#000" stroke-width="1.35"/>
<line x1="367.4" y1="406.04" x2="370.4" y2="406.04" stroke="#000" stroke-width="1.35"/>
<line x1="506.1" y1="406.04" x2="509.1" y2="406.04" stroke="#000" stroke-width="1.35"/>
<line x1="365.4" y1="397.8" x2="370.4" y2="397.8" stroke="#000" stroke-width="1.35"/>
<line x1="506.1" y1="397.8" x2="511.1" y2="397.8" stroke="#000" stroke-width="1.35"/>
<text x="360.4" y="404.6" font-size="14" text-anchor="end">1.0</text>
<text x="360.4" y="425.2" font-size="14" text-anchor="end">0.5</text>
<text x="360.4" y="445.8" font-size="14" text-anchor="end">0.0</text>
<text x="359.4" y="466.4" font-size="14" text-anchor="end">−0.5</text>
<text x="359.4" y="487" font-size="14" text-anchor="end">−1.0</text>
<line x1="370.4" y1="299.58" x2="370.4" y2="303.08" stroke="#000" stroke-width="1.35"/>
<line x1="506.1" y1="299.58" x2="506.1" y2="303.08" stroke="#000" stroke-width="1.35"/>
<line x1="370.4" y1="388.72" x2="370.4" y2="393.72" stroke="#000" stroke-width="1.35"/>
<line x1="370.4" y1="484.32" x2="370.4" y2="489.32" stroke="#000" stroke-width="1.35"/>
<line x1="383.97" y1="390.72" x2="383.97" y2="393.72" stroke="#000" stroke-width="1.35"/>
<line x1="383.97" y1="484.32" x2="383.97" y2="487.32" stroke="#000" stroke-width="1.35"/>
<line x1="397.54" y1="390.72" x2="397.54" y2="393.72" stroke="#000" stroke-width="1.35"/>
<line x1="397.54" y1="484.32" x2="397.54" y2="487.32" stroke="#000" stroke-width="1.35"/>
<line x1="411.11" y1="390.72" x2="411.11" y2="393.72" stroke="#000" stroke-width="1.35"/>
<line x1="411.11" y1="484.32" x2="411.11" y2="487.32" stroke="#000" stroke-width="1.35"/>
<line x1="424.68" y1="390.72" x2="424.68" y2="393.72" stroke="#000" stroke-width="1.35"/>
<line x1="424.68" y1="484.32" x2="424.68" y2="487.32" stroke="#000" stroke-width="1.35"/>
<line x1="438.25" y1="388.72" x2="438.25" y2="393.72" stroke="#000" stroke-width="1.35"/>
<line x1="438.25" y1="484.32" x2="438.25" y2="489.32" stroke="#000" stroke-width="1.35"/>
<line x1="451.82" y1="390.72" x2="451.82" y2="393.72" stroke="#000" stroke-width="1.35"/>
<line x1="451.82" y1="484.32" x2="451.82" y2="487.32" stroke="#000" stroke-width="1.35"/>
<line x1="465.39" y1="390.72" x2="465.39" y2="393.72" stroke="#000" stroke-width="1.35"/>
<line x1="465.39" y1="484.32" x2="465.39" y2="487.32" stroke="#000" stroke-width="1.35"/>
<line x1="478.96" y1="390.72" x2="478.96" y2="393.72" stroke="#000" stroke-width="1.35"/>
<line x1="478.96" y1="484.32" x2="478.96" y2="487.32" stroke="#000" stroke-width="1.35"/>
<line x1="492.53" y1="390.72" x2="492.53" y2="393.72" stroke="#000" stroke-width="1.35"/>
<line x1="492.53" y1="484.32" x2="492.53" y2="487.32" stroke="#000" stroke-width="1.35"/>
<line x1="506.1" y1="388.72" x2="506.1" y2="393.72" stroke="#000" stroke-width="1.35"/>
<line x1="506.1" y1="484.32" x2="506.1" y2="489.32" stroke="#000" stroke-width="1.35"/>
<text x="370.4" y="508.52" font-size="14" text-anchor="middle">0.0</text>
<text x="438.25" y="508.52" font-size="14" text-anchor="middle">0.5</text>
<text x="506.1" y="508.52" font-size="14" text-anchor="middle">1.0</text>
<text x="441" y="531.6" font-size="14" text-anchor="middle">Time (s)</text>
<text x="324" y="398.7" font-size="14" text-anchor="middle" transform="rotate(-90 324 398.7)">Amplitude</text>
<text x="310.3" y="284.4" font-size="14" text-anchor="start">(c)</text>
<defs><clipPath id="cf1"><rect x="372.1" y="568.58" width="135.6" height="90.64"/></clipPath>
<clipPath id="cf2"><rect x="372.1" y="659.22" width="135.6" height="90.6"/></clipPath></defs>
<path d="M372.3,620.5C373.07,621.98 375.5,627.07 376.9,629.4C378.3,631.73 379.22,633.23 380.7,634.5C382.18,635.77 384.1,637.22 385.8,637C387.5,636.78 389.2,635.32 390.9,633.2C392.6,631.08 393.88,629.38 396,624.3C398.12,619.22 401.07,610.33 403.6,602.7C406.13,595.07 409.3,583.27 411.2,578.5C413.1,573.73 413.62,575.37 415,574.1C416.38,572.83 418,570.8 419.5,570.9C421,571 422.42,572.8 424,574.7C425.58,576.6 427.32,578.48 429,582.3C430.68,586.12 432.35,591.48 434.1,597.6C435.85,603.72 437.7,612.02 439.5,619C441.3,625.98 443.15,634.38 444.9,639.5C446.65,644.62 448.3,647.15 450,649.7C451.7,652.25 453.2,654.58 455.1,654.8C457,655.02 459.08,654.18 461.4,651C463.72,647.82 466.45,641 469,635.7C471.55,630.4 474.57,623.02 476.7,619.2C478.83,615.38 480.12,614.5 481.8,612.8C483.48,611.1 485.12,609.52 486.8,609C488.48,608.48 489.98,609.73 491.9,609.7C493.82,609.67 496.6,608.92 498.3,608.8C500,608.68 500.53,609.6 502.1,609C503.67,608.4 506.77,605.83 507.7,605.2" fill="none" stroke="#000" stroke-width="1.85" stroke-linejoin="round" stroke-linecap="round" clip-path="url(#cf1)"/>
<path d="M372.3,591.5C372.97,591.2 375.12,589.78 376.3,589.7C377.48,589.62 377.6,588.62 379.4,591C381.2,593.38 384.77,598.67 387.1,604C389.43,609.33 391.07,616.43 393.4,623C395.73,629.57 398.67,638.52 401.1,643.4C403.53,648.28 405.88,651.67 408,652.3C410.12,652.93 411.57,651.23 413.8,647.2C416.03,643.17 418.87,635.1 421.4,628.1C423.93,621.1 426.67,611.35 429,605.2C431.33,599.05 433.6,594.38 435.4,591.2C437.2,588.02 438.22,587.27 439.8,586.1C441.38,584.93 442.57,583.67 444.9,584.2C447.23,584.73 450.83,586.85 453.8,589.3C456.77,591.75 459.95,595.62 462.7,598.9C465.45,602.18 467.75,605.4 470.3,609C472.85,612.6 475.25,616.68 478,620.5C480.75,624.32 484.05,629.25 486.8,631.9C489.55,634.55 491.95,636.18 494.5,636.4C497.05,636.62 499.9,634.8 502.1,633.2C504.3,631.6 506.77,627.87 507.7,626.8" fill="none" stroke="#f00" stroke-width="1.85" stroke-linejoin="round" stroke-linecap="round" clip-path="url(#cf1)"/>
<path d="M372.3,726.4C373.07,726.78 375.5,728.6 376.9,728.7C378.3,728.8 379,728.98 380.7,727C382.4,725.02 384.98,721.25 387.1,716.8C389.22,712.35 391.28,706.65 393.4,700.3C395.52,693.95 397.88,684.1 399.8,678.7C401.72,673.3 403.42,670.23 404.9,667.9C406.38,665.57 407.22,664.6 408.7,664.7C410.18,664.8 411.9,665.75 413.8,668.5C415.7,671.25 417.98,675.9 420.1,681.2C422.22,686.5 424.38,693.93 426.5,700.3C428.62,706.67 431,714.73 432.8,719.4C434.6,724.07 435.93,726.03 437.3,728.3C438.67,730.57 439.63,731.85 441,733C442.37,734.15 443.58,735.35 445.5,735.2C447.42,735.05 450.27,733.47 452.5,732.1C454.73,730.73 456.57,729.33 458.9,727C461.23,724.67 463.97,721.48 466.5,718.1C469.03,714.72 471.77,710.3 474.1,706.7C476.43,703.1 478.38,699.78 480.5,696.5C482.62,693.22 484.47,689.55 486.8,687C489.13,684.45 492.17,681.85 494.5,681.2C496.83,680.55 498.6,681.93 500.8,683.1C503,684.27 506.55,687.35 507.7,688.2" fill="none" stroke="#000" stroke-width="1.85" stroke-linejoin="round" stroke-linecap="round" clip-path="url(#cf2)"/>
<path d="M372.3,724.7C372.97,725.08 375.12,726.83 376.3,727C377.48,727.17 378.03,727.07 379.4,725.7C380.77,724.33 382.58,722.4 384.5,718.8C386.42,715.2 388.78,709.72 390.9,704.1C393.02,698.48 395.3,690.6 397.2,685.1C399.1,679.6 400.82,674.38 402.3,671.1C403.78,667.82 404.72,666.78 406.1,665.4C407.48,664.02 409.12,662.8 410.6,662.8C412.08,662.8 413.42,663.6 415,665.4C416.58,667.2 418.18,668.83 420.1,673.6C422.02,678.37 424.38,687.22 426.5,694C428.62,700.78 431.13,708.8 432.8,714.3C434.47,719.8 435.33,722.98 436.5,727C437.67,731.02 438.18,735.55 439.8,738.4C441.42,741.25 444.08,743.88 446.2,744.1C448.32,744.32 450.38,742.33 452.5,739.7C454.62,737.07 456.78,732.33 458.9,728.3C461.02,724.27 463.08,719.53 465.2,715.5C467.32,711.47 469.68,706.63 471.6,704.1C473.52,701.57 474.58,700.77 476.7,700.3C478.82,699.83 482.18,701.3 484.3,701.3C486.42,701.3 487.92,700.52 489.4,700.3C490.88,700.08 491.52,701.05 493.2,700C494.88,698.95 497.08,696.28 499.5,694C501.92,691.72 506.33,687.58 507.7,686.3" fill="none" stroke="#f00" stroke-width="1.85" stroke-linejoin="round" stroke-linecap="round" clip-path="url(#cf2)"/>
<rect x="372.1" y="568.58" width="135.6" height="90.64" fill="none" stroke="#000" stroke-width="1.55"/>
<rect x="372.1" y="659.22" width="135.6" height="90.6" fill="none" stroke="#000" stroke-width="1.55"/>
<line x1="367.1" y1="655.1" x2="372.1" y2="655.1" stroke="#000" stroke-width="1.35"/>
<line x1="507.7" y1="655.1" x2="512.7" y2="655.1" stroke="#000" stroke-width="1.35"/>
<line x1="369.1" y1="646.86" x2="372.1" y2="646.86" stroke="#000" stroke-width="1.35"/>
<line x1="507.7" y1="646.86" x2="510.7" y2="646.86" stroke="#000" stroke-width="1.35"/>
<line x1="369.1" y1="638.62" x2="372.1" y2="638.62" stroke="#000" stroke-width="1.35"/>
<line x1="507.7" y1="638.62" x2="510.7" y2="638.62" stroke="#000" stroke-width="1.35"/>
<line x1="367.1" y1="634.5" x2="372.1" y2="634.5" stroke="#000" stroke-width="1.35"/>
<line x1="507.7" y1="634.5" x2="512.7" y2="634.5" stroke="#000" stroke-width="1.35"/>
<line x1="369.1" y1="630.38" x2="372.1" y2="630.38" stroke="#000" stroke-width="1.35"/>
<line x1="507.7" y1="630.38" x2="510.7" y2="630.38" stroke="#000" stroke-width="1.35"/>
<line x1="369.1" y1="622.14" x2="372.1" y2="622.14" stroke="#000" stroke-width="1.35"/>
<line x1="507.7" y1="622.14" x2="510.7" y2="622.14" stroke="#000" stroke-width="1.35"/>
<line x1="367.1" y1="613.9" x2="372.1" y2="613.9" stroke="#000" stroke-width="1.35"/>
<line x1="507.7" y1="613.9" x2="512.7" y2="613.9" stroke="#000" stroke-width="1.35"/>
<line x1="369.1" y1="605.66" x2="372.1" y2="605.66" stroke="#000" stroke-width="1.35"/>
<line x1="507.7" y1="605.66" x2="510.7" y2="605.66" stroke="#000" stroke-width="1.35"/>
<line x1="369.1" y1="597.42" x2="372.1" y2="597.42" stroke="#000" stroke-width="1.35"/>
<line x1="507.7" y1="597.42" x2="510.7" y2="597.42" stroke="#000" stroke-width="1.35"/>
<line x1="367.1" y1="593.3" x2="372.1" y2="593.3" stroke="#000" stroke-width="1.35"/>
<line x1="507.7" y1="593.3" x2="512.7" y2="593.3" stroke="#000" stroke-width="1.35"/>
<line x1="369.1" y1="589.18" x2="372.1" y2="589.18" stroke="#000" stroke-width="1.35"/>
<line x1="507.7" y1="589.18" x2="510.7" y2="589.18" stroke="#000" stroke-width="1.35"/>
<line x1="369.1" y1="580.94" x2="372.1" y2="580.94" stroke="#000" stroke-width="1.35"/>
<line x1="507.7" y1="580.94" x2="510.7" y2="580.94" stroke="#000" stroke-width="1.35"/>
<line x1="367.1" y1="572.7" x2="372.1" y2="572.7" stroke="#000" stroke-width="1.35"/>
<line x1="507.7" y1="572.7" x2="512.7" y2="572.7" stroke="#000" stroke-width="1.35"/>
<text x="363.6" y="577.9" font-size="14" text-anchor="end">1.0</text>
<text x="363.6" y="598.5" font-size="14" text-anchor="end">0.5</text>
<text x="363.6" y="619.1" font-size="14" text-anchor="end">0.0</text>
<text x="361" y="639.7" font-size="14" text-anchor="end">−0.5</text>
<text x="361" y="660.3" font-size="14" text-anchor="end">−1.0</text>
<line x1="367.1" y1="745.7" x2="372.1" y2="745.7" stroke="#000" stroke-width="1.35"/>
<line x1="507.7" y1="745.7" x2="512.7" y2="745.7" stroke="#000" stroke-width="1.35"/>
<line x1="369.1" y1="737.46" x2="372.1" y2="737.46" stroke="#000" stroke-width="1.35"/>
<line x1="507.7" y1="737.46" x2="510.7" y2="737.46" stroke="#000" stroke-width="1.35"/>
<line x1="369.1" y1="729.22" x2="372.1" y2="729.22" stroke="#000" stroke-width="1.35"/>
<line x1="507.7" y1="729.22" x2="510.7" y2="729.22" stroke="#000" stroke-width="1.35"/>
<line x1="367.1" y1="725.1" x2="372.1" y2="725.1" stroke="#000" stroke-width="1.35"/>
<line x1="507.7" y1="725.1" x2="512.7" y2="725.1" stroke="#000" stroke-width="1.35"/>
<line x1="369.1" y1="720.98" x2="372.1" y2="720.98" stroke="#000" stroke-width="1.35"/>
<line x1="507.7" y1="720.98" x2="510.7" y2="720.98" stroke="#000" stroke-width="1.35"/>
<line x1="369.1" y1="712.74" x2="372.1" y2="712.74" stroke="#000" stroke-width="1.35"/>
<line x1="507.7" y1="712.74" x2="510.7" y2="712.74" stroke="#000" stroke-width="1.35"/>
<line x1="367.1" y1="704.5" x2="372.1" y2="704.5" stroke="#000" stroke-width="1.35"/>
<line x1="507.7" y1="704.5" x2="512.7" y2="704.5" stroke="#000" stroke-width="1.35"/>
<line x1="369.1" y1="696.26" x2="372.1" y2="696.26" stroke="#000" stroke-width="1.35"/>
<line x1="507.7" y1="696.26" x2="510.7" y2="696.26" stroke="#000" stroke-width="1.35"/>
<line x1="369.1" y1="688.02" x2="372.1" y2="688.02" stroke="#000" stroke-width="1.35"/>
<line x1="507.7" y1="688.02" x2="510.7" y2="688.02" stroke="#000" stroke-width="1.35"/>
<line x1="367.1" y1="683.9" x2="372.1" y2="683.9" stroke="#000" stroke-width="1.35"/>
<line x1="507.7" y1="683.9" x2="512.7" y2="683.9" stroke="#000" stroke-width="1.35"/>
<line x1="369.1" y1="679.78" x2="372.1" y2="679.78" stroke="#000" stroke-width="1.35"/>
<line x1="507.7" y1="679.78" x2="510.7" y2="679.78" stroke="#000" stroke-width="1.35"/>
<line x1="369.1" y1="671.54" x2="372.1" y2="671.54" stroke="#000" stroke-width="1.35"/>
<line x1="507.7" y1="671.54" x2="510.7" y2="671.54" stroke="#000" stroke-width="1.35"/>
<line x1="367.1" y1="663.3" x2="372.1" y2="663.3" stroke="#000" stroke-width="1.35"/>
<line x1="507.7" y1="663.3" x2="512.7" y2="663.3" stroke="#000" stroke-width="1.35"/>
<text x="363.6" y="668.5" font-size="14" text-anchor="end">1.0</text>
<text x="363.6" y="689.1" font-size="14" text-anchor="end">0.5</text>
<text x="363.6" y="709.7" font-size="14" text-anchor="end">0.0</text>
<text x="361" y="730.3" font-size="14" text-anchor="end">−0.5</text>
<text x="361" y="750.9" font-size="14" text-anchor="end">−1.0</text>
<line x1="372.1" y1="565.08" x2="372.1" y2="568.58" stroke="#000" stroke-width="1.35"/>
<line x1="507.7" y1="565.08" x2="507.7" y2="568.58" stroke="#000" stroke-width="1.35"/>
<line x1="372.1" y1="654.22" x2="372.1" y2="659.22" stroke="#000" stroke-width="1.35"/>
<line x1="372.1" y1="749.82" x2="372.1" y2="754.82" stroke="#000" stroke-width="1.35"/>
<line x1="385.66" y1="656.22" x2="385.66" y2="659.22" stroke="#000" stroke-width="1.35"/>
<line x1="385.66" y1="749.82" x2="385.66" y2="752.82" stroke="#000" stroke-width="1.35"/>
<line x1="399.22" y1="656.22" x2="399.22" y2="659.22" stroke="#000" stroke-width="1.35"/>
<line x1="399.22" y1="749.82" x2="399.22" y2="752.82" stroke="#000" stroke-width="1.35"/>
<line x1="412.78" y1="656.22" x2="412.78" y2="659.22" stroke="#000" stroke-width="1.35"/>
<line x1="412.78" y1="749.82" x2="412.78" y2="752.82" stroke="#000" stroke-width="1.35"/>
<line x1="426.34" y1="656.22" x2="426.34" y2="659.22" stroke="#000" stroke-width="1.35"/>
<line x1="426.34" y1="749.82" x2="426.34" y2="752.82" stroke="#000" stroke-width="1.35"/>
<line x1="439.9" y1="654.22" x2="439.9" y2="659.22" stroke="#000" stroke-width="1.35"/>
<line x1="439.9" y1="749.82" x2="439.9" y2="754.82" stroke="#000" stroke-width="1.35"/>
<line x1="453.46" y1="656.22" x2="453.46" y2="659.22" stroke="#000" stroke-width="1.35"/>
<line x1="453.46" y1="749.82" x2="453.46" y2="752.82" stroke="#000" stroke-width="1.35"/>
<line x1="467.02" y1="656.22" x2="467.02" y2="659.22" stroke="#000" stroke-width="1.35"/>
<line x1="467.02" y1="749.82" x2="467.02" y2="752.82" stroke="#000" stroke-width="1.35"/>
<line x1="480.58" y1="656.22" x2="480.58" y2="659.22" stroke="#000" stroke-width="1.35"/>
<line x1="480.58" y1="749.82" x2="480.58" y2="752.82" stroke="#000" stroke-width="1.35"/>
<line x1="494.14" y1="656.22" x2="494.14" y2="659.22" stroke="#000" stroke-width="1.35"/>
<line x1="494.14" y1="749.82" x2="494.14" y2="752.82" stroke="#000" stroke-width="1.35"/>
<line x1="507.7" y1="654.22" x2="507.7" y2="659.22" stroke="#000" stroke-width="1.35"/>
<line x1="507.7" y1="749.82" x2="507.7" y2="754.82" stroke="#000" stroke-width="1.35"/>
<text x="372.1" y="770.52" font-size="14" text-anchor="middle">0.0</text>
<text x="439.9" y="770.52" font-size="14" text-anchor="middle">0.5</text>
<text x="507.7" y="770.52" font-size="14" text-anchor="middle">1.0</text>
<text x="441.6" y="798.3" font-size="14" text-anchor="middle">Time (s)</text>
<text x="320.2" y="659.4" font-size="14" text-anchor="middle" transform="rotate(-90 320.2 659.4)">Amplitude</text>
<text x="310.9" y="557.2" font-size="14" text-anchor="start">(f)</text>
<path d="M630.8,345.5C628.88,345.42 622.83,344.95 619.3,345C615.77,345.05 612.1,345.45 609.6,345.8C607.1,346.15 604.3,346.7 604.3,347.1C604.3,347.5 606.3,347.68 609.6,348.2C612.9,348.72 619.28,349.47 624.1,350.2C628.92,350.93 634.48,351.8 638.5,352.6C642.52,353.4 644.98,354.05 648.2,355C651.42,355.95 655.4,357.42 657.8,358.3C660.2,359.18 663.4,361.5 662.6,360.3C661.8,359.1 656.2,354.07 653,351.1C649.8,348.13 646.93,345.23 643.4,342.5C639.87,339.77 634.53,336.23 631.8,334.7C629.07,333.17 629.73,333.53 627,333.3C624.27,333.07 617.97,333.07 615.4,333.3C612.83,333.53 612.88,333.65 611.6,334.7C610.32,335.75 608.58,337.83 607.7,339.6C606.82,341.37 606.53,343.7 606.3,345.3C606.07,346.9 606.07,347.75 606.3,349.2C606.53,350.65 606.67,352.72 607.7,354C608.73,355.28 610.57,356.38 612.5,356.9C614.43,357.42 616.57,357.27 619.3,357.1C622.03,356.93 626.02,356.42 628.9,355.9C631.78,355.38 634.75,354.5 636.6,354C638.45,353.5 639.43,353.08 640,352.9" fill="none" stroke="#000" stroke-width="1.55" stroke-linejoin="round" stroke-linecap="round"/>
<path d="M659.3,419.4C658.42,419.27 656.05,418.48 654,418.6C651.95,418.72 649.18,419.33 647,420.1C644.82,420.87 642.65,422.1 640.9,423.2C639.15,424.3 638.1,425.32 636.5,426.7C634.9,428.08 633.05,429.9 631.3,431.5C629.55,433.1 627.9,434.83 626,436.3C624.1,437.77 621.8,438.98 619.9,440.3C618,441.62 616.07,442.6 614.6,444.2C613.13,445.8 611.97,448.07 611.1,449.9C610.23,451.73 609.4,453.6 609.4,455.2C609.4,456.8 610.08,458.57 611.1,459.5C612.12,460.43 614.03,460.8 615.5,460.8C616.97,460.8 618.43,460.43 619.9,459.5C621.37,458.57 622.85,457.08 624.3,455.2C625.75,453.32 627.15,450.83 628.6,448.2C630.05,445.57 631.68,442.18 633,439.4C634.32,436.62 635.62,433.4 636.5,431.5C637.38,429.6 637.42,428.87 638.3,428C639.18,427.13 640.05,427.03 641.8,426.3C643.55,425.57 646.62,424.48 648.8,423.6C650.98,422.72 653.15,421.7 654.9,421C656.65,420.3 658.57,419.67 659.3,419.4" fill="none" stroke="#000" stroke-width="1.55" stroke-linejoin="round" stroke-linecap="round"/>
<path d="M614.6,459.5C614.75,458.48 614.92,455.43 615.5,453.4C616.08,451.37 616.93,449.48 618.1,447.3C619.27,445.12 620.88,442.5 622.5,440.3C624.12,438.1 625.9,435.93 627.8,434.1C629.7,432.27 632.15,430.32 633.9,429.3C635.65,428.28 637.57,428.22 638.3,428" fill="none" stroke="#000" stroke-width="1.55" stroke-linejoin="round" stroke-linecap="round"/>
<rect x="585.7" y="303.28" width="90.2" height="90.64" fill="none" stroke="#000" stroke-width="1.55"/>
<rect x="585.7" y="393.92" width="90.2" height="90.5" fill="none" stroke="#000" stroke-width="1.55"/>
<line x1="580.7" y1="389.8" x2="585.7" y2="389.8" stroke="#000" stroke-width="1.35"/>
<line x1="675.9" y1="389.8" x2="680.9" y2="389.8" stroke="#000" stroke-width="1.35"/>
<line x1="582.7" y1="381.56" x2="585.7" y2="381.56" stroke="#000" stroke-width="1.35"/>
<line x1="675.9" y1="381.56" x2="678.9" y2="381.56" stroke="#000" stroke-width="1.35"/>
<line x1="582.7" y1="373.32" x2="585.7" y2="373.32" stroke="#000" stroke-width="1.35"/>
<line x1="675.9" y1="373.32" x2="678.9" y2="373.32" stroke="#000" stroke-width="1.35"/>
<line x1="580.7" y1="369.2" x2="585.7" y2="369.2" stroke="#000" stroke-width="1.35"/>
<line x1="675.9" y1="369.2" x2="680.9" y2="369.2" stroke="#000" stroke-width="1.35"/>
<line x1="582.7" y1="365.08" x2="585.7" y2="365.08" stroke="#000" stroke-width="1.35"/>
<line x1="675.9" y1="365.08" x2="678.9" y2="365.08" stroke="#000" stroke-width="1.35"/>
<line x1="582.7" y1="356.84" x2="585.7" y2="356.84" stroke="#000" stroke-width="1.35"/>
<line x1="675.9" y1="356.84" x2="678.9" y2="356.84" stroke="#000" stroke-width="1.35"/>
<line x1="580.7" y1="348.6" x2="585.7" y2="348.6" stroke="#000" stroke-width="1.35"/>
<line x1="675.9" y1="348.6" x2="680.9" y2="348.6" stroke="#000" stroke-width="1.35"/>
<line x1="582.7" y1="340.36" x2="585.7" y2="340.36" stroke="#000" stroke-width="1.35"/>
<line x1="675.9" y1="340.36" x2="678.9" y2="340.36" stroke="#000" stroke-width="1.35"/>
<line x1="582.7" y1="332.12" x2="585.7" y2="332.12" stroke="#000" stroke-width="1.35"/>
<line x1="675.9" y1="332.12" x2="678.9" y2="332.12" stroke="#000" stroke-width="1.35"/>
<line x1="580.7" y1="328" x2="585.7" y2="328" stroke="#000" stroke-width="1.35"/>
<line x1="675.9" y1="328" x2="680.9" y2="328" stroke="#000" stroke-width="1.35"/>
<line x1="582.7" y1="323.88" x2="585.7" y2="323.88" stroke="#000" stroke-width="1.35"/>
<line x1="675.9" y1="323.88" x2="678.9" y2="323.88" stroke="#000" stroke-width="1.35"/>
<line x1="582.7" y1="315.64" x2="585.7" y2="315.64" stroke="#000" stroke-width="1.35"/>
<line x1="675.9" y1="315.64" x2="678.9" y2="315.64" stroke="#000" stroke-width="1.35"/>
<line x1="580.7" y1="307.4" x2="585.7" y2="307.4" stroke="#000" stroke-width="1.35"/>
<line x1="675.9" y1="307.4" x2="680.9" y2="307.4" stroke="#000" stroke-width="1.35"/>
<text x="575.5" y="314" font-size="14" text-anchor="end">1.0</text>
<text x="575.5" y="334.6" font-size="14" text-anchor="end">0.5</text>
<text x="575.5" y="355.2" font-size="14" text-anchor="end">0.0</text>
<text x="574.5" y="375.8" font-size="14" text-anchor="end">−0.5</text>
<line x1="580.7" y1="480.3" x2="585.7" y2="480.3" stroke="#000" stroke-width="1.35"/>
<line x1="675.9" y1="480.3" x2="680.9" y2="480.3" stroke="#000" stroke-width="1.35"/>
<line x1="582.7" y1="472.06" x2="585.7" y2="472.06" stroke="#000" stroke-width="1.35"/>
<line x1="675.9" y1="472.06" x2="678.9" y2="472.06" stroke="#000" stroke-width="1.35"/>
<line x1="582.7" y1="463.82" x2="585.7" y2="463.82" stroke="#000" stroke-width="1.35"/>
<line x1="675.9" y1="463.82" x2="678.9" y2="463.82" stroke="#000" stroke-width="1.35"/>
<line x1="580.7" y1="459.7" x2="585.7" y2="459.7" stroke="#000" stroke-width="1.35"/>
<line x1="675.9" y1="459.7" x2="680.9" y2="459.7" stroke="#000" stroke-width="1.35"/>
<line x1="582.7" y1="455.58" x2="585.7" y2="455.58" stroke="#000" stroke-width="1.35"/>
<line x1="675.9" y1="455.58" x2="678.9" y2="455.58" stroke="#000" stroke-width="1.35"/>
<line x1="582.7" y1="447.34" x2="585.7" y2="447.34" stroke="#000" stroke-width="1.35"/>
<line x1="675.9" y1="447.34" x2="678.9" y2="447.34" stroke="#000" stroke-width="1.35"/>
<line x1="580.7" y1="439.1" x2="585.7" y2="439.1" stroke="#000" stroke-width="1.35"/>
<line x1="675.9" y1="439.1" x2="680.9" y2="439.1" stroke="#000" stroke-width="1.35"/>
<line x1="582.7" y1="430.86" x2="585.7" y2="430.86" stroke="#000" stroke-width="1.35"/>
<line x1="675.9" y1="430.86" x2="678.9" y2="430.86" stroke="#000" stroke-width="1.35"/>
<line x1="582.7" y1="422.62" x2="585.7" y2="422.62" stroke="#000" stroke-width="1.35"/>
<line x1="675.9" y1="422.62" x2="678.9" y2="422.62" stroke="#000" stroke-width="1.35"/>
<line x1="580.7" y1="418.5" x2="585.7" y2="418.5" stroke="#000" stroke-width="1.35"/>
<line x1="675.9" y1="418.5" x2="680.9" y2="418.5" stroke="#000" stroke-width="1.35"/>
<line x1="582.7" y1="414.38" x2="585.7" y2="414.38" stroke="#000" stroke-width="1.35"/>
<line x1="675.9" y1="414.38" x2="678.9" y2="414.38" stroke="#000" stroke-width="1.35"/>
<line x1="582.7" y1="406.14" x2="585.7" y2="406.14" stroke="#000" stroke-width="1.35"/>
<line x1="675.9" y1="406.14" x2="678.9" y2="406.14" stroke="#000" stroke-width="1.35"/>
<line x1="580.7" y1="397.9" x2="585.7" y2="397.9" stroke="#000" stroke-width="1.35"/>
<line x1="675.9" y1="397.9" x2="680.9" y2="397.9" stroke="#000" stroke-width="1.35"/>
<text x="575.5" y="404.5" font-size="14" text-anchor="end">1.0</text>
<text x="575.5" y="425.1" font-size="14" text-anchor="end">0.5</text>
<text x="575.5" y="445.7" font-size="14" text-anchor="end">0.0</text>
<text x="574.5" y="466.3" font-size="14" text-anchor="end">−0.5</text>
<text x="574.5" y="486.9" font-size="14" text-anchor="end">−1.0</text>
<line x1="589.8" y1="300.28" x2="589.8" y2="303.28" stroke="#000" stroke-width="1.35"/>
<line x1="589.8" y1="389.92" x2="589.8" y2="397.92" stroke="#000" stroke-width="1.35"/>
<line x1="589.8" y1="484.42" x2="589.8" y2="489.42" stroke="#000" stroke-width="1.35"/>
<line x1="630.8" y1="298.28" x2="630.8" y2="303.28" stroke="#000" stroke-width="1.35"/>
<line x1="630.8" y1="388.92" x2="630.8" y2="398.92" stroke="#000" stroke-width="1.35"/>
<line x1="630.8" y1="484.42" x2="630.8" y2="489.42" stroke="#000" stroke-width="1.35"/>
<line x1="671.8" y1="300.28" x2="671.8" y2="303.28" stroke="#000" stroke-width="1.35"/>
<line x1="671.8" y1="389.92" x2="671.8" y2="397.92" stroke="#000" stroke-width="1.35"/>
<line x1="671.8" y1="484.42" x2="671.8" y2="489.42" stroke="#000" stroke-width="1.35"/>
<text x="587.5" y="508.72" font-size="14" text-anchor="middle">−1</text>
<text x="630.8" y="508.72" font-size="14" text-anchor="middle">0</text>
<text x="671.8" y="508.72" font-size="14" text-anchor="middle">1</text>
<text x="629.6" y="532.4" font-size="14" text-anchor="middle">Amplitude</text>
<text x="540.2" y="398.7" font-size="14" text-anchor="middle" transform="rotate(-90 540.2 398.7)">Amplitude</text>
<text x="526.2" y="287.5" font-size="14" text-anchor="start">(d)</text>
<path d="M628,592.1C626.93,591.7 623.75,589.83 621.6,589.7C619.45,589.57 616.85,590.1 615.1,591.3C613.35,592.5 611.9,594.88 611.1,596.9C610.3,598.92 610.03,601.25 610.3,603.4C610.57,605.55 611.75,607.4 612.7,609.8C613.65,612.2 614.52,614.87 616,617.8C617.48,620.73 619.07,623.92 621.6,627.4C624.13,630.88 627.73,635.48 631.2,638.7C634.67,641.92 638.38,644.57 642.4,646.7C646.42,648.83 651.55,650.63 655.3,651.5C659.05,652.37 662.22,652.43 664.9,651.9C667.58,651.37 669.65,650.23 671.4,648.3C673.15,646.37 674.47,642.97 675.4,640.3C676.33,637.63 677,634.98 677,632.3C677,629.62 676.33,627.15 675.4,624.2C674.47,621.25 673.15,617.53 671.4,614.6C669.65,611.67 667.58,609.28 664.9,606.6C662.22,603.92 659.05,601.18 655.3,598.5C651.55,595.82 647.22,592.63 642.4,590.5C637.58,588.37 631.75,586.77 626.4,585.7C621.05,584.63 614.85,584.05 610.3,584.1C605.75,584.15 601.9,585.2 599.1,586C596.3,586.8 594.57,587.75 593.5,588.9C592.43,590.05 592.3,591.57 592.7,592.9C593.1,594.23 594.03,595.28 595.9,596.9C597.77,598.52 600.97,600.72 603.9,602.6C606.83,604.48 610.28,606.2 613.5,608.2C616.72,610.2 620.25,612.47 623.2,614.6C626.15,616.73 629.07,619.13 631.2,621C633.33,622.87 634.8,624.18 636,625.8C637.2,627.42 637.92,628.95 638.4,630.7C638.88,632.45 638.82,635.37 638.9,636.3" fill="none" stroke="#000" stroke-width="1.55" stroke-linejoin="round" stroke-linecap="round"/>
<path d="M638.9,632.3L642.4,627.4" fill="none" stroke="#000" stroke-width="1.55" stroke-linejoin="round" stroke-linecap="round"/>
<path d="M603.1,744.4C603.77,743.25 605.37,740.65 607.1,737.5C608.83,734.35 611.35,729.38 613.5,725.5C615.65,721.62 617.58,717.42 620,714.2C622.42,710.98 625.33,708.6 628,706.2C630.67,703.8 633.32,701.93 636,699.8C638.68,697.67 641.42,696.08 644.1,693.4C646.78,690.72 649.7,686.65 652.1,683.7C654.5,680.75 656.1,678.1 658.5,675.7C660.9,673.3 664.08,671.3 666.5,669.3C668.92,667.3 672.18,664.23 673,663.7C673.82,663.17 673.02,664.37 671.4,666.1C669.78,667.83 665.98,671.43 663.3,674.1C660.62,676.77 657.83,679.97 655.3,682.1C652.77,684.23 650.52,685.02 648.1,686.9C645.68,688.78 642.82,691.52 640.8,693.4C638.78,695.28 637.47,696.87 636,698.2C634.53,699.53 633.33,700.33 632,701.4C630.67,702.47 629.47,703.27 628,704.6C626.53,705.93 625.07,707.27 623.2,709.4C621.33,711.53 618.82,714.18 616.8,717.4C614.78,720.62 612.98,724.95 611.1,728.7C609.22,732.45 606.75,737.37 605.5,739.9C604.25,742.43 603.92,743.23 603.6,743.9" fill="none" stroke="#000" stroke-width="1.55" stroke-linejoin="round" stroke-linecap="round"/>
<path d="M648.1,686.9C649.03,687.72 652.23,689.92 653.7,691.8C655.17,693.68 656.37,696.73 656.9,698.2C657.43,699.67 657.97,700.2 656.9,700.6C655.83,701 652.63,700.47 650.5,700.6C648.37,700.73 645.98,701.4 644.1,701.4C642.22,701.4 640.82,700.6 639.2,700.6C637.58,700.6 635.2,701.27 634.4,701.4" fill="none" stroke="#000" stroke-width="1.55" stroke-linejoin="round" stroke-linecap="round"/>
<path d="M609.5,727.1L615.1,720.7" fill="none" stroke="#000" stroke-width="1.55" stroke-linejoin="round" stroke-linecap="round"/>
<rect x="588.88" y="568.58" width="90.64" height="90.64" fill="none" stroke="#000" stroke-width="1.55"/>
<rect x="588.88" y="659.22" width="90.64" height="90.6" fill="none" stroke="#000" stroke-width="1.55"/>
<line x1="583.88" y1="655.1" x2="588.88" y2="655.1" stroke="#000" stroke-width="1.35"/>
<line x1="679.52" y1="655.1" x2="684.52" y2="655.1" stroke="#000" stroke-width="1.35"/>
<line x1="585.88" y1="646.86" x2="588.88" y2="646.86" stroke="#000" stroke-width="1.35"/>
<line x1="679.52" y1="646.86" x2="682.52" y2="646.86" stroke="#000" stroke-width="1.35"/>
<line x1="585.88" y1="638.62" x2="588.88" y2="638.62" stroke="#000" stroke-width="1.35"/>
<line x1="679.52" y1="638.62" x2="682.52" y2="638.62" stroke="#000" stroke-width="1.35"/>
<line x1="583.88" y1="634.5" x2="588.88" y2="634.5" stroke="#000" stroke-width="1.35"/>
<line x1="679.52" y1="634.5" x2="684.52" y2="634.5" stroke="#000" stroke-width="1.35"/>
<line x1="585.88" y1="630.38" x2="588.88" y2="630.38" stroke="#000" stroke-width="1.35"/>
<line x1="679.52" y1="630.38" x2="682.52" y2="630.38" stroke="#000" stroke-width="1.35"/>
<line x1="585.88" y1="622.14" x2="588.88" y2="622.14" stroke="#000" stroke-width="1.35"/>
<line x1="679.52" y1="622.14" x2="682.52" y2="622.14" stroke="#000" stroke-width="1.35"/>
<line x1="583.88" y1="613.9" x2="588.88" y2="613.9" stroke="#000" stroke-width="1.35"/>
<line x1="679.52" y1="613.9" x2="684.52" y2="613.9" stroke="#000" stroke-width="1.35"/>
<line x1="585.88" y1="605.66" x2="588.88" y2="605.66" stroke="#000" stroke-width="1.35"/>
<line x1="679.52" y1="605.66" x2="682.52" y2="605.66" stroke="#000" stroke-width="1.35"/>
<line x1="585.88" y1="597.42" x2="588.88" y2="597.42" stroke="#000" stroke-width="1.35"/>
<line x1="679.52" y1="597.42" x2="682.52" y2="597.42" stroke="#000" stroke-width="1.35"/>
<line x1="583.88" y1="593.3" x2="588.88" y2="593.3" stroke="#000" stroke-width="1.35"/>
<line x1="679.52" y1="593.3" x2="684.52" y2="593.3" stroke="#000" stroke-width="1.35"/>
<line x1="585.88" y1="589.18" x2="588.88" y2="589.18" stroke="#000" stroke-width="1.35"/>
<line x1="679.52" y1="589.18" x2="682.52" y2="589.18" stroke="#000" stroke-width="1.35"/>
<line x1="585.88" y1="580.94" x2="588.88" y2="580.94" stroke="#000" stroke-width="1.35"/>
<line x1="679.52" y1="580.94" x2="682.52" y2="580.94" stroke="#000" stroke-width="1.35"/>
<line x1="583.88" y1="572.7" x2="588.88" y2="572.7" stroke="#000" stroke-width="1.35"/>
<line x1="679.52" y1="572.7" x2="684.52" y2="572.7" stroke="#000" stroke-width="1.35"/>
<text x="579.58" y="577.8" font-size="14" text-anchor="end">1.0</text>
<text x="579.58" y="598.4" font-size="14" text-anchor="end">0.5</text>
<text x="579.58" y="619" font-size="14" text-anchor="end">0.0</text>
<text x="576.48" y="639.6" font-size="14" text-anchor="end">−0.5</text>
<text x="576.48" y="660.2" font-size="14" text-anchor="end">−1.0</text>
<line x1="583.88" y1="745.7" x2="588.88" y2="745.7" stroke="#000" stroke-width="1.35"/>
<line x1="679.52" y1="745.7" x2="684.52" y2="745.7" stroke="#000" stroke-width="1.35"/>
<line x1="585.88" y1="737.46" x2="588.88" y2="737.46" stroke="#000" stroke-width="1.35"/>
<line x1="679.52" y1="737.46" x2="682.52" y2="737.46" stroke="#000" stroke-width="1.35"/>
<line x1="585.88" y1="729.22" x2="588.88" y2="729.22" stroke="#000" stroke-width="1.35"/>
<line x1="679.52" y1="729.22" x2="682.52" y2="729.22" stroke="#000" stroke-width="1.35"/>
<line x1="583.88" y1="725.1" x2="588.88" y2="725.1" stroke="#000" stroke-width="1.35"/>
<line x1="679.52" y1="725.1" x2="684.52" y2="725.1" stroke="#000" stroke-width="1.35"/>
<line x1="585.88" y1="720.98" x2="588.88" y2="720.98" stroke="#000" stroke-width="1.35"/>
<line x1="679.52" y1="720.98" x2="682.52" y2="720.98" stroke="#000" stroke-width="1.35"/>
<line x1="585.88" y1="712.74" x2="588.88" y2="712.74" stroke="#000" stroke-width="1.35"/>
<line x1="679.52" y1="712.74" x2="682.52" y2="712.74" stroke="#000" stroke-width="1.35"/>
<line x1="583.88" y1="704.5" x2="588.88" y2="704.5" stroke="#000" stroke-width="1.35"/>
<line x1="679.52" y1="704.5" x2="684.52" y2="704.5" stroke="#000" stroke-width="1.35"/>
<line x1="585.88" y1="696.26" x2="588.88" y2="696.26" stroke="#000" stroke-width="1.35"/>
<line x1="679.52" y1="696.26" x2="682.52" y2="696.26" stroke="#000" stroke-width="1.35"/>
<line x1="585.88" y1="688.02" x2="588.88" y2="688.02" stroke="#000" stroke-width="1.35"/>
<line x1="679.52" y1="688.02" x2="682.52" y2="688.02" stroke="#000" stroke-width="1.35"/>
<line x1="583.88" y1="683.9" x2="588.88" y2="683.9" stroke="#000" stroke-width="1.35"/>
<line x1="679.52" y1="683.9" x2="684.52" y2="683.9" stroke="#000" stroke-width="1.35"/>
<line x1="585.88" y1="679.78" x2="588.88" y2="679.78" stroke="#000" stroke-width="1.35"/>
<line x1="679.52" y1="679.78" x2="682.52" y2="679.78" stroke="#000" stroke-width="1.35"/>
<line x1="585.88" y1="671.54" x2="588.88" y2="671.54" stroke="#000" stroke-width="1.35"/>
<line x1="679.52" y1="671.54" x2="682.52" y2="671.54" stroke="#000" stroke-width="1.35"/>
<line x1="583.88" y1="663.3" x2="588.88" y2="663.3" stroke="#000" stroke-width="1.35"/>
<line x1="679.52" y1="663.3" x2="684.52" y2="663.3" stroke="#000" stroke-width="1.35"/>
<text x="579.58" y="668.4" font-size="14" text-anchor="end">1.0</text>
<text x="579.58" y="689" font-size="14" text-anchor="end">0.5</text>
<text x="579.58" y="709.6" font-size="14" text-anchor="end">0.0</text>
<text x="576.48" y="730.2" font-size="14" text-anchor="end">−0.5</text>
<text x="576.48" y="750.8" font-size="14" text-anchor="end">−1.0</text>
<line x1="593" y1="565.58" x2="593" y2="568.58" stroke="#000" stroke-width="1.35"/>
<line x1="593" y1="655.22" x2="593" y2="663.22" stroke="#000" stroke-width="1.35"/>
<line x1="593" y1="749.82" x2="593" y2="754.82" stroke="#000" stroke-width="1.35"/>
<line x1="634.2" y1="563.58" x2="634.2" y2="568.58" stroke="#000" stroke-width="1.35"/>
<line x1="634.2" y1="654.22" x2="634.2" y2="664.22" stroke="#000" stroke-width="1.35"/>
<line x1="634.2" y1="749.82" x2="634.2" y2="754.82" stroke="#000" stroke-width="1.35"/>
<line x1="675.4" y1="565.58" x2="675.4" y2="568.58" stroke="#000" stroke-width="1.35"/>
<line x1="675.4" y1="655.22" x2="675.4" y2="663.22" stroke="#000" stroke-width="1.35"/>
<line x1="675.4" y1="749.82" x2="675.4" y2="754.82" stroke="#000" stroke-width="1.35"/>
<text x="586.6" y="772.12" font-size="14" text-anchor="middle">−1</text>
<text x="634.2" y="772.12" font-size="14" text-anchor="middle">0</text>
<text x="675.4" y="772.12" font-size="14" text-anchor="middle">1</text>
<text x="630.3" y="798.3" font-size="14" text-anchor="middle">Amplitude</text>
<text x="536.2" y="659.4" font-size="14" text-anchor="middle" transform="rotate(-90 536.2 659.4)">Amplitude</text>
<text x="526.2" y="557.5" font-size="14" text-anchor="start">(g)</text>
</svg>
</body></html>
